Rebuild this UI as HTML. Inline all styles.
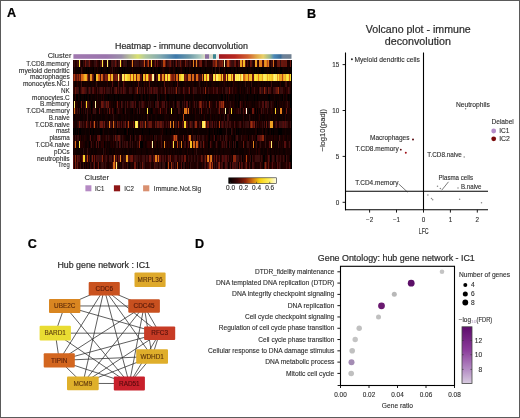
<!DOCTYPE html>
<html><head><meta charset="utf-8"><style>
html,body{margin:0;padding:0;background:#fff;}
body{width:520px;height:418px;overflow:hidden;}
.fig{position:absolute;left:0;top:0;width:518px;height:416px;border:1px solid #5a5a5a;background:#fff;}
svg{position:absolute;left:-1px;top:-1px;filter:blur(0.3px);}
text{font-family:"Liberation Sans", sans-serif;stroke:currentColor;stroke-width:0.12px;}
text.big{stroke-width:0.22px;}

</style></head><body><div class="fig"><svg width="520" height="418" viewBox="0 0 520 418">
<text x="7.00" y="17.00" font-size="12.6" fill="#000" color="#000" class="big" font-weight="bold">A</text>
<text x="307.10" y="18.40" font-size="12.6" fill="#000" color="#000" class="big" font-weight="bold">B</text>
<text x="27.70" y="247.70" font-size="12.6" fill="#000" color="#000" class="big" font-weight="bold">C</text>
<text x="195.10" y="247.70" font-size="12.6" fill="#000" color="#000" class="big" font-weight="bold">D</text>
<text x="115.00" y="48.90" font-size="8.9" fill="#2e2e2e" color="#2e2e2e" class="big" textLength="132.90" lengthAdjust="spacingAndGlyphs">Heatmap - immune deconvolution</text>
<text x="47.70" y="58.40" font-size="7.6" fill="#2e2e2e" color="#2e2e2e" textLength="23.80" lengthAdjust="spacingAndGlyphs">Cluster</text>
<text x="26.25" y="65.75" font-size="6.6" fill="#2e2e2e" color="#2e2e2e" textLength="43.45" lengthAdjust="spacingAndGlyphs">T.CD8.memory</text>
<text x="18.75" y="72.52" font-size="6.6" fill="#2e2e2e" color="#2e2e2e" textLength="50.95" lengthAdjust="spacingAndGlyphs">myeloid dendritic</text>
<text x="30.00" y="79.29" font-size="6.6" fill="#2e2e2e" color="#2e2e2e" textLength="39.70" lengthAdjust="spacingAndGlyphs">macrophages</text>
<text x="22.90" y="86.06" font-size="6.6" fill="#2e2e2e" color="#2e2e2e" textLength="46.80" lengthAdjust="spacingAndGlyphs">monocytes.NC.I</text>
<text x="60.90" y="92.83" font-size="6.6" fill="#2e2e2e" color="#2e2e2e" textLength="8.80" lengthAdjust="spacingAndGlyphs">NK</text>
<text x="32.00" y="99.59" font-size="6.6" fill="#2e2e2e" color="#2e2e2e" textLength="37.70" lengthAdjust="spacingAndGlyphs">monocytes.C</text>
<text x="40.00" y="106.36" font-size="6.6" fill="#2e2e2e" color="#2e2e2e" textLength="29.70" lengthAdjust="spacingAndGlyphs">B.memory</text>
<text x="26.25" y="113.13" font-size="6.6" fill="#2e2e2e" color="#2e2e2e" textLength="43.45" lengthAdjust="spacingAndGlyphs">T.CD4.memory</text>
<text x="48.75" y="119.90" font-size="6.6" fill="#2e2e2e" color="#2e2e2e" textLength="20.95" lengthAdjust="spacingAndGlyphs">B.naive</text>
<text x="35.00" y="126.67" font-size="6.6" fill="#2e2e2e" color="#2e2e2e" textLength="34.70" lengthAdjust="spacingAndGlyphs">T.CD8.naive</text>
<text x="55.90" y="133.44" font-size="6.6" fill="#2e2e2e" color="#2e2e2e" textLength="13.80" lengthAdjust="spacingAndGlyphs">mast</text>
<text x="49.40" y="140.21" font-size="6.6" fill="#2e2e2e" color="#2e2e2e" textLength="20.30" lengthAdjust="spacingAndGlyphs">plasma</text>
<text x="35.50" y="146.98" font-size="6.6" fill="#2e2e2e" color="#2e2e2e" textLength="34.20" lengthAdjust="spacingAndGlyphs">T.CD4.naive</text>
<text x="54.00" y="153.74" font-size="6.6" fill="#2e2e2e" color="#2e2e2e" textLength="15.70" lengthAdjust="spacingAndGlyphs">pDCs</text>
<text x="37.10" y="160.51" font-size="6.6" fill="#2e2e2e" color="#2e2e2e" textLength="32.60" lengthAdjust="spacingAndGlyphs">neutrophils</text>
<text x="57.90" y="167.28" font-size="6.6" fill="#2e2e2e" color="#2e2e2e" textLength="11.80" lengthAdjust="spacingAndGlyphs">Treg</text>
<defs><linearGradient id="cl" x1="0" x2="1" y1="0" y2="0">
<stop offset="0" stop-color="#a078b0"/><stop offset="0.15" stop-color="#9a74ac"/><stop offset="0.22" stop-color="#9a8ea8"/>
<stop offset="0.26" stop-color="#b8c098"/><stop offset="0.295" stop-color="#d8e070"/><stop offset="0.33" stop-color="#b0c8a0"/>
<stop offset="0.4" stop-color="#80a8b0"/><stop offset="0.47" stop-color="#3c78aa"/><stop offset="0.53" stop-color="#6a98a8"/>
<stop offset="0.58" stop-color="#a8c8c0"/><stop offset="0.6" stop-color="#d8dcc4"/>
<stop offset="0.6" stop-color="#d8dcc4"/><stop offset="0.605" stop-color="#d8dcc4"/>
<stop offset="0.605" stop-color="#8a70a0"/><stop offset="0.62" stop-color="#8a70a0"/>
<stop offset="0.62" stop-color="#d0d4c4"/><stop offset="0.64" stop-color="#d0d4c4"/>
<stop offset="0.64" stop-color="#3a8490"/><stop offset="0.655" stop-color="#3a8490"/>
<stop offset="0.655" stop-color="#e8e8e8"/><stop offset="0.667" stop-color="#e8e8e8"/>
<stop offset="0.667" stop-color="#a01820"/><stop offset="0.74" stop-color="#b82820"/><stop offset="0.8" stop-color="#d06030"/>
<stop offset="0.84" stop-color="#e0a848"/><stop offset="0.87" stop-color="#e8d068"/><stop offset="0.9" stop-color="#98b890"/>
<stop offset="0.92" stop-color="#4a88b8"/><stop offset="0.95" stop-color="#3a6c98"/><stop offset="0.96" stop-color="#6a8098"/>
<stop offset="1" stop-color="#708090"/>
</linearGradient>
<linearGradient id="cb" x1="0" x2="1" y1="0" y2="0">
<stop offset="0" stop-color="#000"/><stop offset="0.18" stop-color="#3a0606"/><stop offset="0.35" stop-color="#8a2008"/>
<stop offset="0.5" stop-color="#d07010"/><stop offset="0.65" stop-color="#f8d010"/><stop offset="0.85" stop-color="#fff060"/>
<stop offset="1" stop-color="#fffce8"/></linearGradient>
<linearGradient id="fdr" x1="0" x2="0" y1="0" y2="1">
<stop offset="0" stop-color="#5e0c6c"/><stop offset="0.4" stop-color="#8a3a9a"/><stop offset="0.75" stop-color="#b48cc4"/><stop offset="1" stop-color="#d8cce0"/></linearGradient>
</defs>
<rect x="73.40" y="54.20" width="218.10" height="4.60" fill="url(#cl)"/>
<defs><filter id="hb" x="-2%" y="-2%" width="104%" height="104%"><feGaussianBlur stdDeviation="0.55 0.3"/></filter></defs><g shape-rendering="crispEdges" filter="url(#hb)">
<rect x="73.4" y="60.2" width="218.10" height="108.30" fill="#040002"/>
<rect x="73.4" y="60.20" width="1" height="6.77" fill="#2b0606"/>
<rect x="74.4" y="60.20" width="1" height="6.77" fill="#3a0808"/>
<rect x="75.4" y="60.20" width="1" height="6.77" fill="#1f0405"/>
<rect x="76.4" y="60.20" width="1" height="6.77" fill="#2b0606"/>
<rect x="77.4" y="60.20" width="1" height="6.77" fill="#450b0a"/>
<rect x="78.4" y="60.20" width="1" height="6.77" fill="#350707"/>
<rect x="79.4" y="60.20" width="1" height="6.77" fill="#fce440"/>
<rect x="80.4" y="60.20" width="1" height="6.77" fill="#410a09"/>
<rect x="81.4" y="60.20" width="1" height="6.77" fill="#140204"/>
<rect x="82.4" y="60.20" width="1" height="6.77" fill="#130204"/>
<rect x="83.4" y="60.20" width="1" height="6.77" fill="#360808"/>
<rect x="84.4" y="60.20" width="1" height="6.77" fill="#2f0606"/>
<rect x="85.4" y="60.20" width="1" height="6.77" fill="#6e180e"/>
<rect x="86.4" y="60.20" width="1" height="6.77" fill="#370808"/>
<rect x="87.4" y="60.20" width="1" height="6.77" fill="#3b0808"/>
<rect x="88.4" y="60.20" width="1" height="6.77" fill="#490c0b"/>
<rect x="89.4" y="60.20" width="1" height="6.77" fill="#6e180e"/>
<rect x="90.4" y="60.20" width="1" height="6.77" fill="#2d0606"/>
<rect x="91.4" y="60.20" width="1" height="6.77" fill="#270506"/>
<rect x="92.4" y="60.20" width="1" height="6.77" fill="#1e0305"/>
<rect x="93.4" y="60.20" width="1" height="6.77" fill="#210405"/>
<rect x="94.4" y="60.20" width="1" height="6.77" fill="#340707"/>
<rect x="95.4" y="60.20" width="1" height="6.77" fill="#310707"/>
<rect x="96.4" y="60.20" width="1" height="6.77" fill="#4c0c0b"/>
<rect x="97.4" y="60.20" width="1" height="6.77" fill="#2d0606"/>
<rect x="98.4" y="60.20" width="1" height="6.77" fill="#210405"/>
<rect x="99.4" y="60.20" width="1" height="6.77" fill="#170305"/>
<rect x="100.4" y="60.20" width="1" height="6.77" fill="#400a09"/>
<rect x="101.4" y="60.20" width="1" height="6.77" fill="#4f0d0b"/>
<rect x="102.4" y="60.20" width="1" height="6.77" fill="#fce440"/>
<rect x="103.4" y="60.20" width="1" height="6.77" fill="#3c0909"/>
<rect x="104.4" y="60.20" width="1" height="6.77" fill="#240506"/>
<rect x="105.4" y="60.20" width="1" height="6.77" fill="#1e0305"/>
<rect x="106.4" y="60.20" width="1" height="6.77" fill="#260506"/>
<rect x="107.4" y="60.20" width="1" height="6.77" fill="#fff070"/>
<rect x="108.4" y="60.20" width="1" height="6.77" fill="#340707"/>
<rect x="109.4" y="60.20" width="1" height="6.77" fill="#110204"/>
<rect x="110.4" y="60.20" width="1" height="6.77" fill="#090103"/>
<rect x="111.4" y="60.20" width="1" height="6.77" fill="#3c0909"/>
<rect x="112.4" y="60.20" width="1" height="6.77" fill="#440a0a"/>
<rect x="113.4" y="60.20" width="1" height="6.77" fill="#350707"/>
<rect x="114.4" y="60.20" width="1" height="6.77" fill="#340707"/>
<rect x="115.4" y="60.20" width="1" height="6.77" fill="#6e180e"/>
<rect x="116.4" y="60.20" width="1" height="6.77" fill="#440a0a"/>
<rect x="117.4" y="60.20" width="1" height="6.77" fill="#1b0305"/>
<rect x="118.4" y="60.20" width="1" height="6.77" fill="#370808"/>
<rect x="119.4" y="60.20" width="1" height="6.77" fill="#3a0808"/>
<rect x="120.4" y="60.20" width="1" height="6.77" fill="#fce440"/>
<rect x="121.4" y="60.20" width="1" height="6.77" fill="#5b110d"/>
<rect x="122.4" y="60.20" width="1" height="6.77" fill="#140204"/>
<rect x="123.4" y="60.20" width="1" height="6.77" fill="#310707"/>
<rect x="124.4" y="60.20" width="1" height="6.77" fill="#3e0909"/>
<rect x="125.4" y="60.20" width="1" height="6.77" fill="#2f0707"/>
<rect x="126.4" y="60.20" width="1" height="6.77" fill="#310707"/>
<rect x="127.4" y="60.20" width="1" height="6.77" fill="#0d0103"/>
<rect x="128.4" y="60.20" width="1" height="6.77" fill="#1e0305"/>
<rect x="129.4" y="60.20" width="1" height="6.77" fill="#1c0305"/>
<rect x="130.4" y="60.20" width="1" height="6.77" fill="#1d0305"/>
<rect x="131.4" y="60.20" width="1" height="6.77" fill="#370808"/>
<rect x="132.4" y="60.20" width="1" height="6.77" fill="#e4801c"/>
<rect x="133.4" y="60.20" width="1" height="6.77" fill="#290506"/>
<rect x="134.4" y="60.20" width="1" height="6.77" fill="#350808"/>
<rect x="135.4" y="60.20" width="1" height="6.77" fill="#3c0909"/>
<rect x="136.4" y="60.20" width="1" height="6.77" fill="#350808"/>
<rect x="137.4" y="60.20" width="2" height="6.77" fill="#300707"/>
<rect x="139.4" y="60.20" width="1" height="6.77" fill="#2d0606"/>
<rect x="140.4" y="60.20" width="1" height="6.77" fill="#330707"/>
<rect x="141.4" y="60.20" width="1" height="6.77" fill="#390808"/>
<rect x="142.4" y="60.20" width="1" height="6.77" fill="#3c0909"/>
<rect x="143.4" y="60.20" width="1" height="6.77" fill="#4e0d0b"/>
<rect x="144.4" y="60.20" width="1" height="6.77" fill="#c85414"/>
<rect x="145.4" y="60.20" width="1" height="6.77" fill="#280506"/>
<rect x="146.4" y="60.20" width="1" height="6.77" fill="#300707"/>
<rect x="147.4" y="60.20" width="1" height="6.77" fill="#6e180e"/>
<rect x="148.4" y="60.20" width="1" height="6.77" fill="#b34010"/>
<rect x="149.4" y="60.20" width="1" height="6.77" fill="#250506"/>
<rect x="150.4" y="60.20" width="1" height="6.77" fill="#580f0c"/>
<rect x="151.4" y="60.20" width="1" height="6.77" fill="#f8d42c"/>
<rect x="152.4" y="60.20" width="1" height="6.77" fill="#2a0606"/>
<rect x="153.4" y="60.20" width="1" height="6.77" fill="#280506"/>
<rect x="154.4" y="60.20" width="1" height="6.77" fill="#380808"/>
<rect x="155.4" y="60.20" width="1" height="6.77" fill="#6e180e"/>
<rect x="156.4" y="60.20" width="1" height="6.77" fill="#200405"/>
<rect x="157.4" y="60.20" width="1" height="6.77" fill="#5d110d"/>
<rect x="158.4" y="60.20" width="1" height="6.77" fill="#2c0606"/>
<rect x="159.4" y="60.20" width="1" height="6.77" fill="#2f0606"/>
<rect x="160.4" y="60.20" width="1" height="6.77" fill="#230405"/>
<rect x="161.4" y="60.20" width="1" height="6.77" fill="#340707"/>
<rect x="162.4" y="60.20" width="1" height="6.77" fill="#300707"/>
<rect x="163.4" y="60.20" width="2" height="6.77" fill="#b44010"/>
<rect x="165.4" y="60.20" width="1" height="6.77" fill="#6c170e"/>
<rect x="166.4" y="60.20" width="1" height="6.77" fill="#2c0606"/>
<rect x="167.4" y="60.20" width="1" height="6.77" fill="#310707"/>
<rect x="168.4" y="60.20" width="1" height="6.77" fill="#3d0909"/>
<rect x="169.4" y="60.20" width="1" height="6.77" fill="#520e0c"/>
<rect x="170.4" y="60.20" width="1" height="6.77" fill="#6e180e"/>
<rect x="171.4" y="60.20" width="1" height="6.77" fill="#320707"/>
<rect x="172.4" y="60.20" width="1" height="6.77" fill="#280506"/>
<rect x="173.4" y="60.20" width="1" height="6.77" fill="#360808"/>
<rect x="174.4" y="60.20" width="1" height="6.77" fill="#150204"/>
<rect x="175.4" y="60.20" width="1" height="6.77" fill="#340707"/>
<rect x="176.4" y="60.20" width="1" height="6.77" fill="#6e180e"/>
<rect x="177.4" y="60.20" width="1" height="6.77" fill="#210405"/>
<rect x="178.4" y="60.20" width="1" height="6.77" fill="#3c0909"/>
<rect x="179.4" y="60.20" width="1" height="6.77" fill="#350707"/>
<rect x="180.4" y="60.20" width="1" height="6.77" fill="#6e180e"/>
<rect x="181.4" y="60.20" width="1" height="6.77" fill="#330707"/>
<rect x="182.4" y="60.20" width="2" height="6.77" fill="#260506"/>
<rect x="184.4" y="60.20" width="1" height="6.77" fill="#220405"/>
<rect x="185.4" y="60.20" width="1" height="6.77" fill="#711a0e"/>
<rect x="186.4" y="60.20" width="1" height="6.77" fill="#340707"/>
<rect x="187.4" y="60.20" width="1" height="6.77" fill="#440a0a"/>
<rect x="188.4" y="60.20" width="1" height="6.77" fill="#280506"/>
<rect x="189.4" y="60.20" width="1" height="6.77" fill="#330707"/>
<rect x="190.4" y="60.20" width="1" height="6.77" fill="#3e0909"/>
<rect x="191.4" y="60.20" width="1" height="6.77" fill="#240405"/>
<rect x="192.4" y="60.20" width="1" height="6.77" fill="#280506"/>
<rect x="193.4" y="60.20" width="1" height="6.77" fill="#e4801c"/>
<rect x="194.4" y="60.20" width="1" height="6.77" fill="#260506"/>
<rect x="195.4" y="60.20" width="1" height="6.77" fill="#410a09"/>
<rect x="196.4" y="60.20" width="1" height="6.77" fill="#e4801c"/>
<rect x="197.4" y="60.20" width="1" height="6.77" fill="#3a0808"/>
<rect x="198.4" y="60.20" width="1" height="6.77" fill="#2b0606"/>
<rect x="199.4" y="60.20" width="1" height="6.77" fill="#58100c"/>
<rect x="200.4" y="60.20" width="2" height="6.77" fill="#6e180e"/>
<rect x="202.4" y="60.20" width="1" height="6.77" fill="#1a0305"/>
<rect x="203.4" y="60.20" width="1" height="6.77" fill="#150204"/>
<rect x="204.4" y="60.20" width="1" height="6.77" fill="#250506"/>
<rect x="205.4" y="60.20" width="1" height="6.77" fill="#300707"/>
<rect x="206.4" y="60.20" width="1" height="6.77" fill="#400909"/>
<rect x="207.4" y="60.20" width="1" height="6.77" fill="#160204"/>
<rect x="208.4" y="60.20" width="1" height="6.77" fill="#240405"/>
<rect x="209.4" y="60.20" width="1" height="6.77" fill="#1f0405"/>
<rect x="210.4" y="60.20" width="1" height="6.77" fill="#220405"/>
<rect x="211.4" y="60.20" width="1" height="6.77" fill="#1b0305"/>
<rect x="212.4" y="60.20" width="1" height="6.77" fill="#370808"/>
<rect x="213.4" y="60.20" width="1" height="6.77" fill="#7a1e0e"/>
<rect x="214.4" y="60.20" width="1" height="6.77" fill="#5e120d"/>
<rect x="215.4" y="60.20" width="1" height="6.77" fill="#8c280e"/>
<rect x="216.4" y="60.20" width="1" height="6.77" fill="#ac3b10"/>
<rect x="217.4" y="60.20" width="1" height="6.77" fill="#3e0909"/>
<rect x="218.4" y="60.20" width="1" height="6.77" fill="#470b0a"/>
<rect x="219.4" y="60.20" width="1" height="6.77" fill="#5e120d"/>
<rect x="220.4" y="60.20" width="2" height="6.77" fill="#6e180e"/>
<rect x="222.4" y="60.20" width="1" height="6.77" fill="#86250e"/>
<rect x="223.4" y="60.20" width="1" height="6.77" fill="#350808"/>
<rect x="224.4" y="60.20" width="1" height="6.77" fill="#fff6a8"/>
<rect x="225.4" y="60.20" width="1" height="6.77" fill="#290506"/>
<rect x="226.4" y="60.20" width="1" height="6.77" fill="#540e0c"/>
<rect x="227.4" y="60.20" width="1" height="6.77" fill="#b44010"/>
<rect x="228.4" y="60.20" width="1" height="6.77" fill="#c04c12"/>
<rect x="229.4" y="60.20" width="1" height="6.77" fill="#7a1e0e"/>
<rect x="230.4" y="60.20" width="1" height="6.77" fill="#540e0c"/>
<rect x="231.4" y="60.20" width="1" height="6.77" fill="#3d0909"/>
<rect x="232.4" y="60.20" width="1" height="6.77" fill="#380808"/>
<rect x="233.4" y="60.20" width="1" height="6.77" fill="#310707"/>
<rect x="234.4" y="60.20" width="1" height="6.77" fill="#5e120d"/>
<rect x="235.4" y="60.20" width="1" height="6.77" fill="#6e180e"/>
<rect x="236.4" y="60.20" width="2" height="6.77" fill="#2c0606"/>
<rect x="238.4" y="60.20" width="1" height="6.77" fill="#580f0c"/>
<rect x="239.4" y="60.20" width="1" height="6.77" fill="#380808"/>
<rect x="240.4" y="60.20" width="2" height="6.77" fill="#eea024"/>
<rect x="242.4" y="60.20" width="1" height="6.77" fill="#87250e"/>
<rect x="243.4" y="60.20" width="2" height="6.77" fill="#f4bc28"/>
<rect x="245.4" y="60.20" width="1" height="6.77" fill="#6b170e"/>
<rect x="246.4" y="60.20" width="1" height="6.77" fill="#1e0305"/>
<rect x="247.4" y="60.20" width="1" height="6.77" fill="#4b0c0b"/>
<rect x="248.4" y="60.20" width="1" height="6.77" fill="#250506"/>
<rect x="249.4" y="60.20" width="1" height="6.77" fill="#180305"/>
<rect x="250.4" y="60.20" width="1" height="6.77" fill="#6e180e"/>
<rect x="251.4" y="60.20" width="1" height="6.77" fill="#61130d"/>
<rect x="252.4" y="60.20" width="1" height="6.77" fill="#2f0707"/>
<rect x="253.4" y="60.20" width="1" height="6.77" fill="#220405"/>
<rect x="254.4" y="60.20" width="1" height="6.77" fill="#2e0606"/>
<rect x="255.4" y="60.20" width="2" height="6.77" fill="#eea024"/>
<rect x="257.4" y="60.20" width="1" height="6.77" fill="#410a09"/>
<rect x="258.4" y="60.20" width="1" height="6.77" fill="#2c0606"/>
<rect x="259.4" y="60.20" width="3" height="6.77" fill="#e4801c"/>
<rect x="262.4" y="60.20" width="1" height="6.77" fill="#59100c"/>
<rect x="263.4" y="60.20" width="1" height="6.77" fill="#3f0909"/>
<rect x="264.4" y="60.20" width="1" height="6.77" fill="#e6871e"/>
<rect x="265.4" y="60.20" width="1" height="6.77" fill="#eb9722"/>
<rect x="266.4" y="60.20" width="1" height="6.77" fill="#e4811c"/>
<rect x="267.4" y="60.20" width="1" height="6.77" fill="#c04c12"/>
<rect x="268.4" y="60.20" width="1" height="6.77" fill="#e0781b"/>
<rect x="269.4" y="60.20" width="1" height="6.77" fill="#3a0808"/>
<rect x="270.4" y="60.20" width="1" height="6.77" fill="#270506"/>
<rect x="271.4" y="60.20" width="1" height="6.77" fill="#3d0909"/>
<rect x="272.4" y="60.20" width="1" height="6.77" fill="#380808"/>
<rect x="273.4" y="60.20" width="1" height="6.77" fill="#d86818"/>
<rect x="274.4" y="60.20" width="1" height="6.77" fill="#280506"/>
<rect x="275.4" y="60.20" width="1" height="6.77" fill="#200405"/>
<rect x="276.4" y="60.20" width="1" height="6.77" fill="#260506"/>
<rect x="277.4" y="60.20" width="1" height="6.77" fill="#63140d"/>
<rect x="278.4" y="60.20" width="2" height="6.77" fill="#69160e"/>
<rect x="280.4" y="60.20" width="1" height="6.77" fill="#330707"/>
<rect x="281.4" y="60.20" width="2" height="6.77" fill="#69160e"/>
<rect x="283.4" y="60.20" width="3" height="6.77" fill="#64140d"/>
<rect x="286.4" y="60.20" width="1" height="6.77" fill="#69160e"/>
<rect x="287.4" y="60.20" width="3" height="6.77" fill="#1c0305"/>
<rect x="290.4" y="60.20" width="1" height="6.77" fill="#69160e"/>
<rect x="73.4" y="66.97" width="1" height="6.77" fill="#080103"/>
<rect x="74.4" y="66.97" width="1" height="6.77" fill="#2a0606"/>
<rect x="75.4" y="66.97" width="1" height="6.77" fill="#110204"/>
<rect x="76.4" y="66.97" width="1" height="6.77" fill="#0c0103"/>
<rect x="77.4" y="66.97" width="1" height="6.77" fill="#0b0103"/>
<rect x="78.4" y="66.97" width="1" height="6.77" fill="#100204"/>
<rect x="79.4" y="66.97" width="1" height="6.77" fill="#0f0204"/>
<rect x="80.4" y="66.97" width="1" height="6.77" fill="#0d0204"/>
<rect x="81.4" y="66.97" width="1" height="6.77" fill="#310707"/>
<rect x="82.4" y="66.97" width="1" height="6.77" fill="#200405"/>
<rect x="83.4" y="66.97" width="1" height="6.77" fill="#070002"/>
<rect x="84.4" y="66.97" width="1" height="6.77" fill="#090103"/>
<rect x="85.4" y="66.97" width="1" height="6.77" fill="#0e0204"/>
<rect x="86.4" y="66.97" width="1" height="6.77" fill="#060002"/>
<rect x="87.4" y="66.97" width="1" height="6.77" fill="#0b0103"/>
<rect x="88.4" y="66.97" width="1" height="6.77" fill="#050002"/>
<rect x="89.4" y="66.97" width="1" height="6.77" fill="#0b0103"/>
<rect x="90.4" y="66.97" width="1" height="6.77" fill="#080103"/>
<rect x="91.4" y="66.97" width="1" height="6.77" fill="#0f0204"/>
<rect x="92.4" y="66.97" width="1" height="6.77" fill="#0c0103"/>
<rect x="93.4" y="66.97" width="1" height="6.77" fill="#050002"/>
<rect x="94.4" y="66.97" width="1" height="6.77" fill="#1d0305"/>
<rect x="95.4" y="66.97" width="1" height="6.77" fill="#120204"/>
<rect x="96.4" y="66.97" width="1" height="6.77" fill="#0a0103"/>
<rect x="97.4" y="66.97" width="1" height="6.77" fill="#200405"/>
<rect x="98.4" y="66.97" width="1" height="6.77" fill="#0f0204"/>
<rect x="99.4" y="66.97" width="1" height="6.77" fill="#090103"/>
<rect x="100.4" y="66.97" width="1" height="6.77" fill="#0d0204"/>
<rect x="101.4" y="66.97" width="1" height="6.77" fill="#060002"/>
<rect x="102.4" y="66.97" width="1" height="6.77" fill="#0b0103"/>
<rect x="103.4" y="66.97" width="1" height="6.77" fill="#0a0103"/>
<rect x="104.4" y="66.97" width="1" height="6.77" fill="#120204"/>
<rect x="105.4" y="66.97" width="2" height="6.77" fill="#0a0103"/>
<rect x="107.4" y="66.97" width="1" height="6.77" fill="#060002"/>
<rect x="108.4" y="66.97" width="1" height="6.77" fill="#090103"/>
<rect x="109.4" y="66.97" width="1" height="6.77" fill="#0a0103"/>
<rect x="110.4" y="66.97" width="1" height="6.77" fill="#200405"/>
<rect x="111.4" y="66.97" width="1" height="6.77" fill="#1a0305"/>
<rect x="112.4" y="66.97" width="1" height="6.77" fill="#320707"/>
<rect x="113.4" y="66.97" width="1" height="6.77" fill="#0f0204"/>
<rect x="114.4" y="66.97" width="1" height="6.77" fill="#200405"/>
<rect x="115.4" y="66.97" width="1" height="6.77" fill="#0d0204"/>
<rect x="116.4" y="66.97" width="1" height="6.77" fill="#120204"/>
<rect x="117.4" y="66.97" width="1" height="6.77" fill="#090103"/>
<rect x="118.4" y="66.97" width="1" height="6.77" fill="#0f0204"/>
<rect x="119.4" y="66.97" width="1" height="6.77" fill="#040002"/>
<rect x="120.4" y="66.97" width="1" height="6.77" fill="#0a0103"/>
<rect x="121.4" y="66.97" width="1" height="6.77" fill="#0c0103"/>
<rect x="122.4" y="66.97" width="1" height="6.77" fill="#050002"/>
<rect x="123.4" y="66.97" width="1" height="6.77" fill="#0a0103"/>
<rect x="124.4" y="66.97" width="1" height="6.77" fill="#060002"/>
<rect x="125.4" y="66.97" width="1" height="6.77" fill="#0b0103"/>
<rect x="126.4" y="66.97" width="1" height="6.77" fill="#0c0103"/>
<rect x="127.4" y="66.97" width="1" height="6.77" fill="#0a0103"/>
<rect x="128.4" y="66.97" width="1" height="6.77" fill="#080103"/>
<rect x="129.4" y="66.97" width="1" height="6.77" fill="#0d0204"/>
<rect x="130.4" y="66.97" width="1" height="6.77" fill="#070103"/>
<rect x="131.4" y="66.97" width="1" height="6.77" fill="#0e0204"/>
<rect x="132.4" y="66.97" width="1" height="6.77" fill="#240405"/>
<rect x="133.4" y="66.97" width="1" height="6.77" fill="#100204"/>
<rect x="134.4" y="66.97" width="1" height="6.77" fill="#0b0103"/>
<rect x="135.4" y="66.97" width="1" height="6.77" fill="#0f0204"/>
<rect x="136.4" y="66.97" width="1" height="6.77" fill="#0c0103"/>
<rect x="137.4" y="66.97" width="1" height="6.77" fill="#070002"/>
<rect x="138.4" y="66.97" width="1" height="6.77" fill="#090103"/>
<rect x="139.4" y="66.97" width="1" height="6.77" fill="#100204"/>
<rect x="140.4" y="66.97" width="1" height="6.77" fill="#040002"/>
<rect x="141.4" y="66.97" width="1" height="6.77" fill="#0a0103"/>
<rect x="142.4" y="66.97" width="1" height="6.77" fill="#070103"/>
<rect x="143.4" y="66.97" width="1" height="6.77" fill="#0f0204"/>
<rect x="144.4" y="66.97" width="1" height="6.77" fill="#0c0103"/>
<rect x="145.4" y="66.97" width="1" height="6.77" fill="#0e0204"/>
<rect x="146.4" y="66.97" width="1" height="6.77" fill="#0f0204"/>
<rect x="147.4" y="66.97" width="1" height="6.77" fill="#050002"/>
<rect x="148.4" y="66.97" width="2" height="6.77" fill="#0a0103"/>
<rect x="150.4" y="66.97" width="1" height="6.77" fill="#100204"/>
<rect x="151.4" y="66.97" width="1" height="6.77" fill="#060002"/>
<rect x="152.4" y="66.97" width="1" height="6.77" fill="#0f0204"/>
<rect x="153.4" y="66.97" width="1" height="6.77" fill="#120204"/>
<rect x="154.4" y="66.97" width="1" height="6.77" fill="#050002"/>
<rect x="155.4" y="66.97" width="1" height="6.77" fill="#110204"/>
<rect x="156.4" y="66.97" width="1" height="6.77" fill="#0b0103"/>
<rect x="157.4" y="66.97" width="1" height="6.77" fill="#0f0204"/>
<rect x="158.4" y="66.97" width="2" height="6.77" fill="#060002"/>
<rect x="160.4" y="66.97" width="1" height="6.77" fill="#0e0204"/>
<rect x="161.4" y="66.97" width="1" height="6.77" fill="#110204"/>
<rect x="162.4" y="66.97" width="1" height="6.77" fill="#1e0305"/>
<rect x="163.4" y="66.97" width="1" height="6.77" fill="#270506"/>
<rect x="164.4" y="66.97" width="1" height="6.77" fill="#120204"/>
<rect x="165.4" y="66.97" width="1" height="6.77" fill="#0c0103"/>
<rect x="166.4" y="66.97" width="1" height="6.77" fill="#0f0204"/>
<rect x="167.4" y="66.97" width="1" height="6.77" fill="#080103"/>
<rect x="168.4" y="66.97" width="1" height="6.77" fill="#070002"/>
<rect x="169.4" y="66.97" width="1" height="6.77" fill="#270506"/>
<rect x="170.4" y="66.97" width="1" height="6.77" fill="#120204"/>
<rect x="171.4" y="66.97" width="1" height="6.77" fill="#090103"/>
<rect x="172.4" y="66.97" width="1" height="6.77" fill="#070103"/>
<rect x="173.4" y="66.97" width="1" height="6.77" fill="#200405"/>
<rect x="174.4" y="66.97" width="1" height="6.77" fill="#1d0305"/>
<rect x="175.4" y="66.97" width="1" height="6.77" fill="#110204"/>
<rect x="176.4" y="66.97" width="1" height="6.77" fill="#050002"/>
<rect x="177.4" y="66.97" width="1" height="6.77" fill="#0a0103"/>
<rect x="178.4" y="66.97" width="1" height="6.77" fill="#0b0103"/>
<rect x="179.4" y="66.97" width="1" height="6.77" fill="#0e0204"/>
<rect x="180.4" y="66.97" width="1" height="6.77" fill="#1b0305"/>
<rect x="181.4" y="66.97" width="1" height="6.77" fill="#270506"/>
<rect x="182.4" y="66.97" width="2" height="6.77" fill="#070002"/>
<rect x="184.4" y="66.97" width="1" height="6.77" fill="#080103"/>
<rect x="185.4" y="66.97" width="1" height="6.77" fill="#060002"/>
<rect x="186.4" y="66.97" width="1" height="6.77" fill="#0d0103"/>
<rect x="187.4" y="66.97" width="1" height="6.77" fill="#0b0103"/>
<rect x="188.4" y="66.97" width="1" height="6.77" fill="#050002"/>
<rect x="189.4" y="66.97" width="1" height="6.77" fill="#1e0305"/>
<rect x="190.4" y="66.97" width="1" height="6.77" fill="#0d0103"/>
<rect x="191.4" y="66.97" width="1" height="6.77" fill="#0e0204"/>
<rect x="192.4" y="66.97" width="1" height="6.77" fill="#0a0103"/>
<rect x="193.4" y="66.97" width="1" height="6.77" fill="#090103"/>
<rect x="194.4" y="66.97" width="1" height="6.77" fill="#050002"/>
<rect x="195.4" y="66.97" width="1" height="6.77" fill="#070002"/>
<rect x="196.4" y="66.97" width="1" height="6.77" fill="#0c0103"/>
<rect x="197.4" y="66.97" width="1" height="6.77" fill="#080103"/>
<rect x="198.4" y="66.97" width="1" height="6.77" fill="#100204"/>
<rect x="199.4" y="66.97" width="1" height="6.77" fill="#0a0103"/>
<rect x="200.4" y="66.97" width="1" height="6.77" fill="#050002"/>
<rect x="201.4" y="66.97" width="1" height="6.77" fill="#0a0103"/>
<rect x="202.4" y="66.97" width="1" height="6.77" fill="#0c0103"/>
<rect x="203.4" y="66.97" width="1" height="6.77" fill="#090103"/>
<rect x="204.4" y="66.97" width="1" height="6.77" fill="#080103"/>
<rect x="205.4" y="66.97" width="1" height="6.77" fill="#050002"/>
<rect x="206.4" y="66.97" width="1" height="6.77" fill="#070002"/>
<rect x="207.4" y="66.97" width="1" height="6.77" fill="#0a0103"/>
<rect x="208.4" y="66.97" width="1" height="6.77" fill="#0f0204"/>
<rect x="209.4" y="66.97" width="2" height="6.77" fill="#0d0204"/>
<rect x="211.4" y="66.97" width="1" height="6.77" fill="#090103"/>
<rect x="212.4" y="66.97" width="1" height="6.77" fill="#200405"/>
<rect x="213.4" y="66.97" width="1" height="6.77" fill="#050002"/>
<rect x="214.4" y="66.97" width="1" height="6.77" fill="#090103"/>
<rect x="215.4" y="66.97" width="1" height="6.77" fill="#2f0707"/>
<rect x="216.4" y="66.97" width="1" height="6.77" fill="#0e0204"/>
<rect x="217.4" y="66.97" width="1" height="6.77" fill="#080103"/>
<rect x="218.4" y="66.97" width="1" height="6.77" fill="#0d0103"/>
<rect x="219.4" y="66.97" width="1" height="6.77" fill="#310707"/>
<rect x="220.4" y="66.97" width="1" height="6.77" fill="#060002"/>
<rect x="221.4" y="66.97" width="1" height="6.77" fill="#0b0103"/>
<rect x="222.4" y="66.97" width="1" height="6.77" fill="#0f0204"/>
<rect x="223.4" y="66.97" width="1" height="6.77" fill="#100204"/>
<rect x="224.4" y="66.97" width="1" height="6.77" fill="#2a0606"/>
<rect x="225.4" y="66.97" width="1" height="6.77" fill="#080103"/>
<rect x="226.4" y="66.97" width="1" height="6.77" fill="#060002"/>
<rect x="227.4" y="66.97" width="1" height="6.77" fill="#100204"/>
<rect x="228.4" y="66.97" width="1" height="6.77" fill="#0f0204"/>
<rect x="229.4" y="66.97" width="1" height="6.77" fill="#0b0103"/>
<rect x="230.4" y="66.97" width="1" height="6.77" fill="#060002"/>
<rect x="231.4" y="66.97" width="1" height="6.77" fill="#0d0204"/>
<rect x="232.4" y="66.97" width="1" height="6.77" fill="#0c0103"/>
<rect x="233.4" y="66.97" width="1" height="6.77" fill="#0a0103"/>
<rect x="234.4" y="66.97" width="1" height="6.77" fill="#050002"/>
<rect x="235.4" y="66.97" width="1" height="6.77" fill="#070103"/>
<rect x="236.4" y="66.97" width="1" height="6.77" fill="#120204"/>
<rect x="237.4" y="66.97" width="1" height="6.77" fill="#060002"/>
<rect x="238.4" y="66.97" width="1" height="6.77" fill="#0b0103"/>
<rect x="239.4" y="66.97" width="1" height="6.77" fill="#070103"/>
<rect x="240.4" y="66.97" width="2" height="6.77" fill="#0f0204"/>
<rect x="242.4" y="66.97" width="2" height="6.77" fill="#080103"/>
<rect x="244.4" y="66.97" width="1" height="6.77" fill="#0a0103"/>
<rect x="245.4" y="66.97" width="1" height="6.77" fill="#070103"/>
<rect x="246.4" y="66.97" width="1" height="6.77" fill="#110204"/>
<rect x="247.4" y="66.97" width="1" height="6.77" fill="#050002"/>
<rect x="248.4" y="66.97" width="1" height="6.77" fill="#080103"/>
<rect x="249.4" y="66.97" width="1" height="6.77" fill="#0d0204"/>
<rect x="250.4" y="66.97" width="1" height="6.77" fill="#170305"/>
<rect x="251.4" y="66.97" width="1" height="6.77" fill="#110204"/>
<rect x="252.4" y="66.97" width="1" height="6.77" fill="#0a0103"/>
<rect x="253.4" y="66.97" width="1" height="6.77" fill="#110204"/>
<rect x="254.4" y="66.97" width="1" height="6.77" fill="#050002"/>
<rect x="255.4" y="66.97" width="1" height="6.77" fill="#100204"/>
<rect x="256.4" y="66.97" width="1" height="6.77" fill="#050002"/>
<rect x="257.4" y="66.97" width="1" height="6.77" fill="#070002"/>
<rect x="258.4" y="66.97" width="1" height="6.77" fill="#0f0204"/>
<rect x="259.4" y="66.97" width="1" height="6.77" fill="#040002"/>
<rect x="260.4" y="66.97" width="1" height="6.77" fill="#0e0204"/>
<rect x="261.4" y="66.97" width="3" height="6.77" fill="#050002"/>
<rect x="264.4" y="66.97" width="1" height="6.77" fill="#110204"/>
<rect x="265.4" y="66.97" width="1" height="6.77" fill="#100204"/>
<rect x="266.4" y="66.97" width="1" height="6.77" fill="#090103"/>
<rect x="267.4" y="66.97" width="1" height="6.77" fill="#190305"/>
<rect x="268.4" y="66.97" width="1" height="6.77" fill="#0b0103"/>
<rect x="269.4" y="66.97" width="1" height="6.77" fill="#0f0204"/>
<rect x="270.4" y="66.97" width="1" height="6.77" fill="#060002"/>
<rect x="271.4" y="66.97" width="1" height="6.77" fill="#0d0204"/>
<rect x="272.4" y="66.97" width="1" height="6.77" fill="#080103"/>
<rect x="273.4" y="66.97" width="1" height="6.77" fill="#0e0204"/>
<rect x="274.4" y="66.97" width="1" height="6.77" fill="#050002"/>
<rect x="275.4" y="66.97" width="1" height="6.77" fill="#110204"/>
<rect x="276.4" y="66.97" width="1" height="6.77" fill="#040002"/>
<rect x="277.4" y="66.97" width="1" height="6.77" fill="#100204"/>
<rect x="278.4" y="66.97" width="1" height="6.77" fill="#0a0103"/>
<rect x="279.4" y="66.97" width="1" height="6.77" fill="#120204"/>
<rect x="280.4" y="66.97" width="1" height="6.77" fill="#060002"/>
<rect x="281.4" y="66.97" width="1" height="6.77" fill="#050002"/>
<rect x="282.4" y="66.97" width="1" height="6.77" fill="#090103"/>
<rect x="283.4" y="66.97" width="1" height="6.77" fill="#140204"/>
<rect x="284.4" y="66.97" width="1" height="6.77" fill="#100204"/>
<rect x="285.4" y="66.97" width="1" height="6.77" fill="#0c0103"/>
<rect x="286.4" y="66.97" width="1" height="6.77" fill="#0f0204"/>
<rect x="287.4" y="66.97" width="1" height="6.77" fill="#090103"/>
<rect x="288.4" y="66.97" width="1" height="6.77" fill="#190305"/>
<rect x="289.4" y="66.97" width="1" height="6.77" fill="#0f0204"/>
<rect x="290.4" y="66.97" width="1" height="6.77" fill="#100204"/>
<rect x="73.4" y="73.74" width="1" height="6.77" fill="#7a1e0e"/>
<rect x="74.4" y="73.74" width="1" height="6.77" fill="#ac3b10"/>
<rect x="75.4" y="73.74" width="2" height="6.77" fill="#5e120d"/>
<rect x="77.4" y="73.74" width="1" height="6.77" fill="#8c280e"/>
<rect x="78.4" y="73.74" width="1" height="6.77" fill="#5e120d"/>
<rect x="79.4" y="73.74" width="1" height="6.77" fill="#a0340f"/>
<rect x="80.4" y="73.74" width="1" height="6.77" fill="#66150d"/>
<rect x="81.4" y="73.74" width="2" height="6.77" fill="#d86818"/>
<rect x="83.4" y="73.74" width="1" height="6.77" fill="#e4801c"/>
<rect x="84.4" y="73.74" width="1" height="6.77" fill="#f0a725"/>
<rect x="85.4" y="73.74" width="1" height="6.77" fill="#f3b928"/>
<rect x="86.4" y="73.74" width="1" height="6.77" fill="#efa625"/>
<rect x="87.4" y="73.74" width="1" height="6.77" fill="#a0340f"/>
<rect x="88.4" y="73.74" width="2" height="6.77" fill="#3e0909"/>
<rect x="90.4" y="73.74" width="1" height="6.77" fill="#eb9521"/>
<rect x="91.4" y="73.74" width="1" height="6.77" fill="#e88c1f"/>
<rect x="92.4" y="73.74" width="1" height="6.77" fill="#771d0e"/>
<rect x="93.4" y="73.74" width="1" height="6.77" fill="#500d0b"/>
<rect x="94.4" y="73.74" width="2" height="6.77" fill="#100204"/>
<rect x="96.4" y="73.74" width="2" height="6.77" fill="#f4bc28"/>
<rect x="98.4" y="73.74" width="1" height="6.77" fill="#d86818"/>
<rect x="99.4" y="73.74" width="1" height="6.77" fill="#c95514"/>
<rect x="100.4" y="73.74" width="1" height="6.77" fill="#490b0a"/>
<rect x="101.4" y="73.74" width="1" height="6.77" fill="#d66618"/>
<rect x="102.4" y="73.74" width="1" height="6.77" fill="#c65214"/>
<rect x="103.4" y="73.74" width="1" height="6.77" fill="#550f0c"/>
<rect x="104.4" y="73.74" width="1" height="6.77" fill="#470b0a"/>
<rect x="105.4" y="73.74" width="2" height="6.77" fill="#80220e"/>
<rect x="107.4" y="73.74" width="1" height="6.77" fill="#6e180e"/>
<rect x="108.4" y="73.74" width="1" height="6.77" fill="#f4bf28"/>
<rect x="109.4" y="73.74" width="1" height="6.77" fill="#f3b928"/>
<rect x="110.4" y="73.74" width="1" height="6.77" fill="#a2350f"/>
<rect x="111.4" y="73.74" width="1" height="6.77" fill="#f1b026"/>
<rect x="112.4" y="73.74" width="1" height="6.77" fill="#f4bd28"/>
<rect x="113.4" y="73.74" width="2" height="6.77" fill="#5e120d"/>
<rect x="115.4" y="73.74" width="1" height="6.77" fill="#6e180e"/>
<rect x="116.4" y="73.74" width="1" height="6.77" fill="#80220e"/>
<rect x="117.4" y="73.74" width="1" height="6.77" fill="#5e120d"/>
<rect x="118.4" y="73.74" width="1" height="6.77" fill="#fff070"/>
<rect x="119.4" y="73.74" width="1" height="6.77" fill="#932c0e"/>
<rect x="120.4" y="73.74" width="2" height="6.77" fill="#3e0909"/>
<rect x="122.4" y="73.74" width="2" height="6.77" fill="#feec60"/>
<rect x="124.4" y="73.74" width="1" height="6.77" fill="#df761a"/>
<rect x="125.4" y="73.74" width="1" height="6.77" fill="#fde952"/>
<rect x="126.4" y="73.74" width="1" height="6.77" fill="#fce440"/>
<rect x="127.4" y="73.74" width="1" height="6.77" fill="#f8d22c"/>
<rect x="128.4" y="73.74" width="1" height="6.77" fill="#f6c62a"/>
<rect x="129.4" y="73.74" width="1" height="6.77" fill="#f5c029"/>
<rect x="130.4" y="73.74" width="1" height="6.77" fill="#ca5715"/>
<rect x="131.4" y="73.74" width="2" height="6.77" fill="#f7cb2b"/>
<rect x="133.4" y="73.74" width="1" height="6.77" fill="#ac3b10"/>
<rect x="134.4" y="73.74" width="1" height="6.77" fill="#f3b727"/>
<rect x="135.4" y="73.74" width="1" height="6.77" fill="#f4bb28"/>
<rect x="136.4" y="73.74" width="1" height="6.77" fill="#6e180e"/>
<rect x="137.4" y="73.74" width="1" height="6.77" fill="#e99120"/>
<rect x="138.4" y="73.74" width="1" height="6.77" fill="#eb9722"/>
<rect x="139.4" y="73.74" width="1" height="6.77" fill="#e37d1c"/>
<rect x="140.4" y="73.74" width="2" height="6.77" fill="#500d0b"/>
<rect x="142.4" y="73.74" width="1" height="6.77" fill="#100204"/>
<rect x="143.4" y="73.74" width="1" height="6.77" fill="#f5c029"/>
<rect x="144.4" y="73.74" width="1" height="6.77" fill="#f4bb28"/>
<rect x="145.4" y="73.74" width="1" height="6.77" fill="#b74311"/>
<rect x="146.4" y="73.74" width="1" height="6.77" fill="#f7cd2b"/>
<rect x="147.4" y="73.74" width="1" height="6.77" fill="#f9d72f"/>
<rect x="148.4" y="73.74" width="1" height="6.77" fill="#ca5614"/>
<rect x="149.4" y="73.74" width="2" height="6.77" fill="#7a1e0e"/>
<rect x="151.4" y="73.74" width="1" height="6.77" fill="#9c320f"/>
<rect x="152.4" y="73.74" width="1" height="6.77" fill="#fff283"/>
<rect x="153.4" y="73.74" width="1" height="6.77" fill="#fff6ad"/>
<rect x="154.4" y="73.74" width="1" height="6.77" fill="#4b0c0b"/>
<rect x="155.4" y="73.74" width="1" height="6.77" fill="#100204"/>
<rect x="156.4" y="73.74" width="1" height="6.77" fill="#500d0b"/>
<rect x="157.4" y="73.74" width="1" height="6.77" fill="#3e0909"/>
<rect x="158.4" y="73.74" width="2" height="6.77" fill="#f8d42c"/>
<rect x="160.4" y="73.74" width="2" height="6.77" fill="#6e180e"/>
<rect x="162.4" y="73.74" width="1" height="6.77" fill="#ec9922"/>
<rect x="163.4" y="73.74" width="1" height="6.77" fill="#e37d1c"/>
<rect x="164.4" y="73.74" width="1" height="6.77" fill="#771d0e"/>
<rect x="165.4" y="73.74" width="1" height="6.77" fill="#f8d12c"/>
<rect x="166.4" y="73.74" width="1" height="6.77" fill="#fce544"/>
<rect x="167.4" y="73.74" width="1" height="6.77" fill="#c75314"/>
<rect x="168.4" y="73.74" width="1" height="6.77" fill="#fce33f"/>
<rect x="169.4" y="73.74" width="1" height="6.77" fill="#f9d730"/>
<rect x="170.4" y="73.74" width="1" height="6.77" fill="#c75314"/>
<rect x="171.4" y="73.74" width="1" height="6.77" fill="#8c280e"/>
<rect x="172.4" y="73.74" width="2" height="6.77" fill="#7a1e0e"/>
<rect x="174.4" y="73.74" width="1" height="6.77" fill="#a4360f"/>
<rect x="175.4" y="73.74" width="1" height="6.77" fill="#3e0909"/>
<rect x="176.4" y="73.74" width="2" height="6.77" fill="#d86818"/>
<rect x="178.4" y="73.74" width="1" height="6.77" fill="#3e0909"/>
<rect x="179.4" y="73.74" width="2" height="6.77" fill="#f4bc28"/>
<rect x="181.4" y="73.74" width="1" height="6.77" fill="#fadd37"/>
<rect x="182.4" y="73.74" width="1" height="6.77" fill="#fbe23d"/>
<rect x="183.4" y="73.74" width="1" height="6.77" fill="#fbe03b"/>
<rect x="184.4" y="73.74" width="1" height="6.77" fill="#6e180e"/>
<rect x="185.4" y="73.74" width="1" height="6.77" fill="#80220e"/>
<rect x="186.4" y="73.74" width="1" height="6.77" fill="#5e120d"/>
<rect x="187.4" y="73.74" width="1" height="6.77" fill="#470b0a"/>
<rect x="188.4" y="73.74" width="3" height="6.77" fill="#d86818"/>
<rect x="191.4" y="73.74" width="1" height="6.77" fill="#3e0909"/>
<rect x="192.4" y="73.74" width="2" height="6.77" fill="#d86818"/>
<rect x="194.4" y="73.74" width="2" height="6.77" fill="#3e0909"/>
<rect x="196.4" y="73.74" width="1" height="6.77" fill="#d86918"/>
<rect x="197.4" y="73.74" width="1" height="6.77" fill="#d86818"/>
<rect x="198.4" y="73.74" width="1" height="6.77" fill="#68160e"/>
<rect x="199.4" y="73.74" width="1" height="6.77" fill="#3e0909"/>
<rect x="200.4" y="73.74" width="1" height="6.77" fill="#500d0b"/>
<rect x="201.4" y="73.74" width="1" height="6.77" fill="#330707"/>
<rect x="202.4" y="73.74" width="1" height="6.77" fill="#d86818"/>
<rect x="203.4" y="73.74" width="1" height="6.77" fill="#3e0909"/>
<rect x="204.4" y="73.74" width="1" height="6.77" fill="#f8d52d"/>
<rect x="205.4" y="73.74" width="1" height="6.77" fill="#f8d42c"/>
<rect x="206.4" y="73.74" width="1" height="6.77" fill="#ca5715"/>
<rect x="207.4" y="73.74" width="1" height="6.77" fill="#f9d831"/>
<rect x="208.4" y="73.74" width="1" height="6.77" fill="#fce648"/>
<rect x="209.4" y="73.74" width="1" height="6.77" fill="#6e180e"/>
<rect x="210.4" y="73.74" width="2" height="6.77" fill="#470b0a"/>
<rect x="212.4" y="73.74" width="1" height="6.77" fill="#2c0606"/>
<rect x="213.4" y="73.74" width="1" height="6.77" fill="#fbe13c"/>
<rect x="214.4" y="73.74" width="1" height="6.77" fill="#fde954"/>
<rect x="215.4" y="73.74" width="1" height="6.77" fill="#d56517"/>
<rect x="216.4" y="73.74" width="1" height="6.77" fill="#ffee68"/>
<rect x="217.4" y="73.74" width="1" height="6.77" fill="#feed66"/>
<rect x="218.4" y="73.74" width="1" height="6.77" fill="#f8d42c"/>
<rect x="219.4" y="73.74" width="1" height="6.77" fill="#f7cd2b"/>
<rect x="220.4" y="73.74" width="1" height="6.77" fill="#f4bf28"/>
<rect x="221.4" y="73.74" width="1" height="6.77" fill="#b74311"/>
<rect x="222.4" y="73.74" width="1" height="6.77" fill="#f8d52d"/>
<rect x="223.4" y="73.74" width="3" height="6.77" fill="#6e180e"/>
<rect x="226.4" y="73.74" width="1" height="6.77" fill="#f8d42c"/>
<rect x="227.4" y="73.74" width="1" height="6.77" fill="#6e180e"/>
<rect x="228.4" y="73.74" width="1" height="6.77" fill="#f7d02b"/>
<rect x="229.4" y="73.74" width="1" height="6.77" fill="#f9d62f"/>
<rect x="230.4" y="73.74" width="1" height="6.77" fill="#fbe13c"/>
<rect x="231.4" y="73.74" width="1" height="6.77" fill="#d86818"/>
<rect x="232.4" y="73.74" width="1" height="6.77" fill="#f8d52e"/>
<rect x="233.4" y="73.74" width="2" height="6.77" fill="#6e180e"/>
<rect x="235.4" y="73.74" width="1" height="6.77" fill="#fff070"/>
<rect x="236.4" y="73.74" width="1" height="6.77" fill="#fce543"/>
<rect x="237.4" y="73.74" width="1" height="6.77" fill="#feeb5c"/>
<rect x="238.4" y="73.74" width="1" height="6.77" fill="#fce440"/>
<rect x="239.4" y="73.74" width="1" height="6.77" fill="#fff074"/>
<rect x="240.4" y="73.74" width="1" height="6.77" fill="#eea224"/>
<rect x="241.4" y="73.74" width="1" height="6.77" fill="#fde74c"/>
<rect x="242.4" y="73.74" width="1" height="6.77" fill="#fff179"/>
<rect x="243.4" y="73.74" width="2" height="6.77" fill="#d86818"/>
<rect x="245.4" y="73.74" width="1" height="6.77" fill="#ed9d23"/>
<rect x="246.4" y="73.74" width="1" height="6.77" fill="#f3b527"/>
<rect x="247.4" y="73.74" width="1" height="6.77" fill="#f4ba28"/>
<rect x="248.4" y="73.74" width="1" height="6.77" fill="#c14d13"/>
<rect x="249.4" y="73.74" width="2" height="6.77" fill="#f3b827"/>
<rect x="251.4" y="73.74" width="1" height="6.77" fill="#f5c029"/>
<rect x="252.4" y="73.74" width="2" height="6.77" fill="#6e180e"/>
<rect x="254.4" y="73.74" width="1" height="6.77" fill="#f8d62e"/>
<rect x="255.4" y="73.74" width="1" height="6.77" fill="#fce442"/>
<rect x="256.4" y="73.74" width="1" height="6.77" fill="#f8d52e"/>
<rect x="257.4" y="73.74" width="1" height="6.77" fill="#f8d62e"/>
<rect x="258.4" y="73.74" width="1" height="6.77" fill="#e27c1b"/>
<rect x="259.4" y="73.74" width="1" height="6.77" fill="#f8d22c"/>
<rect x="260.4" y="73.74" width="1" height="6.77" fill="#f8d52d"/>
<rect x="261.4" y="73.74" width="1" height="6.77" fill="#f8d22c"/>
<rect x="262.4" y="73.74" width="1" height="6.77" fill="#eea024"/>
<rect x="263.4" y="73.74" width="1" height="6.77" fill="#fde956"/>
<rect x="264.4" y="73.74" width="1" height="6.77" fill="#feec62"/>
<rect x="265.4" y="73.74" width="1" height="6.77" fill="#fdea57"/>
<rect x="266.4" y="73.74" width="1" height="6.77" fill="#fce544"/>
<rect x="267.4" y="73.74" width="1" height="6.77" fill="#f0aa25"/>
<rect x="268.4" y="73.74" width="1" height="6.77" fill="#fbe13c"/>
<rect x="269.4" y="73.74" width="1" height="6.77" fill="#f6c82a"/>
<rect x="270.4" y="73.74" width="1" height="6.77" fill="#f8d52d"/>
<rect x="271.4" y="73.74" width="1" height="6.77" fill="#f6c92a"/>
<rect x="272.4" y="73.74" width="1" height="6.77" fill="#f3b827"/>
<rect x="273.4" y="73.74" width="1" height="6.77" fill="#fde851"/>
<rect x="274.4" y="73.74" width="1" height="6.77" fill="#fff17b"/>
<rect x="275.4" y="73.74" width="1" height="6.77" fill="#feec5e"/>
<rect x="276.4" y="73.74" width="1" height="6.77" fill="#feed65"/>
<rect x="277.4" y="73.74" width="1" height="6.77" fill="#ec9922"/>
<rect x="278.4" y="73.74" width="1" height="6.77" fill="#fbe13d"/>
<rect x="279.4" y="73.74" width="1" height="6.77" fill="#ec9822"/>
<rect x="280.4" y="73.74" width="1" height="6.77" fill="#efa425"/>
<rect x="281.4" y="73.74" width="1" height="6.77" fill="#eea224"/>
<rect x="282.4" y="73.74" width="1" height="6.77" fill="#bc4812"/>
<rect x="283.4" y="73.74" width="1" height="6.77" fill="#f0ab26"/>
<rect x="284.4" y="73.74" width="1" height="6.77" fill="#f5c029"/>
<rect x="285.4" y="73.74" width="1" height="6.77" fill="#f0ab26"/>
<rect x="286.4" y="73.74" width="1" height="6.77" fill="#fbe03b"/>
<rect x="287.4" y="73.74" width="1" height="6.77" fill="#fde649"/>
<rect x="288.4" y="73.74" width="1" height="6.77" fill="#fadc36"/>
<rect x="289.4" y="73.74" width="1" height="6.77" fill="#da6c19"/>
<rect x="290.4" y="73.74" width="1" height="6.77" fill="#f9da33"/>
<rect x="73.4" y="80.51" width="1" height="6.77" fill="#340707"/>
<rect x="74.4" y="80.51" width="1" height="6.77" fill="#150204"/>
<rect x="75.4" y="80.51" width="1" height="6.77" fill="#100204"/>
<rect x="76.4" y="80.51" width="1" height="6.77" fill="#180305"/>
<rect x="77.4" y="80.51" width="1" height="6.77" fill="#290506"/>
<rect x="78.4" y="80.51" width="2" height="6.77" fill="#170305"/>
<rect x="80.4" y="80.51" width="1" height="6.77" fill="#140204"/>
<rect x="81.4" y="80.51" width="1" height="6.77" fill="#410a09"/>
<rect x="82.4" y="80.51" width="1" height="6.77" fill="#100204"/>
<rect x="83.4" y="80.51" width="1" height="6.77" fill="#180305"/>
<rect x="84.4" y="80.51" width="1" height="6.77" fill="#1d0305"/>
<rect x="85.4" y="80.51" width="1" height="6.77" fill="#160204"/>
<rect x="86.4" y="80.51" width="1" height="6.77" fill="#1b0305"/>
<rect x="87.4" y="80.51" width="1" height="6.77" fill="#150204"/>
<rect x="88.4" y="80.51" width="1" height="6.77" fill="#190305"/>
<rect x="89.4" y="80.51" width="1" height="6.77" fill="#180305"/>
<rect x="90.4" y="80.51" width="1" height="6.77" fill="#0f0204"/>
<rect x="91.4" y="80.51" width="1" height="6.77" fill="#160305"/>
<rect x="92.4" y="80.51" width="1" height="6.77" fill="#170305"/>
<rect x="93.4" y="80.51" width="1" height="6.77" fill="#190305"/>
<rect x="94.4" y="80.51" width="1" height="6.77" fill="#0f0204"/>
<rect x="95.4" y="80.51" width="1" height="6.77" fill="#1a0305"/>
<rect x="96.4" y="80.51" width="1" height="6.77" fill="#300707"/>
<rect x="97.4" y="80.51" width="1" height="6.77" fill="#1c0305"/>
<rect x="98.4" y="80.51" width="1" height="6.77" fill="#110204"/>
<rect x="99.4" y="80.51" width="1" height="6.77" fill="#140204"/>
<rect x="100.4" y="80.51" width="1" height="6.77" fill="#160204"/>
<rect x="101.4" y="80.51" width="1" height="6.77" fill="#180305"/>
<rect x="102.4" y="80.51" width="1" height="6.77" fill="#130204"/>
<rect x="103.4" y="80.51" width="1" height="6.77" fill="#180305"/>
<rect x="104.4" y="80.51" width="1" height="6.77" fill="#190305"/>
<rect x="105.4" y="80.51" width="1" height="6.77" fill="#160204"/>
<rect x="106.4" y="80.51" width="1" height="6.77" fill="#170305"/>
<rect x="107.4" y="80.51" width="1" height="6.77" fill="#2b0606"/>
<rect x="108.4" y="80.51" width="1" height="6.77" fill="#0e0204"/>
<rect x="109.4" y="80.51" width="1" height="6.77" fill="#170305"/>
<rect x="110.4" y="80.51" width="1" height="6.77" fill="#130204"/>
<rect x="111.4" y="80.51" width="1" height="6.77" fill="#160305"/>
<rect x="112.4" y="80.51" width="1" height="6.77" fill="#540e0c"/>
<rect x="113.4" y="80.51" width="1" height="6.77" fill="#120204"/>
<rect x="114.4" y="80.51" width="1" height="6.77" fill="#180305"/>
<rect x="115.4" y="80.51" width="1" height="6.77" fill="#100204"/>
<rect x="116.4" y="80.51" width="1" height="6.77" fill="#0f0204"/>
<rect x="117.4" y="80.51" width="1" height="6.77" fill="#100204"/>
<rect x="118.4" y="80.51" width="1" height="6.77" fill="#540e0c"/>
<rect x="119.4" y="80.51" width="1" height="6.77" fill="#140204"/>
<rect x="120.4" y="80.51" width="1" height="6.77" fill="#180305"/>
<rect x="121.4" y="80.51" width="1" height="6.77" fill="#120204"/>
<rect x="122.4" y="80.51" width="1" height="6.77" fill="#170305"/>
<rect x="123.4" y="80.51" width="1" height="6.77" fill="#540e0c"/>
<rect x="124.4" y="80.51" width="1" height="6.77" fill="#2a0606"/>
<rect x="125.4" y="80.51" width="1" height="6.77" fill="#1a0305"/>
<rect x="126.4" y="80.51" width="1" height="6.77" fill="#1c0305"/>
<rect x="127.4" y="80.51" width="1" height="6.77" fill="#130204"/>
<rect x="128.4" y="80.51" width="1" height="6.77" fill="#190305"/>
<rect x="129.4" y="80.51" width="1" height="6.77" fill="#140204"/>
<rect x="130.4" y="80.51" width="1" height="6.77" fill="#120204"/>
<rect x="131.4" y="80.51" width="1" height="6.77" fill="#100204"/>
<rect x="132.4" y="80.51" width="1" height="6.77" fill="#190305"/>
<rect x="133.4" y="80.51" width="1" height="6.77" fill="#120204"/>
<rect x="134.4" y="80.51" width="1" height="6.77" fill="#1a0305"/>
<rect x="135.4" y="80.51" width="1" height="6.77" fill="#100204"/>
<rect x="136.4" y="80.51" width="2" height="6.77" fill="#190305"/>
<rect x="138.4" y="80.51" width="1" height="6.77" fill="#540e0c"/>
<rect x="139.4" y="80.51" width="1" height="6.77" fill="#150204"/>
<rect x="140.4" y="80.51" width="1" height="6.77" fill="#190305"/>
<rect x="141.4" y="80.51" width="1" height="6.77" fill="#1c0305"/>
<rect x="142.4" y="80.51" width="1" height="6.77" fill="#0e0204"/>
<rect x="143.4" y="80.51" width="1" height="6.77" fill="#180305"/>
<rect x="144.4" y="80.51" width="1" height="6.77" fill="#2d0606"/>
<rect x="145.4" y="80.51" width="1" height="6.77" fill="#150204"/>
<rect x="146.4" y="80.51" width="1" height="6.77" fill="#290506"/>
<rect x="147.4" y="80.51" width="1" height="6.77" fill="#150204"/>
<rect x="148.4" y="80.51" width="1" height="6.77" fill="#1a0305"/>
<rect x="149.4" y="80.51" width="1" height="6.77" fill="#540e0c"/>
<rect x="150.4" y="80.51" width="1" height="6.77" fill="#110204"/>
<rect x="151.4" y="80.51" width="1" height="6.77" fill="#190305"/>
<rect x="152.4" y="80.51" width="1" height="6.77" fill="#160204"/>
<rect x="153.4" y="80.51" width="1" height="6.77" fill="#190305"/>
<rect x="154.4" y="80.51" width="1" height="6.77" fill="#110204"/>
<rect x="155.4" y="80.51" width="1" height="6.77" fill="#150204"/>
<rect x="156.4" y="80.51" width="1" height="6.77" fill="#130204"/>
<rect x="157.4" y="80.51" width="1" height="6.77" fill="#0f0204"/>
<rect x="158.4" y="80.51" width="1" height="6.77" fill="#0e0204"/>
<rect x="159.4" y="80.51" width="1" height="6.77" fill="#160305"/>
<rect x="160.4" y="80.51" width="1" height="6.77" fill="#110204"/>
<rect x="161.4" y="80.51" width="1" height="6.77" fill="#160204"/>
<rect x="162.4" y="80.51" width="1" height="6.77" fill="#110204"/>
<rect x="163.4" y="80.51" width="1" height="6.77" fill="#120204"/>
<rect x="164.4" y="80.51" width="1" height="6.77" fill="#540e0c"/>
<rect x="165.4" y="80.51" width="1" height="6.77" fill="#160305"/>
<rect x="166.4" y="80.51" width="1" height="6.77" fill="#1a0305"/>
<rect x="167.4" y="80.51" width="1" height="6.77" fill="#1c0305"/>
<rect x="168.4" y="80.51" width="1" height="6.77" fill="#220405"/>
<rect x="169.4" y="80.51" width="1" height="6.77" fill="#180305"/>
<rect x="170.4" y="80.51" width="2" height="6.77" fill="#1a0305"/>
<rect x="172.4" y="80.51" width="1" height="6.77" fill="#1b0305"/>
<rect x="173.4" y="80.51" width="1" height="6.77" fill="#0f0204"/>
<rect x="174.4" y="80.51" width="1" height="6.77" fill="#110204"/>
<rect x="175.4" y="80.51" width="1" height="6.77" fill="#1b0305"/>
<rect x="176.4" y="80.51" width="1" height="6.77" fill="#100204"/>
<rect x="177.4" y="80.51" width="1" height="6.77" fill="#540e0c"/>
<rect x="178.4" y="80.51" width="1" height="6.77" fill="#180305"/>
<rect x="179.4" y="80.51" width="1" height="6.77" fill="#1b0305"/>
<rect x="180.4" y="80.51" width="2" height="6.77" fill="#0e0204"/>
<rect x="182.4" y="80.51" width="1" height="6.77" fill="#110204"/>
<rect x="183.4" y="80.51" width="1" height="6.77" fill="#180305"/>
<rect x="184.4" y="80.51" width="1" height="6.77" fill="#150204"/>
<rect x="185.4" y="80.51" width="1" height="6.77" fill="#230405"/>
<rect x="186.4" y="80.51" width="1" height="6.77" fill="#180305"/>
<rect x="187.4" y="80.51" width="2" height="6.77" fill="#140204"/>
<rect x="189.4" y="80.51" width="2" height="6.77" fill="#130204"/>
<rect x="191.4" y="80.51" width="1" height="6.77" fill="#190305"/>
<rect x="192.4" y="80.51" width="1" height="6.77" fill="#1a0305"/>
<rect x="193.4" y="80.51" width="1" height="6.77" fill="#1b0305"/>
<rect x="194.4" y="80.51" width="1" height="6.77" fill="#100204"/>
<rect x="195.4" y="80.51" width="1" height="6.77" fill="#0f0204"/>
<rect x="196.4" y="80.51" width="1" height="6.77" fill="#130204"/>
<rect x="197.4" y="80.51" width="1" height="6.77" fill="#190305"/>
<rect x="198.4" y="80.51" width="1" height="6.77" fill="#1b0305"/>
<rect x="199.4" y="80.51" width="1" height="6.77" fill="#2f0707"/>
<rect x="200.4" y="80.51" width="1" height="6.77" fill="#120204"/>
<rect x="201.4" y="80.51" width="1" height="6.77" fill="#0f0204"/>
<rect x="202.4" y="80.51" width="1" height="6.77" fill="#120204"/>
<rect x="203.4" y="80.51" width="1" height="6.77" fill="#100204"/>
<rect x="204.4" y="80.51" width="1" height="6.77" fill="#1a0305"/>
<rect x="205.4" y="80.51" width="1" height="6.77" fill="#100204"/>
<rect x="206.4" y="80.51" width="1" height="6.77" fill="#2a0606"/>
<rect x="207.4" y="80.51" width="1" height="6.77" fill="#120204"/>
<rect x="208.4" y="80.51" width="1" height="6.77" fill="#110204"/>
<rect x="209.4" y="80.51" width="1" height="6.77" fill="#140204"/>
<rect x="210.4" y="80.51" width="1" height="6.77" fill="#100204"/>
<rect x="211.4" y="80.51" width="1" height="6.77" fill="#170305"/>
<rect x="212.4" y="80.51" width="1" height="6.77" fill="#1b0305"/>
<rect x="213.4" y="80.51" width="1" height="6.77" fill="#1a0305"/>
<rect x="214.4" y="80.51" width="1" height="6.77" fill="#180305"/>
<rect x="215.4" y="80.51" width="1" height="6.77" fill="#140204"/>
<rect x="216.4" y="80.51" width="1" height="6.77" fill="#110204"/>
<rect x="217.4" y="80.51" width="1" height="6.77" fill="#130204"/>
<rect x="218.4" y="80.51" width="1" height="6.77" fill="#100204"/>
<rect x="219.4" y="80.51" width="1" height="6.77" fill="#1c0305"/>
<rect x="220.4" y="80.51" width="1" height="6.77" fill="#170305"/>
<rect x="221.4" y="80.51" width="1" height="6.77" fill="#150204"/>
<rect x="222.4" y="80.51" width="1" height="6.77" fill="#140204"/>
<rect x="223.4" y="80.51" width="1" height="6.77" fill="#1b0305"/>
<rect x="224.4" y="80.51" width="1" height="6.77" fill="#290506"/>
<rect x="225.4" y="80.51" width="1" height="6.77" fill="#120204"/>
<rect x="226.4" y="80.51" width="1" height="6.77" fill="#1a0305"/>
<rect x="227.4" y="80.51" width="1" height="6.77" fill="#110204"/>
<rect x="228.4" y="80.51" width="1" height="6.77" fill="#160305"/>
<rect x="229.4" y="80.51" width="1" height="6.77" fill="#1a0305"/>
<rect x="230.4" y="80.51" width="1" height="6.77" fill="#190305"/>
<rect x="231.4" y="80.51" width="1" height="6.77" fill="#100204"/>
<rect x="232.4" y="80.51" width="1" height="6.77" fill="#170305"/>
<rect x="233.4" y="80.51" width="1" height="6.77" fill="#2e0606"/>
<rect x="234.4" y="80.51" width="1" height="6.77" fill="#150204"/>
<rect x="235.4" y="80.51" width="1" height="6.77" fill="#1b0305"/>
<rect x="236.4" y="80.51" width="1" height="6.77" fill="#130204"/>
<rect x="237.4" y="80.51" width="1" height="6.77" fill="#170305"/>
<rect x="238.4" y="80.51" width="1" height="6.77" fill="#0f0204"/>
<rect x="239.4" y="80.51" width="1" height="6.77" fill="#190305"/>
<rect x="240.4" y="80.51" width="1" height="6.77" fill="#170305"/>
<rect x="241.4" y="80.51" width="1" height="6.77" fill="#160204"/>
<rect x="242.4" y="80.51" width="1" height="6.77" fill="#0e0204"/>
<rect x="243.4" y="80.51" width="1" height="6.77" fill="#160204"/>
<rect x="244.4" y="80.51" width="1" height="6.77" fill="#130204"/>
<rect x="245.4" y="80.51" width="1" height="6.77" fill="#340707"/>
<rect x="246.4" y="80.51" width="1" height="6.77" fill="#110204"/>
<rect x="247.4" y="80.51" width="1" height="6.77" fill="#1b0305"/>
<rect x="248.4" y="80.51" width="1" height="6.77" fill="#1a0305"/>
<rect x="249.4" y="80.51" width="1" height="6.77" fill="#1b0305"/>
<rect x="250.4" y="80.51" width="1" height="6.77" fill="#0f0204"/>
<rect x="251.4" y="80.51" width="1" height="6.77" fill="#340707"/>
<rect x="252.4" y="80.51" width="1" height="6.77" fill="#100204"/>
<rect x="253.4" y="80.51" width="1" height="6.77" fill="#0f0204"/>
<rect x="254.4" y="80.51" width="1" height="6.77" fill="#100204"/>
<rect x="255.4" y="80.51" width="1" height="6.77" fill="#160204"/>
<rect x="256.4" y="80.51" width="1" height="6.77" fill="#0e0204"/>
<rect x="257.4" y="80.51" width="1" height="6.77" fill="#180305"/>
<rect x="258.4" y="80.51" width="1" height="6.77" fill="#1a0305"/>
<rect x="259.4" y="80.51" width="2" height="6.77" fill="#140204"/>
<rect x="261.4" y="80.51" width="1" height="6.77" fill="#0f0204"/>
<rect x="262.4" y="80.51" width="1" height="6.77" fill="#120204"/>
<rect x="263.4" y="80.51" width="1" height="6.77" fill="#160305"/>
<rect x="264.4" y="80.51" width="1" height="6.77" fill="#0f0204"/>
<rect x="265.4" y="80.51" width="1" height="6.77" fill="#1a0305"/>
<rect x="266.4" y="80.51" width="1" height="6.77" fill="#110204"/>
<rect x="267.4" y="80.51" width="1" height="6.77" fill="#170305"/>
<rect x="268.4" y="80.51" width="1" height="6.77" fill="#130204"/>
<rect x="269.4" y="80.51" width="1" height="6.77" fill="#0e0204"/>
<rect x="270.4" y="80.51" width="1" height="6.77" fill="#180305"/>
<rect x="271.4" y="80.51" width="1" height="6.77" fill="#3c0909"/>
<rect x="272.4" y="80.51" width="1" height="6.77" fill="#0e0204"/>
<rect x="273.4" y="80.51" width="1" height="6.77" fill="#130204"/>
<rect x="274.4" y="80.51" width="1" height="6.77" fill="#180305"/>
<rect x="275.4" y="80.51" width="1" height="6.77" fill="#160204"/>
<rect x="276.4" y="80.51" width="1" height="6.77" fill="#120204"/>
<rect x="277.4" y="80.51" width="1" height="6.77" fill="#160204"/>
<rect x="278.4" y="80.51" width="1" height="6.77" fill="#100204"/>
<rect x="279.4" y="80.51" width="1" height="6.77" fill="#130204"/>
<rect x="280.4" y="80.51" width="1" height="6.77" fill="#280506"/>
<rect x="281.4" y="80.51" width="2" height="6.77" fill="#100204"/>
<rect x="283.4" y="80.51" width="1" height="6.77" fill="#110204"/>
<rect x="284.4" y="80.51" width="1" height="6.77" fill="#130204"/>
<rect x="285.4" y="80.51" width="1" height="6.77" fill="#390808"/>
<rect x="286.4" y="80.51" width="1" height="6.77" fill="#420a0a"/>
<rect x="287.4" y="80.51" width="2" height="6.77" fill="#170305"/>
<rect x="289.4" y="80.51" width="1" height="6.77" fill="#2b0606"/>
<rect x="290.4" y="80.51" width="1" height="6.77" fill="#200405"/>
<rect x="73.4" y="87.28" width="1" height="6.77" fill="#350808"/>
<rect x="74.4" y="87.28" width="1" height="6.77" fill="#2e0606"/>
<rect x="75.4" y="87.28" width="1" height="6.77" fill="#63140d"/>
<rect x="76.4" y="87.28" width="1" height="6.77" fill="#3f0909"/>
<rect x="77.4" y="87.28" width="1" height="6.77" fill="#440a0a"/>
<rect x="78.4" y="87.28" width="1" height="6.77" fill="#390808"/>
<rect x="79.4" y="87.28" width="1" height="6.77" fill="#0d0103"/>
<rect x="80.4" y="87.28" width="1" height="6.77" fill="#290506"/>
<rect x="81.4" y="87.28" width="1" height="6.77" fill="#470b0a"/>
<rect x="82.4" y="87.28" width="2" height="6.77" fill="#64140d"/>
<rect x="84.4" y="87.28" width="1" height="6.77" fill="#540e0c"/>
<rect x="85.4" y="87.28" width="1" height="6.77" fill="#470b0a"/>
<rect x="86.4" y="87.28" width="1" height="6.77" fill="#330707"/>
<rect x="87.4" y="87.28" width="1" height="6.77" fill="#1c0305"/>
<rect x="88.4" y="87.28" width="1" height="6.77" fill="#330707"/>
<rect x="89.4" y="87.28" width="1" height="6.77" fill="#540e0c"/>
<rect x="90.4" y="87.28" width="1" height="6.77" fill="#330707"/>
<rect x="91.4" y="87.28" width="1" height="6.77" fill="#1c0305"/>
<rect x="92.4" y="87.28" width="1" height="6.77" fill="#470b0a"/>
<rect x="93.4" y="87.28" width="1" height="6.77" fill="#540e0c"/>
<rect x="94.4" y="87.28" width="1" height="6.77" fill="#2f0606"/>
<rect x="95.4" y="87.28" width="1" height="6.77" fill="#2e0606"/>
<rect x="96.4" y="87.28" width="1" height="6.77" fill="#180305"/>
<rect x="97.4" y="87.28" width="1" height="6.77" fill="#3f0909"/>
<rect x="98.4" y="87.28" width="1" height="6.77" fill="#250506"/>
<rect x="99.4" y="87.28" width="1" height="6.77" fill="#340707"/>
<rect x="100.4" y="87.28" width="1" height="6.77" fill="#480b0a"/>
<rect x="101.4" y="87.28" width="1" height="6.77" fill="#4f0d0b"/>
<rect x="102.4" y="87.28" width="1" height="6.77" fill="#430a0a"/>
<rect x="103.4" y="87.28" width="1" height="6.77" fill="#290506"/>
<rect x="104.4" y="87.28" width="1" height="6.77" fill="#540e0c"/>
<rect x="105.4" y="87.28" width="1" height="6.77" fill="#250506"/>
<rect x="106.4" y="87.28" width="1" height="6.77" fill="#310707"/>
<rect x="107.4" y="87.28" width="1" height="6.77" fill="#3b0808"/>
<rect x="108.4" y="87.28" width="1" height="6.77" fill="#390808"/>
<rect x="109.4" y="87.28" width="1" height="6.77" fill="#350808"/>
<rect x="110.4" y="87.28" width="1" height="6.77" fill="#200405"/>
<rect x="111.4" y="87.28" width="1" height="6.77" fill="#3e0909"/>
<rect x="112.4" y="87.28" width="1" height="6.77" fill="#180305"/>
<rect x="113.4" y="87.28" width="1" height="6.77" fill="#1f0405"/>
<rect x="114.4" y="87.28" width="1" height="6.77" fill="#400909"/>
<rect x="115.4" y="87.28" width="1" height="6.77" fill="#500d0b"/>
<rect x="116.4" y="87.28" width="1" height="6.77" fill="#5e120d"/>
<rect x="117.4" y="87.28" width="1" height="6.77" fill="#250506"/>
<rect x="118.4" y="87.28" width="1" height="6.77" fill="#450a0a"/>
<rect x="119.4" y="87.28" width="1" height="6.77" fill="#230405"/>
<rect x="120.4" y="87.28" width="1" height="6.77" fill="#360808"/>
<rect x="121.4" y="87.28" width="1" height="6.77" fill="#480b0a"/>
<rect x="122.4" y="87.28" width="1" height="6.77" fill="#270506"/>
<rect x="123.4" y="87.28" width="1" height="6.77" fill="#5b110d"/>
<rect x="124.4" y="87.28" width="1" height="6.77" fill="#430a0a"/>
<rect x="125.4" y="87.28" width="1" height="6.77" fill="#390808"/>
<rect x="126.4" y="87.28" width="1" height="6.77" fill="#230405"/>
<rect x="127.4" y="87.28" width="1" height="6.77" fill="#1e0305"/>
<rect x="128.4" y="87.28" width="1" height="6.77" fill="#1f0405"/>
<rect x="129.4" y="87.28" width="1" height="6.77" fill="#420a0a"/>
<rect x="130.4" y="87.28" width="1" height="6.77" fill="#350808"/>
<rect x="131.4" y="87.28" width="1" height="6.77" fill="#330707"/>
<rect x="132.4" y="87.28" width="1" height="6.77" fill="#2c0606"/>
<rect x="133.4" y="87.28" width="1" height="6.77" fill="#150204"/>
<rect x="134.4" y="87.28" width="1" height="6.77" fill="#2c0606"/>
<rect x="135.4" y="87.28" width="1" height="6.77" fill="#340707"/>
<rect x="136.4" y="87.28" width="1" height="6.77" fill="#3f0909"/>
<rect x="137.4" y="87.28" width="1" height="6.77" fill="#8c280e"/>
<rect x="138.4" y="87.28" width="1" height="6.77" fill="#1e0305"/>
<rect x="139.4" y="87.28" width="1" height="6.77" fill="#3c0909"/>
<rect x="140.4" y="87.28" width="1" height="6.77" fill="#360808"/>
<rect x="141.4" y="87.28" width="1" height="6.77" fill="#280506"/>
<rect x="142.4" y="87.28" width="1" height="6.77" fill="#370808"/>
<rect x="143.4" y="87.28" width="1" height="6.77" fill="#170305"/>
<rect x="144.4" y="87.28" width="1" height="6.77" fill="#580f0c"/>
<rect x="145.4" y="87.28" width="1" height="6.77" fill="#1d0305"/>
<rect x="146.4" y="87.28" width="1" height="6.77" fill="#1c0305"/>
<rect x="147.4" y="87.28" width="1" height="6.77" fill="#3c0909"/>
<rect x="148.4" y="87.28" width="1" height="6.77" fill="#210405"/>
<rect x="149.4" y="87.28" width="1" height="6.77" fill="#410a09"/>
<rect x="150.4" y="87.28" width="1" height="6.77" fill="#3c0909"/>
<rect x="151.4" y="87.28" width="1" height="6.77" fill="#5b110d"/>
<rect x="152.4" y="87.28" width="1" height="6.77" fill="#2a0606"/>
<rect x="153.4" y="87.28" width="1" height="6.77" fill="#3d0909"/>
<rect x="154.4" y="87.28" width="1" height="6.77" fill="#540e0c"/>
<rect x="155.4" y="87.28" width="1" height="6.77" fill="#3b0909"/>
<rect x="156.4" y="87.28" width="1" height="6.77" fill="#4d0c0b"/>
<rect x="157.4" y="87.28" width="1" height="6.77" fill="#3f0909"/>
<rect x="158.4" y="87.28" width="1" height="6.77" fill="#1f0405"/>
<rect x="159.4" y="87.28" width="1" height="6.77" fill="#240506"/>
<rect x="160.4" y="87.28" width="1" height="6.77" fill="#260506"/>
<rect x="161.4" y="87.28" width="1" height="6.77" fill="#340707"/>
<rect x="162.4" y="87.28" width="1" height="6.77" fill="#2d0606"/>
<rect x="163.4" y="87.28" width="1" height="6.77" fill="#1a0305"/>
<rect x="164.4" y="87.28" width="1" height="6.77" fill="#300707"/>
<rect x="165.4" y="87.28" width="1" height="6.77" fill="#6e180e"/>
<rect x="166.4" y="87.28" width="1" height="6.77" fill="#180305"/>
<rect x="167.4" y="87.28" width="1" height="6.77" fill="#2b0606"/>
<rect x="168.4" y="87.28" width="1" height="6.77" fill="#310707"/>
<rect x="169.4" y="87.28" width="1" height="6.77" fill="#330707"/>
<rect x="170.4" y="87.28" width="1" height="6.77" fill="#2a0606"/>
<rect x="171.4" y="87.28" width="1" height="6.77" fill="#3a0808"/>
<rect x="172.4" y="87.28" width="1" height="6.77" fill="#2e0606"/>
<rect x="173.4" y="87.28" width="1" height="6.77" fill="#320707"/>
<rect x="174.4" y="87.28" width="1" height="6.77" fill="#2e0606"/>
<rect x="175.4" y="87.28" width="1" height="6.77" fill="#3a0808"/>
<rect x="176.4" y="87.28" width="1" height="6.77" fill="#8c280e"/>
<rect x="177.4" y="87.28" width="1" height="6.77" fill="#1b0305"/>
<rect x="178.4" y="87.28" width="1" height="6.77" fill="#320707"/>
<rect x="179.4" y="87.28" width="1" height="6.77" fill="#330707"/>
<rect x="180.4" y="87.28" width="1" height="6.77" fill="#2b0606"/>
<rect x="181.4" y="87.28" width="1" height="6.77" fill="#1c0305"/>
<rect x="182.4" y="87.28" width="1" height="6.77" fill="#230405"/>
<rect x="183.4" y="87.28" width="1" height="6.77" fill="#59100c"/>
<rect x="184.4" y="87.28" width="1" height="6.77" fill="#320707"/>
<rect x="185.4" y="87.28" width="1" height="6.77" fill="#2a0606"/>
<rect x="186.4" y="87.28" width="1" height="6.77" fill="#2e0606"/>
<rect x="187.4" y="87.28" width="1" height="6.77" fill="#220405"/>
<rect x="188.4" y="87.28" width="1" height="6.77" fill="#3a0808"/>
<rect x="189.4" y="87.28" width="1" height="6.77" fill="#6e180e"/>
<rect x="190.4" y="87.28" width="1" height="6.77" fill="#0d0103"/>
<rect x="191.4" y="87.28" width="1" height="6.77" fill="#1c0305"/>
<rect x="192.4" y="87.28" width="1" height="6.77" fill="#260506"/>
<rect x="193.4" y="87.28" width="1" height="6.77" fill="#4d0c0b"/>
<rect x="194.4" y="87.28" width="1" height="6.77" fill="#320707"/>
<rect x="195.4" y="87.28" width="1" height="6.77" fill="#350707"/>
<rect x="196.4" y="87.28" width="1" height="6.77" fill="#360808"/>
<rect x="197.4" y="87.28" width="1" height="6.77" fill="#1a0305"/>
<rect x="198.4" y="87.28" width="1" height="6.77" fill="#250506"/>
<rect x="199.4" y="87.28" width="1" height="6.77" fill="#240405"/>
<rect x="200.4" y="87.28" width="1" height="6.77" fill="#360808"/>
<rect x="201.4" y="87.28" width="1" height="6.77" fill="#1f0405"/>
<rect x="202.4" y="87.28" width="1" height="6.77" fill="#250506"/>
<rect x="203.4" y="87.28" width="1" height="6.77" fill="#3f0909"/>
<rect x="204.4" y="87.28" width="1" height="6.77" fill="#190305"/>
<rect x="205.4" y="87.28" width="1" height="6.77" fill="#8c280e"/>
<rect x="206.4" y="87.28" width="1" height="6.77" fill="#210405"/>
<rect x="207.4" y="87.28" width="1" height="6.77" fill="#1b0305"/>
<rect x="208.4" y="87.28" width="1" height="6.77" fill="#390808"/>
<rect x="209.4" y="87.28" width="1" height="6.77" fill="#290506"/>
<rect x="210.4" y="87.28" width="1" height="6.77" fill="#250506"/>
<rect x="211.4" y="87.28" width="1" height="6.77" fill="#2c0606"/>
<rect x="212.4" y="87.28" width="1" height="6.77" fill="#280506"/>
<rect x="213.4" y="87.28" width="1" height="6.77" fill="#4e0d0b"/>
<rect x="214.4" y="87.28" width="1" height="6.77" fill="#2f0606"/>
<rect x="215.4" y="87.28" width="1" height="6.77" fill="#2d0606"/>
<rect x="216.4" y="87.28" width="1" height="6.77" fill="#390808"/>
<rect x="217.4" y="87.28" width="1" height="6.77" fill="#4e0d0b"/>
<rect x="218.4" y="87.28" width="1" height="6.77" fill="#1c0305"/>
<rect x="219.4" y="87.28" width="1" height="6.77" fill="#2b0606"/>
<rect x="220.4" y="87.28" width="1" height="6.77" fill="#250506"/>
<rect x="221.4" y="87.28" width="1" height="6.77" fill="#1f0405"/>
<rect x="222.4" y="87.28" width="1" height="6.77" fill="#370808"/>
<rect x="223.4" y="87.28" width="2" height="6.77" fill="#1b0305"/>
<rect x="225.4" y="87.28" width="1" height="6.77" fill="#340707"/>
<rect x="226.4" y="87.28" width="1" height="6.77" fill="#3d0909"/>
<rect x="227.4" y="87.28" width="1" height="6.77" fill="#300707"/>
<rect x="228.4" y="87.28" width="1" height="6.77" fill="#2a0606"/>
<rect x="229.4" y="87.28" width="1" height="6.77" fill="#6e180e"/>
<rect x="230.4" y="87.28" width="1" height="6.77" fill="#2c0606"/>
<rect x="231.4" y="87.28" width="1" height="6.77" fill="#280506"/>
<rect x="232.4" y="87.28" width="1" height="6.77" fill="#3b0909"/>
<rect x="233.4" y="87.28" width="1" height="6.77" fill="#240506"/>
<rect x="234.4" y="87.28" width="1" height="6.77" fill="#1c0305"/>
<rect x="235.4" y="87.28" width="1" height="6.77" fill="#2d0606"/>
<rect x="236.4" y="87.28" width="1" height="6.77" fill="#220405"/>
<rect x="237.4" y="87.28" width="1" height="6.77" fill="#120204"/>
<rect x="238.4" y="87.28" width="1" height="6.77" fill="#110204"/>
<rect x="239.4" y="87.28" width="1" height="6.77" fill="#180305"/>
<rect x="240.4" y="87.28" width="1" height="6.77" fill="#2c0606"/>
<rect x="241.4" y="87.28" width="1" height="6.77" fill="#0c0103"/>
<rect x="242.4" y="87.28" width="1" height="6.77" fill="#1a0305"/>
<rect x="243.4" y="87.28" width="1" height="6.77" fill="#180305"/>
<rect x="244.4" y="87.28" width="1" height="6.77" fill="#100204"/>
<rect x="245.4" y="87.28" width="1" height="6.77" fill="#1c0305"/>
<rect x="246.4" y="87.28" width="1" height="6.77" fill="#1b0305"/>
<rect x="247.4" y="87.28" width="1" height="6.77" fill="#2f0707"/>
<rect x="248.4" y="87.28" width="1" height="6.77" fill="#1c0305"/>
<rect x="249.4" y="87.28" width="1" height="6.77" fill="#2a0606"/>
<rect x="250.4" y="87.28" width="1" height="6.77" fill="#040002"/>
<rect x="251.4" y="87.28" width="1" height="6.77" fill="#1c0305"/>
<rect x="252.4" y="87.28" width="1" height="6.77" fill="#290506"/>
<rect x="253.4" y="87.28" width="1" height="6.77" fill="#210405"/>
<rect x="254.4" y="87.28" width="1" height="6.77" fill="#400909"/>
<rect x="255.4" y="87.28" width="2" height="6.77" fill="#1d0305"/>
<rect x="257.4" y="87.28" width="1" height="6.77" fill="#1c0305"/>
<rect x="258.4" y="87.28" width="1" height="6.77" fill="#110204"/>
<rect x="259.4" y="87.28" width="1" height="6.77" fill="#3e0909"/>
<rect x="260.4" y="87.28" width="1" height="6.77" fill="#61130d"/>
<rect x="261.4" y="87.28" width="1" height="6.77" fill="#310707"/>
<rect x="262.4" y="87.28" width="1" height="6.77" fill="#370808"/>
<rect x="263.4" y="87.28" width="1" height="6.77" fill="#290506"/>
<rect x="264.4" y="87.28" width="1" height="6.77" fill="#8c280e"/>
<rect x="265.4" y="87.28" width="1" height="6.77" fill="#450b0a"/>
<rect x="266.4" y="87.28" width="1" height="6.77" fill="#3b0909"/>
<rect x="267.4" y="87.28" width="1" height="6.77" fill="#190305"/>
<rect x="268.4" y="87.28" width="1" height="6.77" fill="#5f120d"/>
<rect x="269.4" y="87.28" width="1" height="6.77" fill="#3f0909"/>
<rect x="270.4" y="87.28" width="1" height="6.77" fill="#420a0a"/>
<rect x="271.4" y="87.28" width="1" height="6.77" fill="#260506"/>
<rect x="272.4" y="87.28" width="1" height="6.77" fill="#170305"/>
<rect x="273.4" y="87.28" width="1" height="6.77" fill="#3b0909"/>
<rect x="274.4" y="87.28" width="1" height="6.77" fill="#3a0808"/>
<rect x="275.4" y="87.28" width="1" height="6.77" fill="#4e0d0b"/>
<rect x="276.4" y="87.28" width="1" height="6.77" fill="#62130d"/>
<rect x="277.4" y="87.28" width="1" height="6.77" fill="#5f120d"/>
<rect x="278.4" y="87.28" width="1" height="6.77" fill="#962e0f"/>
<rect x="279.4" y="87.28" width="1" height="6.77" fill="#290506"/>
<rect x="280.4" y="87.28" width="1" height="6.77" fill="#350808"/>
<rect x="281.4" y="87.28" width="1" height="6.77" fill="#370808"/>
<rect x="282.4" y="87.28" width="1" height="6.77" fill="#3e0909"/>
<rect x="283.4" y="87.28" width="1" height="6.77" fill="#270506"/>
<rect x="284.4" y="87.28" width="1" height="6.77" fill="#2a0606"/>
<rect x="285.4" y="87.28" width="1" height="6.77" fill="#120204"/>
<rect x="286.4" y="87.28" width="1" height="6.77" fill="#2f0606"/>
<rect x="287.4" y="87.28" width="1" height="6.77" fill="#2a0606"/>
<rect x="288.4" y="87.28" width="1" height="6.77" fill="#4b0c0b"/>
<rect x="289.4" y="87.28" width="1" height="6.77" fill="#300707"/>
<rect x="290.4" y="87.28" width="1" height="6.77" fill="#1d0305"/>
<rect x="73.4" y="94.04" width="1" height="6.77" fill="#080103"/>
<rect x="74.4" y="94.04" width="1" height="6.77" fill="#0f0204"/>
<rect x="75.4" y="94.04" width="1" height="6.77" fill="#290506"/>
<rect x="76.4" y="94.04" width="1" height="6.77" fill="#040002"/>
<rect x="77.4" y="94.04" width="1" height="6.77" fill="#060002"/>
<rect x="78.4" y="94.04" width="1" height="6.77" fill="#120204"/>
<rect x="79.4" y="94.04" width="1" height="6.77" fill="#110204"/>
<rect x="80.4" y="94.04" width="1" height="6.77" fill="#050002"/>
<rect x="81.4" y="94.04" width="1" height="6.77" fill="#080103"/>
<rect x="82.4" y="94.04" width="2" height="6.77" fill="#090103"/>
<rect x="84.4" y="94.04" width="1" height="6.77" fill="#060002"/>
<rect x="85.4" y="94.04" width="1" height="6.77" fill="#100204"/>
<rect x="86.4" y="94.04" width="1" height="6.77" fill="#050002"/>
<rect x="87.4" y="94.04" width="1" height="6.77" fill="#100204"/>
<rect x="88.4" y="94.04" width="1" height="6.77" fill="#120204"/>
<rect x="89.4" y="94.04" width="1" height="6.77" fill="#050002"/>
<rect x="90.4" y="94.04" width="1" height="6.77" fill="#0a0103"/>
<rect x="91.4" y="94.04" width="1" height="6.77" fill="#120204"/>
<rect x="92.4" y="94.04" width="1" height="6.77" fill="#0d0204"/>
<rect x="93.4" y="94.04" width="1" height="6.77" fill="#070103"/>
<rect x="94.4" y="94.04" width="1" height="6.77" fill="#0d0204"/>
<rect x="95.4" y="94.04" width="1" height="6.77" fill="#120204"/>
<rect x="96.4" y="94.04" width="1" height="6.77" fill="#0b0103"/>
<rect x="97.4" y="94.04" width="1" height="6.77" fill="#210405"/>
<rect x="98.4" y="94.04" width="1" height="6.77" fill="#100204"/>
<rect x="99.4" y="94.04" width="1" height="6.77" fill="#130204"/>
<rect x="100.4" y="94.04" width="1" height="6.77" fill="#0e0204"/>
<rect x="101.4" y="94.04" width="1" height="6.77" fill="#230405"/>
<rect x="102.4" y="94.04" width="1" height="6.77" fill="#070002"/>
<rect x="103.4" y="94.04" width="1" height="6.77" fill="#250506"/>
<rect x="104.4" y="94.04" width="1" height="6.77" fill="#0e0204"/>
<rect x="105.4" y="94.04" width="2" height="6.77" fill="#0b0103"/>
<rect x="107.4" y="94.04" width="1" height="6.77" fill="#0c0103"/>
<rect x="108.4" y="94.04" width="1" height="6.77" fill="#060002"/>
<rect x="109.4" y="94.04" width="1" height="6.77" fill="#0d0103"/>
<rect x="110.4" y="94.04" width="1" height="6.77" fill="#100204"/>
<rect x="111.4" y="94.04" width="1" height="6.77" fill="#090103"/>
<rect x="112.4" y="94.04" width="1" height="6.77" fill="#0c0103"/>
<rect x="113.4" y="94.04" width="1" height="6.77" fill="#090103"/>
<rect x="114.4" y="94.04" width="1" height="6.77" fill="#060002"/>
<rect x="115.4" y="94.04" width="1" height="6.77" fill="#0c0103"/>
<rect x="116.4" y="94.04" width="1" height="6.77" fill="#100204"/>
<rect x="117.4" y="94.04" width="1" height="6.77" fill="#0f0204"/>
<rect x="118.4" y="94.04" width="1" height="6.77" fill="#060002"/>
<rect x="119.4" y="94.04" width="1" height="6.77" fill="#0c0103"/>
<rect x="120.4" y="94.04" width="1" height="6.77" fill="#090103"/>
<rect x="121.4" y="94.04" width="1" height="6.77" fill="#0a0103"/>
<rect x="122.4" y="94.04" width="1" height="6.77" fill="#070103"/>
<rect x="123.4" y="94.04" width="1" height="6.77" fill="#070002"/>
<rect x="124.4" y="94.04" width="1" height="6.77" fill="#070103"/>
<rect x="125.4" y="94.04" width="1" height="6.77" fill="#0d0204"/>
<rect x="126.4" y="94.04" width="1" height="6.77" fill="#0e0204"/>
<rect x="127.4" y="94.04" width="1" height="6.77" fill="#070103"/>
<rect x="128.4" y="94.04" width="1" height="6.77" fill="#0c0103"/>
<rect x="129.4" y="94.04" width="1" height="6.77" fill="#0f0204"/>
<rect x="130.4" y="94.04" width="1" height="6.77" fill="#0c0103"/>
<rect x="131.4" y="94.04" width="1" height="6.77" fill="#0e0204"/>
<rect x="132.4" y="94.04" width="1" height="6.77" fill="#060002"/>
<rect x="133.4" y="94.04" width="1" height="6.77" fill="#0b0103"/>
<rect x="134.4" y="94.04" width="2" height="6.77" fill="#120204"/>
<rect x="136.4" y="94.04" width="1" height="6.77" fill="#0b0103"/>
<rect x="137.4" y="94.04" width="1" height="6.77" fill="#0c0103"/>
<rect x="138.4" y="94.04" width="1" height="6.77" fill="#070002"/>
<rect x="139.4" y="94.04" width="1" height="6.77" fill="#050002"/>
<rect x="140.4" y="94.04" width="1" height="6.77" fill="#0d0103"/>
<rect x="141.4" y="94.04" width="1" height="6.77" fill="#1d0305"/>
<rect x="142.4" y="94.04" width="1" height="6.77" fill="#120204"/>
<rect x="143.4" y="94.04" width="1" height="6.77" fill="#060002"/>
<rect x="144.4" y="94.04" width="1" height="6.77" fill="#110204"/>
<rect x="145.4" y="94.04" width="1" height="6.77" fill="#120204"/>
<rect x="146.4" y="94.04" width="1" height="6.77" fill="#060002"/>
<rect x="147.4" y="94.04" width="1" height="6.77" fill="#090103"/>
<rect x="148.4" y="94.04" width="1" height="6.77" fill="#100204"/>
<rect x="149.4" y="94.04" width="1" height="6.77" fill="#200405"/>
<rect x="150.4" y="94.04" width="1" height="6.77" fill="#070103"/>
<rect x="151.4" y="94.04" width="1" height="6.77" fill="#0c0103"/>
<rect x="152.4" y="94.04" width="1" height="6.77" fill="#0b0103"/>
<rect x="153.4" y="94.04" width="2" height="6.77" fill="#090103"/>
<rect x="155.4" y="94.04" width="1" height="6.77" fill="#040002"/>
<rect x="156.4" y="94.04" width="1" height="6.77" fill="#070103"/>
<rect x="157.4" y="94.04" width="1" height="6.77" fill="#300707"/>
<rect x="158.4" y="94.04" width="1" height="6.77" fill="#0a0103"/>
<rect x="159.4" y="94.04" width="1" height="6.77" fill="#1b0305"/>
<rect x="160.4" y="94.04" width="1" height="6.77" fill="#060002"/>
<rect x="161.4" y="94.04" width="1" height="6.77" fill="#110204"/>
<rect x="162.4" y="94.04" width="1" height="6.77" fill="#100204"/>
<rect x="163.4" y="94.04" width="1" height="6.77" fill="#080103"/>
<rect x="164.4" y="94.04" width="1" height="6.77" fill="#0f0204"/>
<rect x="165.4" y="94.04" width="1" height="6.77" fill="#2b0606"/>
<rect x="166.4" y="94.04" width="1" height="6.77" fill="#0b0103"/>
<rect x="167.4" y="94.04" width="1" height="6.77" fill="#040002"/>
<rect x="168.4" y="94.04" width="1" height="6.77" fill="#050002"/>
<rect x="169.4" y="94.04" width="1" height="6.77" fill="#0d0204"/>
<rect x="170.4" y="94.04" width="1" height="6.77" fill="#100204"/>
<rect x="171.4" y="94.04" width="1" height="6.77" fill="#0e0204"/>
<rect x="172.4" y="94.04" width="1" height="6.77" fill="#070103"/>
<rect x="173.4" y="94.04" width="1" height="6.77" fill="#0b0103"/>
<rect x="174.4" y="94.04" width="1" height="6.77" fill="#0c0103"/>
<rect x="175.4" y="94.04" width="1" height="6.77" fill="#060002"/>
<rect x="176.4" y="94.04" width="1" height="6.77" fill="#070103"/>
<rect x="177.4" y="94.04" width="1" height="6.77" fill="#0e0204"/>
<rect x="178.4" y="94.04" width="1" height="6.77" fill="#0b0103"/>
<rect x="179.4" y="94.04" width="1" height="6.77" fill="#090103"/>
<rect x="180.4" y="94.04" width="1" height="6.77" fill="#0b0103"/>
<rect x="181.4" y="94.04" width="1" height="6.77" fill="#080103"/>
<rect x="182.4" y="94.04" width="1" height="6.77" fill="#0d0103"/>
<rect x="183.4" y="94.04" width="1" height="6.77" fill="#0e0204"/>
<rect x="184.4" y="94.04" width="1" height="6.77" fill="#2a0606"/>
<rect x="185.4" y="94.04" width="1" height="6.77" fill="#090103"/>
<rect x="186.4" y="94.04" width="1" height="6.77" fill="#0c0103"/>
<rect x="187.4" y="94.04" width="1" height="6.77" fill="#0e0204"/>
<rect x="188.4" y="94.04" width="1" height="6.77" fill="#110204"/>
<rect x="189.4" y="94.04" width="1" height="6.77" fill="#070002"/>
<rect x="190.4" y="94.04" width="1" height="6.77" fill="#0c0103"/>
<rect x="191.4" y="94.04" width="1" height="6.77" fill="#0f0204"/>
<rect x="192.4" y="94.04" width="1" height="6.77" fill="#070103"/>
<rect x="193.4" y="94.04" width="1" height="6.77" fill="#240506"/>
<rect x="194.4" y="94.04" width="1" height="6.77" fill="#090103"/>
<rect x="195.4" y="94.04" width="1" height="6.77" fill="#100204"/>
<rect x="196.4" y="94.04" width="1" height="6.77" fill="#110204"/>
<rect x="197.4" y="94.04" width="1" height="6.77" fill="#090103"/>
<rect x="198.4" y="94.04" width="1" height="6.77" fill="#0e0204"/>
<rect x="199.4" y="94.04" width="1" height="6.77" fill="#0f0204"/>
<rect x="200.4" y="94.04" width="1" height="6.77" fill="#110204"/>
<rect x="201.4" y="94.04" width="1" height="6.77" fill="#120204"/>
<rect x="202.4" y="94.04" width="1" height="6.77" fill="#070002"/>
<rect x="203.4" y="94.04" width="1" height="6.77" fill="#0e0204"/>
<rect x="204.4" y="94.04" width="1" height="6.77" fill="#0a0103"/>
<rect x="205.4" y="94.04" width="1" height="6.77" fill="#110204"/>
<rect x="206.4" y="94.04" width="1" height="6.77" fill="#060002"/>
<rect x="207.4" y="94.04" width="1" height="6.77" fill="#080103"/>
<rect x="208.4" y="94.04" width="1" height="6.77" fill="#0d0204"/>
<rect x="209.4" y="94.04" width="1" height="6.77" fill="#050002"/>
<rect x="210.4" y="94.04" width="1" height="6.77" fill="#110204"/>
<rect x="211.4" y="94.04" width="1" height="6.77" fill="#080103"/>
<rect x="212.4" y="94.04" width="1" height="6.77" fill="#0b0103"/>
<rect x="213.4" y="94.04" width="1" height="6.77" fill="#0e0204"/>
<rect x="214.4" y="94.04" width="1" height="6.77" fill="#110204"/>
<rect x="215.4" y="94.04" width="1" height="6.77" fill="#090103"/>
<rect x="216.4" y="94.04" width="1" height="6.77" fill="#110204"/>
<rect x="217.4" y="94.04" width="1" height="6.77" fill="#0f0204"/>
<rect x="218.4" y="94.04" width="1" height="6.77" fill="#140204"/>
<rect x="219.4" y="94.04" width="1" height="6.77" fill="#0a0103"/>
<rect x="220.4" y="94.04" width="1" height="6.77" fill="#080103"/>
<rect x="221.4" y="94.04" width="2" height="6.77" fill="#050002"/>
<rect x="223.4" y="94.04" width="1" height="6.77" fill="#1f0405"/>
<rect x="224.4" y="94.04" width="1" height="6.77" fill="#0c0103"/>
<rect x="225.4" y="94.04" width="1" height="6.77" fill="#040002"/>
<rect x="226.4" y="94.04" width="1" height="6.77" fill="#200405"/>
<rect x="227.4" y="94.04" width="1" height="6.77" fill="#040002"/>
<rect x="228.4" y="94.04" width="1" height="6.77" fill="#280506"/>
<rect x="229.4" y="94.04" width="1" height="6.77" fill="#0d0103"/>
<rect x="230.4" y="94.04" width="1" height="6.77" fill="#070002"/>
<rect x="231.4" y="94.04" width="1" height="6.77" fill="#0f0204"/>
<rect x="232.4" y="94.04" width="1" height="6.77" fill="#0d0103"/>
<rect x="233.4" y="94.04" width="2" height="6.77" fill="#120204"/>
<rect x="235.4" y="94.04" width="1" height="6.77" fill="#040002"/>
<rect x="236.4" y="94.04" width="1" height="6.77" fill="#0d0204"/>
<rect x="237.4" y="94.04" width="1" height="6.77" fill="#0a0103"/>
<rect x="238.4" y="94.04" width="1" height="6.77" fill="#100204"/>
<rect x="239.4" y="94.04" width="1" height="6.77" fill="#040002"/>
<rect x="240.4" y="94.04" width="1" height="6.77" fill="#0c0103"/>
<rect x="241.4" y="94.04" width="2" height="6.77" fill="#090103"/>
<rect x="243.4" y="94.04" width="1" height="6.77" fill="#100204"/>
<rect x="244.4" y="94.04" width="1" height="6.77" fill="#120204"/>
<rect x="245.4" y="94.04" width="1" height="6.77" fill="#070103"/>
<rect x="246.4" y="94.04" width="1" height="6.77" fill="#100204"/>
<rect x="247.4" y="94.04" width="1" height="6.77" fill="#040002"/>
<rect x="248.4" y="94.04" width="1" height="6.77" fill="#0d0204"/>
<rect x="249.4" y="94.04" width="1" height="6.77" fill="#0e0204"/>
<rect x="250.4" y="94.04" width="1" height="6.77" fill="#090103"/>
<rect x="251.4" y="94.04" width="1" height="6.77" fill="#080103"/>
<rect x="252.4" y="94.04" width="1" height="6.77" fill="#0c0103"/>
<rect x="253.4" y="94.04" width="1" height="6.77" fill="#100204"/>
<rect x="254.4" y="94.04" width="1" height="6.77" fill="#060002"/>
<rect x="255.4" y="94.04" width="1" height="6.77" fill="#0a0103"/>
<rect x="256.4" y="94.04" width="1" height="6.77" fill="#110204"/>
<rect x="257.4" y="94.04" width="1" height="6.77" fill="#060002"/>
<rect x="258.4" y="94.04" width="1" height="6.77" fill="#070002"/>
<rect x="259.4" y="94.04" width="1" height="6.77" fill="#080103"/>
<rect x="260.4" y="94.04" width="1" height="6.77" fill="#0f0204"/>
<rect x="261.4" y="94.04" width="1" height="6.77" fill="#110204"/>
<rect x="262.4" y="94.04" width="1" height="6.77" fill="#0f0204"/>
<rect x="263.4" y="94.04" width="1" height="6.77" fill="#090103"/>
<rect x="264.4" y="94.04" width="1" height="6.77" fill="#0a0103"/>
<rect x="265.4" y="94.04" width="1" height="6.77" fill="#070103"/>
<rect x="266.4" y="94.04" width="1" height="6.77" fill="#110204"/>
<rect x="267.4" y="94.04" width="1" height="6.77" fill="#070103"/>
<rect x="268.4" y="94.04" width="2" height="6.77" fill="#040002"/>
<rect x="270.4" y="94.04" width="1" height="6.77" fill="#110204"/>
<rect x="271.4" y="94.04" width="3" height="6.77" fill="#090103"/>
<rect x="274.4" y="94.04" width="1" height="6.77" fill="#1d0305"/>
<rect x="275.4" y="94.04" width="1" height="6.77" fill="#0e0204"/>
<rect x="276.4" y="94.04" width="1" height="6.77" fill="#090103"/>
<rect x="277.4" y="94.04" width="1" height="6.77" fill="#0a0103"/>
<rect x="278.4" y="94.04" width="1" height="6.77" fill="#110204"/>
<rect x="279.4" y="94.04" width="1" height="6.77" fill="#120204"/>
<rect x="280.4" y="94.04" width="1" height="6.77" fill="#0b0103"/>
<rect x="281.4" y="94.04" width="1" height="6.77" fill="#0f0204"/>
<rect x="282.4" y="94.04" width="1" height="6.77" fill="#060002"/>
<rect x="283.4" y="94.04" width="1" height="6.77" fill="#210405"/>
<rect x="284.4" y="94.04" width="1" height="6.77" fill="#080103"/>
<rect x="285.4" y="94.04" width="1" height="6.77" fill="#0d0103"/>
<rect x="286.4" y="94.04" width="1" height="6.77" fill="#220405"/>
<rect x="287.4" y="94.04" width="1" height="6.77" fill="#100204"/>
<rect x="288.4" y="94.04" width="1" height="6.77" fill="#050002"/>
<rect x="289.4" y="94.04" width="1" height="6.77" fill="#0a0103"/>
<rect x="290.4" y="94.04" width="1" height="6.77" fill="#060002"/>
<rect x="73.4" y="100.81" width="1" height="6.77" fill="#130204"/>
<rect x="74.4" y="100.81" width="1" height="6.77" fill="#fff070"/>
<rect x="75.4" y="100.81" width="1" height="6.77" fill="#260506"/>
<rect x="76.4" y="100.81" width="1" height="6.77" fill="#270506"/>
<rect x="77.4" y="100.81" width="1" height="6.77" fill="#1c0305"/>
<rect x="78.4" y="100.81" width="1" height="6.77" fill="#0d0204"/>
<rect x="79.4" y="100.81" width="1" height="6.77" fill="#100204"/>
<rect x="80.4" y="100.81" width="1" height="6.77" fill="#0d0103"/>
<rect x="81.4" y="100.81" width="1" height="6.77" fill="#6e180e"/>
<rect x="82.4" y="100.81" width="1" height="6.77" fill="#110204"/>
<rect x="83.4" y="100.81" width="1" height="6.77" fill="#250506"/>
<rect x="84.4" y="100.81" width="1" height="6.77" fill="#1d0305"/>
<rect x="85.4" y="100.81" width="1" height="6.77" fill="#3f0909"/>
<rect x="86.4" y="100.81" width="1" height="6.77" fill="#f8d42c"/>
<rect x="87.4" y="100.81" width="1" height="6.77" fill="#410a09"/>
<rect x="88.4" y="100.81" width="1" height="6.77" fill="#3a0808"/>
<rect x="89.4" y="100.81" width="1" height="6.77" fill="#290506"/>
<rect x="90.4" y="100.81" width="1" height="6.77" fill="#1c0305"/>
<rect x="91.4" y="100.81" width="1" height="6.77" fill="#040002"/>
<rect x="92.4" y="100.81" width="1" height="6.77" fill="#100204"/>
<rect x="93.4" y="100.81" width="1" height="6.77" fill="#230405"/>
<rect x="94.4" y="100.81" width="1" height="6.77" fill="#1b0305"/>
<rect x="95.4" y="100.81" width="1" height="6.77" fill="#fff6a8"/>
<rect x="96.4" y="100.81" width="1" height="6.77" fill="#1a0305"/>
<rect x="97.4" y="100.81" width="1" height="6.77" fill="#2a0606"/>
<rect x="98.4" y="100.81" width="3" height="6.77" fill="#1c0305"/>
<rect x="101.4" y="100.81" width="2" height="6.77" fill="#69160e"/>
<rect x="103.4" y="100.81" width="1" height="6.77" fill="#540e0c"/>
<rect x="104.4" y="100.81" width="2" height="6.77" fill="#330707"/>
<rect x="106.4" y="100.81" width="1" height="6.77" fill="#69160e"/>
<rect x="107.4" y="100.81" width="1" height="6.77" fill="#470b0a"/>
<rect x="108.4" y="100.81" width="1" height="6.77" fill="#69160e"/>
<rect x="109.4" y="100.81" width="1" height="6.77" fill="#1c0305"/>
<rect x="110.4" y="100.81" width="1" height="6.77" fill="#250506"/>
<rect x="111.4" y="100.81" width="1" height="6.77" fill="#190305"/>
<rect x="112.4" y="100.81" width="1" height="6.77" fill="#1a0305"/>
<rect x="113.4" y="100.81" width="1" height="6.77" fill="#090103"/>
<rect x="114.4" y="100.81" width="1" height="6.77" fill="#150204"/>
<rect x="115.4" y="100.81" width="1" height="6.77" fill="#0b0103"/>
<rect x="116.4" y="100.81" width="1" height="6.77" fill="#220405"/>
<rect x="117.4" y="100.81" width="1" height="6.77" fill="#6e180e"/>
<rect x="118.4" y="100.81" width="1" height="6.77" fill="#1f0405"/>
<rect x="119.4" y="100.81" width="1" height="6.77" fill="#2a0606"/>
<rect x="120.4" y="100.81" width="1" height="6.77" fill="#070103"/>
<rect x="121.4" y="100.81" width="1" height="6.77" fill="#4f0d0b"/>
<rect x="122.4" y="100.81" width="1" height="6.77" fill="#2f0707"/>
<rect x="123.4" y="100.81" width="1" height="6.77" fill="#1f0405"/>
<rect x="124.4" y="100.81" width="1" height="6.77" fill="#170305"/>
<rect x="125.4" y="100.81" width="1" height="6.77" fill="#380808"/>
<rect x="126.4" y="100.81" width="1" height="6.77" fill="#120204"/>
<rect x="127.4" y="100.81" width="1" height="6.77" fill="#4b0c0b"/>
<rect x="128.4" y="100.81" width="2" height="6.77" fill="#220405"/>
<rect x="130.4" y="100.81" width="1" height="6.77" fill="#330707"/>
<rect x="131.4" y="100.81" width="1" height="6.77" fill="#3e0909"/>
<rect x="132.4" y="100.81" width="1" height="6.77" fill="#500d0b"/>
<rect x="133.4" y="100.81" width="1" height="6.77" fill="#3e0909"/>
<rect x="134.4" y="100.81" width="1" height="6.77" fill="#220405"/>
<rect x="135.4" y="100.81" width="1" height="6.77" fill="#500d0b"/>
<rect x="136.4" y="100.81" width="1" height="6.77" fill="#100204"/>
<rect x="137.4" y="100.81" width="1" height="6.77" fill="#0e0204"/>
<rect x="138.4" y="100.81" width="1" height="6.77" fill="#1a0305"/>
<rect x="139.4" y="100.81" width="1" height="6.77" fill="#3e0909"/>
<rect x="140.4" y="100.81" width="1" height="6.77" fill="#220405"/>
<rect x="141.4" y="100.81" width="1" height="6.77" fill="#330707"/>
<rect x="142.4" y="100.81" width="1" height="6.77" fill="#500d0b"/>
<rect x="143.4" y="100.81" width="1" height="6.77" fill="#3e0909"/>
<rect x="144.4" y="100.81" width="1" height="6.77" fill="#2d0606"/>
<rect x="145.4" y="100.81" width="2" height="6.77" fill="#1c0305"/>
<rect x="147.4" y="100.81" width="1" height="6.77" fill="#160305"/>
<rect x="148.4" y="100.81" width="1" height="6.77" fill="#310707"/>
<rect x="149.4" y="100.81" width="1" height="6.77" fill="#1b0305"/>
<rect x="150.4" y="100.81" width="1" height="6.77" fill="#2f0707"/>
<rect x="151.4" y="100.81" width="1" height="6.77" fill="#240405"/>
<rect x="152.4" y="100.81" width="1" height="6.77" fill="#210405"/>
<rect x="153.4" y="100.81" width="1" height="6.77" fill="#240405"/>
<rect x="154.4" y="100.81" width="1" height="6.77" fill="#040002"/>
<rect x="155.4" y="100.81" width="1" height="6.77" fill="#3e0909"/>
<rect x="156.4" y="100.81" width="1" height="6.77" fill="#330707"/>
<rect x="157.4" y="100.81" width="1" height="6.77" fill="#4b0c0b"/>
<rect x="158.4" y="100.81" width="1" height="6.77" fill="#500d0b"/>
<rect x="159.4" y="100.81" width="1" height="6.77" fill="#180305"/>
<rect x="160.4" y="100.81" width="1" height="6.77" fill="#1a0305"/>
<rect x="161.4" y="100.81" width="1" height="6.77" fill="#2d0606"/>
<rect x="162.4" y="100.81" width="1" height="6.77" fill="#500d0b"/>
<rect x="163.4" y="100.81" width="1" height="6.77" fill="#3e0909"/>
<rect x="164.4" y="100.81" width="1" height="6.77" fill="#500d0b"/>
<rect x="165.4" y="100.81" width="1" height="6.77" fill="#100204"/>
<rect x="166.4" y="100.81" width="1" height="6.77" fill="#3e0909"/>
<rect x="167.4" y="100.81" width="1" height="6.77" fill="#220405"/>
<rect x="168.4" y="100.81" width="1" height="6.77" fill="#100204"/>
<rect x="169.4" y="100.81" width="1" height="6.77" fill="#290506"/>
<rect x="170.4" y="100.81" width="1" height="6.77" fill="#170305"/>
<rect x="171.4" y="100.81" width="1" height="6.77" fill="#160305"/>
<rect x="172.4" y="100.81" width="1" height="6.77" fill="#1e0305"/>
<rect x="173.4" y="100.81" width="1" height="6.77" fill="#310707"/>
<rect x="174.4" y="100.81" width="1" height="6.77" fill="#1e0305"/>
<rect x="175.4" y="100.81" width="1" height="6.77" fill="#040002"/>
<rect x="176.4" y="100.81" width="1" height="6.77" fill="#250506"/>
<rect x="177.4" y="100.81" width="1" height="6.77" fill="#4b0c0b"/>
<rect x="178.4" y="100.81" width="1" height="6.77" fill="#3e0909"/>
<rect x="179.4" y="100.81" width="1" height="6.77" fill="#330707"/>
<rect x="180.4" y="100.81" width="2" height="6.77" fill="#100204"/>
<rect x="182.4" y="100.81" width="1" height="6.77" fill="#310707"/>
<rect x="183.4" y="100.81" width="1" height="6.77" fill="#1b0305"/>
<rect x="184.4" y="100.81" width="1" height="6.77" fill="#420a0a"/>
<rect x="185.4" y="100.81" width="1" height="6.77" fill="#180305"/>
<rect x="186.4" y="100.81" width="2" height="6.77" fill="#540e0c"/>
<rect x="188.4" y="100.81" width="1" height="6.77" fill="#040002"/>
<rect x="189.4" y="100.81" width="1" height="6.77" fill="#310707"/>
<rect x="190.4" y="100.81" width="1" height="6.77" fill="#230405"/>
<rect x="191.4" y="100.81" width="1" height="6.77" fill="#0b0103"/>
<rect x="192.4" y="100.81" width="1" height="6.77" fill="#1e0305"/>
<rect x="193.4" y="100.81" width="1" height="6.77" fill="#280506"/>
<rect x="194.4" y="100.81" width="1" height="6.77" fill="#460b0a"/>
<rect x="195.4" y="100.81" width="1" height="6.77" fill="#160204"/>
<rect x="196.4" y="100.81" width="1" height="6.77" fill="#300707"/>
<rect x="197.4" y="100.81" width="1" height="6.77" fill="#170305"/>
<rect x="198.4" y="100.81" width="1" height="6.77" fill="#290506"/>
<rect x="199.4" y="100.81" width="1" height="6.77" fill="#6e180e"/>
<rect x="200.4" y="100.81" width="1" height="6.77" fill="#86250e"/>
<rect x="201.4" y="100.81" width="1" height="6.77" fill="#6e180e"/>
<rect x="202.4" y="100.81" width="1" height="6.77" fill="#2c0606"/>
<rect x="203.4" y="100.81" width="1" height="6.77" fill="#400909"/>
<rect x="204.4" y="100.81" width="1" height="6.77" fill="#270506"/>
<rect x="205.4" y="100.81" width="1" height="6.77" fill="#2d0606"/>
<rect x="206.4" y="100.81" width="1" height="6.77" fill="#440a0a"/>
<rect x="207.4" y="100.81" width="1" height="6.77" fill="#080103"/>
<rect x="208.4" y="100.81" width="1" height="6.77" fill="#1c0305"/>
<rect x="209.4" y="100.81" width="1" height="6.77" fill="#86250e"/>
<rect x="210.4" y="100.81" width="2" height="6.77" fill="#2c0606"/>
<rect x="212.4" y="100.81" width="1" height="6.77" fill="#1f0305"/>
<rect x="213.4" y="100.81" width="1" height="6.77" fill="#160305"/>
<rect x="214.4" y="100.81" width="1" height="6.77" fill="#130204"/>
<rect x="215.4" y="100.81" width="1" height="6.77" fill="#1f0405"/>
<rect x="216.4" y="100.81" width="1" height="6.77" fill="#510d0c"/>
<rect x="217.4" y="100.81" width="1" height="6.77" fill="#190305"/>
<rect x="218.4" y="100.81" width="1" height="6.77" fill="#280506"/>
<rect x="219.4" y="100.81" width="1" height="6.77" fill="#7a1e0e"/>
<rect x="220.4" y="100.81" width="1" height="6.77" fill="#5e120d"/>
<rect x="221.4" y="100.81" width="1" height="6.77" fill="#8c280e"/>
<rect x="222.4" y="100.81" width="1" height="6.77" fill="#7a1e0e"/>
<rect x="223.4" y="100.81" width="1" height="6.77" fill="#a4360f"/>
<rect x="224.4" y="100.81" width="1" height="6.77" fill="#2d0606"/>
<rect x="225.4" y="100.81" width="1" height="6.77" fill="#1f0405"/>
<rect x="226.4" y="100.81" width="1" height="6.77" fill="#250506"/>
<rect x="227.4" y="100.81" width="1" height="6.77" fill="#190305"/>
<rect x="228.4" y="100.81" width="1" height="6.77" fill="#1f0405"/>
<rect x="229.4" y="100.81" width="1" height="6.77" fill="#220405"/>
<rect x="230.4" y="100.81" width="1" height="6.77" fill="#360808"/>
<rect x="231.4" y="100.81" width="1" height="6.77" fill="#1a0305"/>
<rect x="232.4" y="100.81" width="1" height="6.77" fill="#1c0305"/>
<rect x="233.4" y="100.81" width="1" height="6.77" fill="#260506"/>
<rect x="234.4" y="100.81" width="1" height="6.77" fill="#170305"/>
<rect x="235.4" y="100.81" width="1" height="6.77" fill="#090103"/>
<rect x="236.4" y="100.81" width="1" height="6.77" fill="#110204"/>
<rect x="237.4" y="100.81" width="1" height="6.77" fill="#1f0405"/>
<rect x="238.4" y="100.81" width="1" height="6.77" fill="#060002"/>
<rect x="239.4" y="100.81" width="1" height="6.77" fill="#170305"/>
<rect x="240.4" y="100.81" width="1" height="6.77" fill="#520d0c"/>
<rect x="241.4" y="100.81" width="1" height="6.77" fill="#250506"/>
<rect x="242.4" y="100.81" width="1" height="6.77" fill="#280506"/>
<rect x="243.4" y="100.81" width="1" height="6.77" fill="#100204"/>
<rect x="244.4" y="100.81" width="1" height="6.77" fill="#1e0305"/>
<rect x="245.4" y="100.81" width="1" height="6.77" fill="#2c0606"/>
<rect x="246.4" y="100.81" width="1" height="6.77" fill="#070103"/>
<rect x="247.4" y="100.81" width="1" height="6.77" fill="#1c0305"/>
<rect x="248.4" y="100.81" width="1" height="6.77" fill="#160204"/>
<rect x="249.4" y="100.81" width="1" height="6.77" fill="#210405"/>
<rect x="250.4" y="100.81" width="1" height="6.77" fill="#1d0305"/>
<rect x="251.4" y="100.81" width="1" height="6.77" fill="#170305"/>
<rect x="252.4" y="100.81" width="1" height="6.77" fill="#0f0204"/>
<rect x="253.4" y="100.81" width="1" height="6.77" fill="#190305"/>
<rect x="254.4" y="100.81" width="1" height="6.77" fill="#070002"/>
<rect x="255.4" y="100.81" width="2" height="6.77" fill="#1d0305"/>
<rect x="257.4" y="100.81" width="1" height="6.77" fill="#190305"/>
<rect x="258.4" y="100.81" width="1" height="6.77" fill="#290506"/>
<rect x="259.4" y="100.81" width="1" height="6.77" fill="#330707"/>
<rect x="260.4" y="100.81" width="2" height="6.77" fill="#220405"/>
<rect x="262.4" y="100.81" width="2" height="6.77" fill="#4b0c0b"/>
<rect x="264.4" y="100.81" width="1" height="6.77" fill="#100204"/>
<rect x="265.4" y="100.81" width="2" height="6.77" fill="#500d0b"/>
<rect x="267.4" y="100.81" width="1" height="6.77" fill="#330707"/>
<rect x="268.4" y="100.81" width="1" height="6.77" fill="#3e0909"/>
<rect x="269.4" y="100.81" width="1" height="6.77" fill="#100204"/>
<rect x="270.4" y="100.81" width="1" height="6.77" fill="#290506"/>
<rect x="271.4" y="100.81" width="1" height="6.77" fill="#300707"/>
<rect x="272.4" y="100.81" width="1" height="6.77" fill="#280506"/>
<rect x="273.4" y="100.81" width="1" height="6.77" fill="#220405"/>
<rect x="274.4" y="100.81" width="1" height="6.77" fill="#080103"/>
<rect x="275.4" y="100.81" width="1" height="6.77" fill="#180305"/>
<rect x="276.4" y="100.81" width="1" height="6.77" fill="#060002"/>
<rect x="277.4" y="100.81" width="1" height="6.77" fill="#220405"/>
<rect x="278.4" y="100.81" width="1" height="6.77" fill="#110204"/>
<rect x="279.4" y="100.81" width="1" height="6.77" fill="#1e0305"/>
<rect x="280.4" y="100.81" width="1" height="6.77" fill="#1b0305"/>
<rect x="281.4" y="100.81" width="1" height="6.77" fill="#170305"/>
<rect x="282.4" y="100.81" width="1" height="6.77" fill="#200405"/>
<rect x="283.4" y="100.81" width="1" height="6.77" fill="#190305"/>
<rect x="284.4" y="100.81" width="1" height="6.77" fill="#150204"/>
<rect x="285.4" y="100.81" width="1" height="6.77" fill="#200405"/>
<rect x="286.4" y="100.81" width="1" height="6.77" fill="#280506"/>
<rect x="287.4" y="100.81" width="1" height="6.77" fill="#3d0909"/>
<rect x="288.4" y="100.81" width="1" height="6.77" fill="#1c0305"/>
<rect x="289.4" y="100.81" width="1" height="6.77" fill="#230405"/>
<rect x="290.4" y="100.81" width="1" height="6.77" fill="#040002"/>
<rect x="73.4" y="107.58" width="1" height="6.77" fill="#240405"/>
<rect x="74.4" y="107.58" width="1" height="6.77" fill="#d86818"/>
<rect x="75.4" y="107.58" width="1" height="6.77" fill="#340707"/>
<rect x="76.4" y="107.58" width="1" height="6.77" fill="#2b0606"/>
<rect x="77.4" y="107.58" width="1" height="6.77" fill="#370808"/>
<rect x="78.4" y="107.58" width="1" height="6.77" fill="#180305"/>
<rect x="79.4" y="107.58" width="1" height="6.77" fill="#300707"/>
<rect x="80.4" y="107.58" width="1" height="6.77" fill="#040002"/>
<rect x="81.4" y="107.58" width="1" height="6.77" fill="#2c0606"/>
<rect x="82.4" y="107.58" width="1" height="6.77" fill="#070103"/>
<rect x="83.4" y="107.58" width="1" height="6.77" fill="#2a0606"/>
<rect x="84.4" y="107.58" width="1" height="6.77" fill="#070103"/>
<rect x="85.4" y="107.58" width="1" height="6.77" fill="#320707"/>
<rect x="86.4" y="107.58" width="1" height="6.77" fill="#180305"/>
<rect x="87.4" y="107.58" width="1" height="6.77" fill="#3c0909"/>
<rect x="88.4" y="107.58" width="1" height="6.77" fill="#170305"/>
<rect x="89.4" y="107.58" width="1" height="6.77" fill="#1d0305"/>
<rect x="90.4" y="107.58" width="1" height="6.77" fill="#280506"/>
<rect x="91.4" y="107.58" width="1" height="6.77" fill="#040002"/>
<rect x="92.4" y="107.58" width="1" height="6.77" fill="#1e0305"/>
<rect x="93.4" y="107.58" width="1" height="6.77" fill="#3e0909"/>
<rect x="94.4" y="107.58" width="1" height="6.77" fill="#300707"/>
<rect x="95.4" y="107.58" width="1" height="6.77" fill="#3d0909"/>
<rect x="96.4" y="107.58" width="1" height="6.77" fill="#130204"/>
<rect x="97.4" y="107.58" width="1" height="6.77" fill="#0e0204"/>
<rect x="98.4" y="107.58" width="1" height="6.77" fill="#070103"/>
<rect x="99.4" y="107.58" width="1" height="6.77" fill="#540e0c"/>
<rect x="100.4" y="107.58" width="1" height="6.77" fill="#180305"/>
<rect x="101.4" y="107.58" width="1" height="6.77" fill="#230405"/>
<rect x="102.4" y="107.58" width="1" height="6.77" fill="#0f0204"/>
<rect x="103.4" y="107.58" width="1" height="6.77" fill="#170305"/>
<rect x="104.4" y="107.58" width="1" height="6.77" fill="#260506"/>
<rect x="105.4" y="107.58" width="1" height="6.77" fill="#140204"/>
<rect x="106.4" y="107.58" width="1" height="6.77" fill="#150204"/>
<rect x="107.4" y="107.58" width="1" height="6.77" fill="#3e0909"/>
<rect x="108.4" y="107.58" width="1" height="6.77" fill="#0e0204"/>
<rect x="109.4" y="107.58" width="1" height="6.77" fill="#67150d"/>
<rect x="110.4" y="107.58" width="1" height="6.77" fill="#2f0606"/>
<rect x="111.4" y="107.58" width="1" height="6.77" fill="#180305"/>
<rect x="112.4" y="107.58" width="1" height="6.77" fill="#4e0d0b"/>
<rect x="113.4" y="107.58" width="1" height="6.77" fill="#2f0606"/>
<rect x="114.4" y="107.58" width="1" height="6.77" fill="#100204"/>
<rect x="115.4" y="107.58" width="1" height="6.77" fill="#040002"/>
<rect x="116.4" y="107.58" width="1" height="6.77" fill="#1c0305"/>
<rect x="117.4" y="107.58" width="1" height="6.77" fill="#280506"/>
<rect x="118.4" y="107.58" width="1" height="6.77" fill="#3d0909"/>
<rect x="119.4" y="107.58" width="1" height="6.77" fill="#270506"/>
<rect x="120.4" y="107.58" width="1" height="6.77" fill="#1c0305"/>
<rect x="121.4" y="107.58" width="1" height="6.77" fill="#210405"/>
<rect x="122.4" y="107.58" width="1" height="6.77" fill="#130204"/>
<rect x="123.4" y="107.58" width="1" height="6.77" fill="#040002"/>
<rect x="124.4" y="107.58" width="1" height="6.77" fill="#130204"/>
<rect x="125.4" y="107.58" width="1" height="6.77" fill="#400909"/>
<rect x="126.4" y="107.58" width="1" height="6.77" fill="#100204"/>
<rect x="127.4" y="107.58" width="3" height="6.77" fill="#120204"/>
<rect x="130.4" y="107.58" width="1" height="6.77" fill="#0c0103"/>
<rect x="131.4" y="107.58" width="1" height="6.77" fill="#0f0204"/>
<rect x="132.4" y="107.58" width="1" height="6.77" fill="#040002"/>
<rect x="133.4" y="107.58" width="1" height="6.77" fill="#220405"/>
<rect x="134.4" y="107.58" width="1" height="6.77" fill="#1b0305"/>
<rect x="135.4" y="107.58" width="1" height="6.77" fill="#0f0204"/>
<rect x="136.4" y="107.58" width="1" height="6.77" fill="#170305"/>
<rect x="137.4" y="107.58" width="1" height="6.77" fill="#350707"/>
<rect x="138.4" y="107.58" width="1" height="6.77" fill="#060002"/>
<rect x="139.4" y="107.58" width="1" height="6.77" fill="#430a0a"/>
<rect x="140.4" y="107.58" width="1" height="6.77" fill="#140204"/>
<rect x="141.4" y="107.58" width="1" height="6.77" fill="#180305"/>
<rect x="142.4" y="107.58" width="1" height="6.77" fill="#1a0305"/>
<rect x="143.4" y="107.58" width="1" height="6.77" fill="#150204"/>
<rect x="144.4" y="107.58" width="1" height="6.77" fill="#140204"/>
<rect x="145.4" y="107.58" width="1" height="6.77" fill="#0f0204"/>
<rect x="146.4" y="107.58" width="1" height="6.77" fill="#180305"/>
<rect x="147.4" y="107.58" width="1" height="6.77" fill="#fce440"/>
<rect x="148.4" y="107.58" width="1" height="6.77" fill="#090103"/>
<rect x="149.4" y="107.58" width="1" height="6.77" fill="#170305"/>
<rect x="150.4" y="107.58" width="1" height="6.77" fill="#080103"/>
<rect x="151.4" y="107.58" width="1" height="6.77" fill="#060002"/>
<rect x="152.4" y="107.58" width="1" height="6.77" fill="#110204"/>
<rect x="153.4" y="107.58" width="1" height="6.77" fill="#2a0606"/>
<rect x="154.4" y="107.58" width="1" height="6.77" fill="#2c0606"/>
<rect x="155.4" y="107.58" width="1" height="6.77" fill="#1b0305"/>
<rect x="156.4" y="107.58" width="1" height="6.77" fill="#140204"/>
<rect x="157.4" y="107.58" width="1" height="6.77" fill="#180305"/>
<rect x="158.4" y="107.58" width="1" height="6.77" fill="#2d0606"/>
<rect x="159.4" y="107.58" width="1" height="6.77" fill="#220405"/>
<rect x="160.4" y="107.58" width="1" height="6.77" fill="#6e180e"/>
<rect x="161.4" y="107.58" width="1" height="6.77" fill="#160204"/>
<rect x="162.4" y="107.58" width="1" height="6.77" fill="#2d0606"/>
<rect x="163.4" y="107.58" width="1" height="6.77" fill="#120204"/>
<rect x="164.4" y="107.58" width="2" height="6.77" fill="#270506"/>
<rect x="166.4" y="107.58" width="1" height="6.77" fill="#450b0a"/>
<rect x="167.4" y="107.58" width="1" height="6.77" fill="#0d0204"/>
<rect x="168.4" y="107.58" width="1" height="6.77" fill="#0b0103"/>
<rect x="169.4" y="107.58" width="1" height="6.77" fill="#1d0305"/>
<rect x="170.4" y="107.58" width="1" height="6.77" fill="#0d0204"/>
<rect x="171.4" y="107.58" width="1" height="6.77" fill="#fce440"/>
<rect x="172.4" y="107.58" width="2" height="6.77" fill="#110204"/>
<rect x="174.4" y="107.58" width="1" height="6.77" fill="#1a0305"/>
<rect x="175.4" y="107.58" width="1" height="6.77" fill="#1d0305"/>
<rect x="176.4" y="107.58" width="1" height="6.77" fill="#180305"/>
<rect x="177.4" y="107.58" width="1" height="6.77" fill="#090103"/>
<rect x="178.4" y="107.58" width="1" height="6.77" fill="#400909"/>
<rect x="179.4" y="107.58" width="1" height="6.77" fill="#310707"/>
<rect x="180.4" y="107.58" width="1" height="6.77" fill="#250506"/>
<rect x="181.4" y="107.58" width="1" height="6.77" fill="#080103"/>
<rect x="182.4" y="107.58" width="1" height="6.77" fill="#2d0606"/>
<rect x="183.4" y="107.58" width="1" height="6.77" fill="#070002"/>
<rect x="184.4" y="107.58" width="1" height="6.77" fill="#e37d1c"/>
<rect x="185.4" y="107.58" width="1" height="6.77" fill="#db6f19"/>
<rect x="186.4" y="107.58" width="1" height="6.77" fill="#e37e1c"/>
<rect x="187.4" y="107.58" width="1" height="6.77" fill="#62130d"/>
<rect x="188.4" y="107.58" width="1" height="6.77" fill="#e17a1b"/>
<rect x="189.4" y="107.58" width="1" height="6.77" fill="#240405"/>
<rect x="190.4" y="107.58" width="1" height="6.77" fill="#180305"/>
<rect x="191.4" y="107.58" width="1" height="6.77" fill="#0f0204"/>
<rect x="192.4" y="107.58" width="1" height="6.77" fill="#270506"/>
<rect x="193.4" y="107.58" width="1" height="6.77" fill="#100204"/>
<rect x="194.4" y="107.58" width="1" height="6.77" fill="#160204"/>
<rect x="195.4" y="107.58" width="1" height="6.77" fill="#2e0606"/>
<rect x="196.4" y="107.58" width="1" height="6.77" fill="#090103"/>
<rect x="197.4" y="107.58" width="1" height="6.77" fill="#120204"/>
<rect x="198.4" y="107.58" width="1" height="6.77" fill="#090103"/>
<rect x="199.4" y="107.58" width="1" height="6.77" fill="#340707"/>
<rect x="200.4" y="107.58" width="1" height="6.77" fill="#0f0204"/>
<rect x="201.4" y="107.58" width="1" height="6.77" fill="#6e180e"/>
<rect x="202.4" y="107.58" width="1" height="6.77" fill="#170305"/>
<rect x="203.4" y="107.58" width="1" height="6.77" fill="#140204"/>
<rect x="204.4" y="107.58" width="1" height="6.77" fill="#150204"/>
<rect x="205.4" y="107.58" width="1" height="6.77" fill="#220405"/>
<rect x="206.4" y="107.58" width="1" height="6.77" fill="#130204"/>
<rect x="207.4" y="107.58" width="1" height="6.77" fill="#330707"/>
<rect x="208.4" y="107.58" width="1" height="6.77" fill="#2b0606"/>
<rect x="209.4" y="107.58" width="1" height="6.77" fill="#0f0204"/>
<rect x="210.4" y="107.58" width="1" height="6.77" fill="#320707"/>
<rect x="211.4" y="107.58" width="1" height="6.77" fill="#1c0305"/>
<rect x="212.4" y="107.58" width="1" height="6.77" fill="#1d0305"/>
<rect x="213.4" y="107.58" width="1" height="6.77" fill="#1b0305"/>
<rect x="214.4" y="107.58" width="1" height="6.77" fill="#220405"/>
<rect x="215.4" y="107.58" width="1" height="6.77" fill="#1e0305"/>
<rect x="216.4" y="107.58" width="1" height="6.77" fill="#180305"/>
<rect x="217.4" y="107.58" width="1" height="6.77" fill="#200405"/>
<rect x="218.4" y="107.58" width="1" height="6.77" fill="#360808"/>
<rect x="219.4" y="107.58" width="1" height="6.77" fill="#6e180e"/>
<rect x="220.4" y="107.58" width="1" height="6.77" fill="#180305"/>
<rect x="221.4" y="107.58" width="1" height="6.77" fill="#2d0606"/>
<rect x="222.4" y="107.58" width="1" height="6.77" fill="#280506"/>
<rect x="223.4" y="107.58" width="1" height="6.77" fill="#310707"/>
<rect x="224.4" y="107.58" width="1" height="6.77" fill="#200405"/>
<rect x="225.4" y="107.58" width="1" height="6.77" fill="#fff6a8"/>
<rect x="226.4" y="107.58" width="1" height="6.77" fill="#0d0103"/>
<rect x="227.4" y="107.58" width="1" height="6.77" fill="#0a0103"/>
<rect x="228.4" y="107.58" width="1" height="6.77" fill="#1b0305"/>
<rect x="229.4" y="107.58" width="1" height="6.77" fill="#3e0909"/>
<rect x="230.4" y="107.58" width="1" height="6.77" fill="#1b0305"/>
<rect x="231.4" y="107.58" width="1" height="6.77" fill="#f8d42c"/>
<rect x="232.4" y="107.58" width="1" height="6.77" fill="#1c0305"/>
<rect x="233.4" y="107.58" width="1" height="6.77" fill="#090103"/>
<rect x="234.4" y="107.58" width="1" height="6.77" fill="#240405"/>
<rect x="235.4" y="107.58" width="1" height="6.77" fill="#170305"/>
<rect x="236.4" y="107.58" width="2" height="6.77" fill="#260506"/>
<rect x="238.4" y="107.58" width="1" height="6.77" fill="#380808"/>
<rect x="239.4" y="107.58" width="1" height="6.77" fill="#250506"/>
<rect x="240.4" y="107.58" width="1" height="6.77" fill="#370808"/>
<rect x="241.4" y="107.58" width="1" height="6.77" fill="#090103"/>
<rect x="242.4" y="107.58" width="1" height="6.77" fill="#140204"/>
<rect x="243.4" y="107.58" width="1" height="6.77" fill="#460b0a"/>
<rect x="244.4" y="107.58" width="1" height="6.77" fill="#130204"/>
<rect x="245.4" y="107.58" width="1" height="6.77" fill="#5b110d"/>
<rect x="246.4" y="107.58" width="1" height="6.77" fill="#fffbe0"/>
<rect x="247.4" y="107.58" width="1" height="6.77" fill="#150204"/>
<rect x="248.4" y="107.58" width="1" height="6.77" fill="#140204"/>
<rect x="249.4" y="107.58" width="1" height="6.77" fill="#040002"/>
<rect x="250.4" y="107.58" width="1" height="6.77" fill="#100204"/>
<rect x="251.4" y="107.58" width="1" height="6.77" fill="#0b0103"/>
<rect x="252.4" y="107.58" width="2" height="6.77" fill="#6e180e"/>
<rect x="254.4" y="107.58" width="1" height="6.77" fill="#210405"/>
<rect x="255.4" y="107.58" width="1" height="6.77" fill="#040002"/>
<rect x="256.4" y="107.58" width="1" height="6.77" fill="#260506"/>
<rect x="257.4" y="107.58" width="1" height="6.77" fill="#040002"/>
<rect x="258.4" y="107.58" width="1" height="6.77" fill="#210405"/>
<rect x="259.4" y="107.58" width="1" height="6.77" fill="#0e0204"/>
<rect x="260.4" y="107.58" width="1" height="6.77" fill="#160204"/>
<rect x="261.4" y="107.58" width="1" height="6.77" fill="#460b0a"/>
<rect x="262.4" y="107.58" width="1" height="6.77" fill="#210405"/>
<rect x="263.4" y="107.58" width="1" height="6.77" fill="#2f0707"/>
<rect x="264.4" y="107.58" width="1" height="6.77" fill="#1a0305"/>
<rect x="265.4" y="107.58" width="1" height="6.77" fill="#290506"/>
<rect x="266.4" y="107.58" width="1" height="6.77" fill="#170305"/>
<rect x="267.4" y="107.58" width="1" height="6.77" fill="#370808"/>
<rect x="268.4" y="107.58" width="1" height="6.77" fill="#150204"/>
<rect x="269.4" y="107.58" width="1" height="6.77" fill="#180305"/>
<rect x="270.4" y="107.58" width="1" height="6.77" fill="#1d0305"/>
<rect x="271.4" y="107.58" width="1" height="6.77" fill="#2a0606"/>
<rect x="272.4" y="107.58" width="1" height="6.77" fill="#230405"/>
<rect x="273.4" y="107.58" width="1" height="6.77" fill="#090103"/>
<rect x="274.4" y="107.58" width="1" height="6.77" fill="#1e0305"/>
<rect x="275.4" y="107.58" width="1" height="6.77" fill="#f8d42c"/>
<rect x="276.4" y="107.58" width="1" height="6.77" fill="#150204"/>
<rect x="277.4" y="107.58" width="2" height="6.77" fill="#240506"/>
<rect x="279.4" y="107.58" width="1" height="6.77" fill="#0e0204"/>
<rect x="280.4" y="107.58" width="2" height="6.77" fill="#e4801c"/>
<rect x="282.4" y="107.58" width="1" height="6.77" fill="#180305"/>
<rect x="283.4" y="107.58" width="1" height="6.77" fill="#120204"/>
<rect x="284.4" y="107.58" width="1" height="6.77" fill="#0a0103"/>
<rect x="285.4" y="107.58" width="1" height="6.77" fill="#170305"/>
<rect x="286.4" y="107.58" width="1" height="6.77" fill="#6e180e"/>
<rect x="287.4" y="107.58" width="1" height="6.77" fill="#180305"/>
<rect x="288.4" y="107.58" width="1" height="6.77" fill="#190305"/>
<rect x="289.4" y="107.58" width="1" height="6.77" fill="#1e0305"/>
<rect x="290.4" y="107.58" width="1" height="6.77" fill="#2e0606"/>
<rect x="73.4" y="114.35" width="1" height="6.77" fill="#120204"/>
<rect x="74.4" y="114.35" width="1" height="6.77" fill="#090103"/>
<rect x="75.4" y="114.35" width="1" height="6.77" fill="#170305"/>
<rect x="76.4" y="114.35" width="1" height="6.77" fill="#190305"/>
<rect x="77.4" y="114.35" width="1" height="6.77" fill="#160305"/>
<rect x="78.4" y="114.35" width="2" height="6.77" fill="#120204"/>
<rect x="80.4" y="114.35" width="1" height="6.77" fill="#0d0103"/>
<rect x="81.4" y="114.35" width="1" height="6.77" fill="#090103"/>
<rect x="82.4" y="114.35" width="1" height="6.77" fill="#0a0103"/>
<rect x="83.4" y="114.35" width="1" height="6.77" fill="#130204"/>
<rect x="84.4" y="114.35" width="1" height="6.77" fill="#140204"/>
<rect x="85.4" y="114.35" width="1" height="6.77" fill="#100204"/>
<rect x="86.4" y="114.35" width="1" height="6.77" fill="#140204"/>
<rect x="87.4" y="114.35" width="1" height="6.77" fill="#380808"/>
<rect x="88.4" y="114.35" width="1" height="6.77" fill="#110204"/>
<rect x="89.4" y="114.35" width="1" height="6.77" fill="#100204"/>
<rect x="90.4" y="114.35" width="1" height="6.77" fill="#110204"/>
<rect x="91.4" y="114.35" width="1" height="6.77" fill="#200405"/>
<rect x="92.4" y="114.35" width="1" height="6.77" fill="#0d0103"/>
<rect x="93.4" y="114.35" width="2" height="6.77" fill="#090103"/>
<rect x="95.4" y="114.35" width="1" height="6.77" fill="#140204"/>
<rect x="96.4" y="114.35" width="1" height="6.77" fill="#0b0103"/>
<rect x="97.4" y="114.35" width="1" height="6.77" fill="#0c0103"/>
<rect x="98.4" y="114.35" width="1" height="6.77" fill="#0a0103"/>
<rect x="99.4" y="114.35" width="1" height="6.77" fill="#110204"/>
<rect x="100.4" y="114.35" width="1" height="6.77" fill="#0a0103"/>
<rect x="101.4" y="114.35" width="1" height="6.77" fill="#150204"/>
<rect x="102.4" y="114.35" width="1" height="6.77" fill="#0a0103"/>
<rect x="103.4" y="114.35" width="1" height="6.77" fill="#0d0204"/>
<rect x="104.4" y="114.35" width="1" height="6.77" fill="#0b0103"/>
<rect x="105.4" y="114.35" width="2" height="6.77" fill="#170305"/>
<rect x="107.4" y="114.35" width="1" height="6.77" fill="#130204"/>
<rect x="108.4" y="114.35" width="1" height="6.77" fill="#100204"/>
<rect x="109.4" y="114.35" width="1" height="6.77" fill="#0f0204"/>
<rect x="110.4" y="114.35" width="1" height="6.77" fill="#120204"/>
<rect x="111.4" y="114.35" width="1" height="6.77" fill="#130204"/>
<rect x="112.4" y="114.35" width="1" height="6.77" fill="#160204"/>
<rect x="113.4" y="114.35" width="1" height="6.77" fill="#300707"/>
<rect x="114.4" y="114.35" width="2" height="6.77" fill="#150204"/>
<rect x="116.4" y="114.35" width="1" height="6.77" fill="#160305"/>
<rect x="117.4" y="114.35" width="1" height="6.77" fill="#130204"/>
<rect x="118.4" y="114.35" width="2" height="6.77" fill="#0d0204"/>
<rect x="120.4" y="114.35" width="1" height="6.77" fill="#0f0204"/>
<rect x="121.4" y="114.35" width="1" height="6.77" fill="#120204"/>
<rect x="122.4" y="114.35" width="1" height="6.77" fill="#140204"/>
<rect x="123.4" y="114.35" width="1" height="6.77" fill="#170305"/>
<rect x="124.4" y="114.35" width="1" height="6.77" fill="#0d0103"/>
<rect x="125.4" y="114.35" width="1" height="6.77" fill="#1f0405"/>
<rect x="126.4" y="114.35" width="1" height="6.77" fill="#160204"/>
<rect x="127.4" y="114.35" width="1" height="6.77" fill="#0e0204"/>
<rect x="128.4" y="114.35" width="2" height="6.77" fill="#140204"/>
<rect x="130.4" y="114.35" width="1" height="6.77" fill="#0a0103"/>
<rect x="131.4" y="114.35" width="1" height="6.77" fill="#0d0204"/>
<rect x="132.4" y="114.35" width="1" height="6.77" fill="#0e0204"/>
<rect x="133.4" y="114.35" width="1" height="6.77" fill="#170305"/>
<rect x="134.4" y="114.35" width="1" height="6.77" fill="#100204"/>
<rect x="135.4" y="114.35" width="1" height="6.77" fill="#110204"/>
<rect x="136.4" y="114.35" width="1" height="6.77" fill="#0f0204"/>
<rect x="137.4" y="114.35" width="1" height="6.77" fill="#130204"/>
<rect x="138.4" y="114.35" width="1" height="6.77" fill="#0a0103"/>
<rect x="139.4" y="114.35" width="1" height="6.77" fill="#0d0103"/>
<rect x="140.4" y="114.35" width="1" height="6.77" fill="#090103"/>
<rect x="141.4" y="114.35" width="1" height="6.77" fill="#130204"/>
<rect x="142.4" y="114.35" width="1" height="6.77" fill="#0b0103"/>
<rect x="143.4" y="114.35" width="1" height="6.77" fill="#130204"/>
<rect x="144.4" y="114.35" width="1" height="6.77" fill="#140204"/>
<rect x="145.4" y="114.35" width="1" height="6.77" fill="#0c0103"/>
<rect x="146.4" y="114.35" width="1" height="6.77" fill="#090103"/>
<rect x="147.4" y="114.35" width="1" height="6.77" fill="#3e0909"/>
<rect x="148.4" y="114.35" width="1" height="6.77" fill="#170305"/>
<rect x="149.4" y="114.35" width="2" height="6.77" fill="#110204"/>
<rect x="151.4" y="114.35" width="1" height="6.77" fill="#1a0305"/>
<rect x="152.4" y="114.35" width="1" height="6.77" fill="#090103"/>
<rect x="153.4" y="114.35" width="1" height="6.77" fill="#0b0103"/>
<rect x="154.4" y="114.35" width="1" height="6.77" fill="#100204"/>
<rect x="155.4" y="114.35" width="1" height="6.77" fill="#130204"/>
<rect x="156.4" y="114.35" width="1" height="6.77" fill="#140204"/>
<rect x="157.4" y="114.35" width="1" height="6.77" fill="#0a0103"/>
<rect x="158.4" y="114.35" width="2" height="6.77" fill="#0f0204"/>
<rect x="160.4" y="114.35" width="1" height="6.77" fill="#0a0103"/>
<rect x="161.4" y="114.35" width="1" height="6.77" fill="#0e0204"/>
<rect x="162.4" y="114.35" width="1" height="6.77" fill="#090103"/>
<rect x="163.4" y="114.35" width="1" height="6.77" fill="#0c0103"/>
<rect x="164.4" y="114.35" width="1" height="6.77" fill="#140204"/>
<rect x="165.4" y="114.35" width="1" height="6.77" fill="#1c0305"/>
<rect x="166.4" y="114.35" width="1" height="6.77" fill="#160204"/>
<rect x="167.4" y="114.35" width="2" height="6.77" fill="#120204"/>
<rect x="169.4" y="114.35" width="1" height="6.77" fill="#0b0103"/>
<rect x="170.4" y="114.35" width="1" height="6.77" fill="#170305"/>
<rect x="171.4" y="114.35" width="1" height="6.77" fill="#120204"/>
<rect x="172.4" y="114.35" width="1" height="6.77" fill="#180305"/>
<rect x="173.4" y="114.35" width="1" height="6.77" fill="#150204"/>
<rect x="174.4" y="114.35" width="1" height="6.77" fill="#170305"/>
<rect x="175.4" y="114.35" width="1" height="6.77" fill="#130204"/>
<rect x="176.4" y="114.35" width="1" height="6.77" fill="#140204"/>
<rect x="177.4" y="114.35" width="1" height="6.77" fill="#0e0204"/>
<rect x="178.4" y="114.35" width="1" height="6.77" fill="#0a0103"/>
<rect x="179.4" y="114.35" width="1" height="6.77" fill="#140204"/>
<rect x="180.4" y="114.35" width="1" height="6.77" fill="#0e0204"/>
<rect x="181.4" y="114.35" width="2" height="6.77" fill="#0c0103"/>
<rect x="183.4" y="114.35" width="1" height="6.77" fill="#b44010"/>
<rect x="184.4" y="114.35" width="1" height="6.77" fill="#100204"/>
<rect x="185.4" y="114.35" width="1" height="6.77" fill="#0a0103"/>
<rect x="186.4" y="114.35" width="1" height="6.77" fill="#150204"/>
<rect x="187.4" y="114.35" width="1" height="6.77" fill="#090103"/>
<rect x="188.4" y="114.35" width="1" height="6.77" fill="#0a0103"/>
<rect x="189.4" y="114.35" width="1" height="6.77" fill="#130204"/>
<rect x="190.4" y="114.35" width="1" height="6.77" fill="#0a0103"/>
<rect x="191.4" y="114.35" width="1" height="6.77" fill="#0b0103"/>
<rect x="192.4" y="114.35" width="1" height="6.77" fill="#0f0204"/>
<rect x="193.4" y="114.35" width="1" height="6.77" fill="#0a0103"/>
<rect x="194.4" y="114.35" width="1" height="6.77" fill="#100204"/>
<rect x="195.4" y="114.35" width="1" height="6.77" fill="#220405"/>
<rect x="196.4" y="114.35" width="1" height="6.77" fill="#140204"/>
<rect x="197.4" y="114.35" width="2" height="6.77" fill="#150204"/>
<rect x="199.4" y="114.35" width="1" height="6.77" fill="#160305"/>
<rect x="200.4" y="114.35" width="1" height="6.77" fill="#0c0103"/>
<rect x="201.4" y="114.35" width="1" height="6.77" fill="#150204"/>
<rect x="202.4" y="114.35" width="1" height="6.77" fill="#0a0103"/>
<rect x="203.4" y="114.35" width="1" height="6.77" fill="#160305"/>
<rect x="204.4" y="114.35" width="1" height="6.77" fill="#2b0606"/>
<rect x="205.4" y="114.35" width="1" height="6.77" fill="#0d0204"/>
<rect x="206.4" y="114.35" width="1" height="6.77" fill="#120204"/>
<rect x="207.4" y="114.35" width="1" height="6.77" fill="#0b0103"/>
<rect x="208.4" y="114.35" width="1" height="6.77" fill="#100204"/>
<rect x="209.4" y="114.35" width="1" height="6.77" fill="#090103"/>
<rect x="210.4" y="114.35" width="1" height="6.77" fill="#270506"/>
<rect x="211.4" y="114.35" width="1" height="6.77" fill="#130204"/>
<rect x="212.4" y="114.35" width="1" height="6.77" fill="#0c0103"/>
<rect x="213.4" y="114.35" width="1" height="6.77" fill="#120204"/>
<rect x="214.4" y="114.35" width="1" height="6.77" fill="#0b0103"/>
<rect x="215.4" y="114.35" width="1" height="6.77" fill="#160305"/>
<rect x="216.4" y="114.35" width="1" height="6.77" fill="#150204"/>
<rect x="217.4" y="114.35" width="1" height="6.77" fill="#160204"/>
<rect x="218.4" y="114.35" width="1" height="6.77" fill="#0c0103"/>
<rect x="219.4" y="114.35" width="1" height="6.77" fill="#160204"/>
<rect x="220.4" y="114.35" width="1" height="6.77" fill="#200405"/>
<rect x="221.4" y="114.35" width="1" height="6.77" fill="#0b0103"/>
<rect x="222.4" y="114.35" width="1" height="6.77" fill="#140204"/>
<rect x="223.4" y="114.35" width="1" height="6.77" fill="#160305"/>
<rect x="224.4" y="114.35" width="1" height="6.77" fill="#360808"/>
<rect x="225.4" y="114.35" width="1" height="6.77" fill="#0c0103"/>
<rect x="226.4" y="114.35" width="1" height="6.77" fill="#100204"/>
<rect x="227.4" y="114.35" width="2" height="6.77" fill="#3e0909"/>
<rect x="229.4" y="114.35" width="1" height="6.77" fill="#150204"/>
<rect x="230.4" y="114.35" width="1" height="6.77" fill="#170305"/>
<rect x="231.4" y="114.35" width="1" height="6.77" fill="#0c0103"/>
<rect x="232.4" y="114.35" width="1" height="6.77" fill="#0d0204"/>
<rect x="233.4" y="114.35" width="1" height="6.77" fill="#0e0204"/>
<rect x="234.4" y="114.35" width="1" height="6.77" fill="#090103"/>
<rect x="235.4" y="114.35" width="1" height="6.77" fill="#0b0103"/>
<rect x="236.4" y="114.35" width="1" height="6.77" fill="#090103"/>
<rect x="237.4" y="114.35" width="1" height="6.77" fill="#0d0103"/>
<rect x="238.4" y="114.35" width="1" height="6.77" fill="#110204"/>
<rect x="239.4" y="114.35" width="3" height="6.77" fill="#0b0103"/>
<rect x="242.4" y="114.35" width="1" height="6.77" fill="#100204"/>
<rect x="243.4" y="114.35" width="1" height="6.77" fill="#290506"/>
<rect x="244.4" y="114.35" width="1" height="6.77" fill="#0b0103"/>
<rect x="245.4" y="114.35" width="1" height="6.77" fill="#0f0204"/>
<rect x="246.4" y="114.35" width="1" height="6.77" fill="#160204"/>
<rect x="247.4" y="114.35" width="1" height="6.77" fill="#150204"/>
<rect x="248.4" y="114.35" width="1" height="6.77" fill="#0d0103"/>
<rect x="249.4" y="114.35" width="1" height="6.77" fill="#2f0707"/>
<rect x="250.4" y="114.35" width="1" height="6.77" fill="#1b0305"/>
<rect x="251.4" y="114.35" width="1" height="6.77" fill="#0d0103"/>
<rect x="252.4" y="114.35" width="1" height="6.77" fill="#150204"/>
<rect x="253.4" y="114.35" width="1" height="6.77" fill="#100204"/>
<rect x="254.4" y="114.35" width="1" height="6.77" fill="#140204"/>
<rect x="255.4" y="114.35" width="1" height="6.77" fill="#100204"/>
<rect x="256.4" y="114.35" width="1" height="6.77" fill="#0c0103"/>
<rect x="257.4" y="114.35" width="1" height="6.77" fill="#110204"/>
<rect x="258.4" y="114.35" width="1" height="6.77" fill="#160204"/>
<rect x="259.4" y="114.35" width="1" height="6.77" fill="#2a0606"/>
<rect x="260.4" y="114.35" width="1" height="6.77" fill="#110204"/>
<rect x="261.4" y="114.35" width="1" height="6.77" fill="#130204"/>
<rect x="262.4" y="114.35" width="1" height="6.77" fill="#0c0103"/>
<rect x="263.4" y="114.35" width="1" height="6.77" fill="#100204"/>
<rect x="264.4" y="114.35" width="1" height="6.77" fill="#0a0103"/>
<rect x="265.4" y="114.35" width="2" height="6.77" fill="#120204"/>
<rect x="267.4" y="114.35" width="1" height="6.77" fill="#090103"/>
<rect x="268.4" y="114.35" width="1" height="6.77" fill="#130204"/>
<rect x="269.4" y="114.35" width="1" height="6.77" fill="#120204"/>
<rect x="270.4" y="114.35" width="1" height="6.77" fill="#170305"/>
<rect x="271.4" y="114.35" width="1" height="6.77" fill="#0c0103"/>
<rect x="272.4" y="114.35" width="1" height="6.77" fill="#170305"/>
<rect x="273.4" y="114.35" width="1" height="6.77" fill="#0f0204"/>
<rect x="274.4" y="114.35" width="1" height="6.77" fill="#160204"/>
<rect x="275.4" y="114.35" width="1" height="6.77" fill="#130204"/>
<rect x="276.4" y="114.35" width="1" height="6.77" fill="#120204"/>
<rect x="277.4" y="114.35" width="1" height="6.77" fill="#0b0103"/>
<rect x="278.4" y="114.35" width="1" height="6.77" fill="#0c0103"/>
<rect x="279.4" y="114.35" width="1" height="6.77" fill="#090103"/>
<rect x="280.4" y="114.35" width="1" height="6.77" fill="#0f0204"/>
<rect x="281.4" y="114.35" width="1" height="6.77" fill="#0a0103"/>
<rect x="282.4" y="114.35" width="1" height="6.77" fill="#160305"/>
<rect x="283.4" y="114.35" width="1" height="6.77" fill="#0e0204"/>
<rect x="284.4" y="114.35" width="1" height="6.77" fill="#0f0204"/>
<rect x="285.4" y="114.35" width="1" height="6.77" fill="#2b0606"/>
<rect x="286.4" y="114.35" width="1" height="6.77" fill="#0b0103"/>
<rect x="287.4" y="114.35" width="1" height="6.77" fill="#170305"/>
<rect x="288.4" y="114.35" width="1" height="6.77" fill="#150204"/>
<rect x="289.4" y="114.35" width="1" height="6.77" fill="#120204"/>
<rect x="290.4" y="114.35" width="1" height="6.77" fill="#170305"/>
<rect x="73.4" y="121.12" width="1" height="6.77" fill="#2e0606"/>
<rect x="74.4" y="121.12" width="1" height="6.77" fill="#1d0305"/>
<rect x="75.4" y="121.12" width="1" height="6.77" fill="#130204"/>
<rect x="76.4" y="121.12" width="1" height="6.77" fill="#190305"/>
<rect x="77.4" y="121.12" width="1" height="6.77" fill="#2d0606"/>
<rect x="78.4" y="121.12" width="1" height="6.77" fill="#2f0707"/>
<rect x="79.4" y="121.12" width="1" height="6.77" fill="#7a1e0e"/>
<rect x="80.4" y="121.12" width="2" height="6.77" fill="#3e0909"/>
<rect x="82.4" y="121.12" width="1" height="6.77" fill="#260506"/>
<rect x="83.4" y="121.12" width="1" height="6.77" fill="#370808"/>
<rect x="84.4" y="121.12" width="1" height="6.77" fill="#2a0606"/>
<rect x="85.4" y="121.12" width="1" height="6.77" fill="#240506"/>
<rect x="86.4" y="121.12" width="1" height="6.77" fill="#6e180e"/>
<rect x="87.4" y="121.12" width="1" height="6.77" fill="#340707"/>
<rect x="88.4" y="121.12" width="1" height="6.77" fill="#2f0606"/>
<rect x="89.4" y="121.12" width="1" height="6.77" fill="#190305"/>
<rect x="90.4" y="121.12" width="1" height="6.77" fill="#6e180e"/>
<rect x="91.4" y="121.12" width="1" height="6.77" fill="#2a0606"/>
<rect x="92.4" y="121.12" width="1" height="6.77" fill="#1c0305"/>
<rect x="93.4" y="121.12" width="1" height="6.77" fill="#440a0a"/>
<rect x="94.4" y="121.12" width="1" height="6.77" fill="#c85414"/>
<rect x="95.4" y="121.12" width="1" height="6.77" fill="#260506"/>
<rect x="96.4" y="121.12" width="1" height="6.77" fill="#1c0305"/>
<rect x="97.4" y="121.12" width="1" height="6.77" fill="#360808"/>
<rect x="98.4" y="121.12" width="1" height="6.77" fill="#110204"/>
<rect x="99.4" y="121.12" width="1" height="6.77" fill="#370808"/>
<rect x="100.4" y="121.12" width="3" height="6.77" fill="#6e180e"/>
<rect x="103.4" y="121.12" width="1" height="6.77" fill="#340707"/>
<rect x="104.4" y="121.12" width="1" height="6.77" fill="#6e180e"/>
<rect x="105.4" y="121.12" width="1" height="6.77" fill="#230405"/>
<rect x="106.4" y="121.12" width="1" height="6.77" fill="#220405"/>
<rect x="107.4" y="121.12" width="1" height="6.77" fill="#370808"/>
<rect x="108.4" y="121.12" width="1" height="6.77" fill="#260506"/>
<rect x="109.4" y="121.12" width="1" height="6.77" fill="#e4801c"/>
<rect x="110.4" y="121.12" width="1" height="6.77" fill="#490c0b"/>
<rect x="111.4" y="121.12" width="1" height="6.77" fill="#370808"/>
<rect x="112.4" y="121.12" width="1" height="6.77" fill="#250506"/>
<rect x="113.4" y="121.12" width="1" height="6.77" fill="#d86818"/>
<rect x="114.4" y="121.12" width="1" height="6.77" fill="#380808"/>
<rect x="115.4" y="121.12" width="1" height="6.77" fill="#3b0808"/>
<rect x="116.4" y="121.12" width="1" height="6.77" fill="#150204"/>
<rect x="117.4" y="121.12" width="1" height="6.77" fill="#6e180e"/>
<rect x="118.4" y="121.12" width="1" height="6.77" fill="#3c0909"/>
<rect x="119.4" y="121.12" width="1" height="6.77" fill="#4c0c0b"/>
<rect x="120.4" y="121.12" width="1" height="6.77" fill="#270506"/>
<rect x="121.4" y="121.12" width="1" height="6.77" fill="#550e0c"/>
<rect x="122.4" y="121.12" width="1" height="6.77" fill="#1d0305"/>
<rect x="123.4" y="121.12" width="1" height="6.77" fill="#3d0909"/>
<rect x="124.4" y="121.12" width="1" height="6.77" fill="#3c0909"/>
<rect x="125.4" y="121.12" width="1" height="6.77" fill="#6e180e"/>
<rect x="126.4" y="121.12" width="1" height="6.77" fill="#180305"/>
<rect x="127.4" y="121.12" width="1" height="6.77" fill="#3e0909"/>
<rect x="128.4" y="121.12" width="1" height="6.77" fill="#b44010"/>
<rect x="129.4" y="121.12" width="1" height="6.77" fill="#260506"/>
<rect x="130.4" y="121.12" width="1" height="6.77" fill="#210405"/>
<rect x="131.4" y="121.12" width="1" height="6.77" fill="#250506"/>
<rect x="132.4" y="121.12" width="1" height="6.77" fill="#120204"/>
<rect x="133.4" y="121.12" width="1" height="6.77" fill="#5c110d"/>
<rect x="134.4" y="121.12" width="1" height="6.77" fill="#1a0305"/>
<rect x="135.4" y="121.12" width="1" height="6.77" fill="#fbe23d"/>
<rect x="136.4" y="121.12" width="1" height="6.77" fill="#fff074"/>
<rect x="137.4" y="121.12" width="1" height="6.77" fill="#fde74b"/>
<rect x="138.4" y="121.12" width="1" height="6.77" fill="#3c0909"/>
<rect x="139.4" y="121.12" width="1" height="6.77" fill="#1c0305"/>
<rect x="140.4" y="121.12" width="1" height="6.77" fill="#69160e"/>
<rect x="141.4" y="121.12" width="1" height="6.77" fill="#470b0a"/>
<rect x="142.4" y="121.12" width="1" height="6.77" fill="#69160e"/>
<rect x="143.4" y="121.12" width="2" height="6.77" fill="#330707"/>
<rect x="145.4" y="121.12" width="1" height="6.77" fill="#b44010"/>
<rect x="146.4" y="121.12" width="1" height="6.77" fill="#210405"/>
<rect x="147.4" y="121.12" width="1" height="6.77" fill="#370808"/>
<rect x="148.4" y="121.12" width="1" height="6.77" fill="#540e0c"/>
<rect x="149.4" y="121.12" width="2" height="6.77" fill="#69160e"/>
<rect x="151.4" y="121.12" width="1" height="6.77" fill="#64140d"/>
<rect x="152.4" y="121.12" width="1" height="6.77" fill="#210405"/>
<rect x="153.4" y="121.12" width="1" height="6.77" fill="#2d0606"/>
<rect x="154.4" y="121.12" width="1" height="6.77" fill="#1b0305"/>
<rect x="155.4" y="121.12" width="1" height="6.77" fill="#64140d"/>
<rect x="156.4" y="121.12" width="1" height="6.77" fill="#330707"/>
<rect x="157.4" y="121.12" width="1" height="6.77" fill="#69160e"/>
<rect x="158.4" y="121.12" width="1" height="6.77" fill="#64140d"/>
<rect x="159.4" y="121.12" width="1" height="6.77" fill="#470b0a"/>
<rect x="160.4" y="121.12" width="1" height="6.77" fill="#69160e"/>
<rect x="161.4" y="121.12" width="1" height="6.77" fill="#64140d"/>
<rect x="162.4" y="121.12" width="1" height="6.77" fill="#3e0909"/>
<rect x="163.4" y="121.12" width="1" height="6.77" fill="#480b0a"/>
<rect x="164.4" y="121.12" width="1" height="6.77" fill="#1f0405"/>
<rect x="165.4" y="121.12" width="1" height="6.77" fill="#2e0606"/>
<rect x="166.4" y="121.12" width="1" height="6.77" fill="#3d0909"/>
<rect x="167.4" y="121.12" width="1" height="6.77" fill="#240506"/>
<rect x="168.4" y="121.12" width="1" height="6.77" fill="#480b0a"/>
<rect x="169.4" y="121.12" width="1" height="6.77" fill="#2f0606"/>
<rect x="170.4" y="121.12" width="1" height="6.77" fill="#e4801c"/>
<rect x="171.4" y="121.12" width="1" height="6.77" fill="#2f0707"/>
<rect x="172.4" y="121.12" width="1" height="6.77" fill="#170305"/>
<rect x="173.4" y="121.12" width="1" height="6.77" fill="#e4801c"/>
<rect x="174.4" y="121.12" width="1" height="6.77" fill="#270506"/>
<rect x="175.4" y="121.12" width="1" height="6.77" fill="#360808"/>
<rect x="176.4" y="121.12" width="1" height="6.77" fill="#3a0808"/>
<rect x="177.4" y="121.12" width="1" height="6.77" fill="#1e0305"/>
<rect x="178.4" y="121.12" width="1" height="6.77" fill="#8c280e"/>
<rect x="179.4" y="121.12" width="1" height="6.77" fill="#290506"/>
<rect x="180.4" y="121.12" width="1" height="6.77" fill="#270506"/>
<rect x="181.4" y="121.12" width="1" height="6.77" fill="#1f0405"/>
<rect x="182.4" y="121.12" width="1" height="6.77" fill="#4e0d0b"/>
<rect x="183.4" y="121.12" width="1" height="6.77" fill="#3d0909"/>
<rect x="184.4" y="121.12" width="2" height="6.77" fill="#f8d42c"/>
<rect x="186.4" y="121.12" width="1" height="6.77" fill="#540e0c"/>
<rect x="187.4" y="121.12" width="1" height="6.77" fill="#470b0a"/>
<rect x="188.4" y="121.12" width="1" height="6.77" fill="#1c0305"/>
<rect x="189.4" y="121.12" width="1" height="6.77" fill="#330707"/>
<rect x="190.4" y="121.12" width="1" height="6.77" fill="#64140d"/>
<rect x="191.4" y="121.12" width="1" height="6.77" fill="#4c0c0b"/>
<rect x="192.4" y="121.12" width="1" height="6.77" fill="#390808"/>
<rect x="193.4" y="121.12" width="1" height="6.77" fill="#150204"/>
<rect x="194.4" y="121.12" width="1" height="6.77" fill="#410a09"/>
<rect x="195.4" y="121.12" width="2" height="6.77" fill="#8c280e"/>
<rect x="197.4" y="121.12" width="1" height="6.77" fill="#2a0606"/>
<rect x="198.4" y="121.12" width="1" height="6.77" fill="#1d0305"/>
<rect x="199.4" y="121.12" width="1" height="6.77" fill="#410a09"/>
<rect x="200.4" y="121.12" width="1" height="6.77" fill="#3c0909"/>
<rect x="201.4" y="121.12" width="1" height="6.77" fill="#1a0305"/>
<rect x="202.4" y="121.12" width="1" height="6.77" fill="#fce544"/>
<rect x="203.4" y="121.12" width="1" height="6.77" fill="#feed65"/>
<rect x="204.4" y="121.12" width="1" height="6.77" fill="#fff074"/>
<rect x="205.4" y="121.12" width="1" height="6.77" fill="#e27b1b"/>
<rect x="206.4" y="121.12" width="1" height="6.77" fill="#320707"/>
<rect x="207.4" y="121.12" width="2" height="6.77" fill="#6e180e"/>
<rect x="209.4" y="121.12" width="1" height="6.77" fill="#240506"/>
<rect x="210.4" y="121.12" width="1" height="6.77" fill="#370808"/>
<rect x="211.4" y="121.12" width="1" height="6.77" fill="#340707"/>
<rect x="212.4" y="121.12" width="1" height="6.77" fill="#5a100c"/>
<rect x="213.4" y="121.12" width="1" height="6.77" fill="#190305"/>
<rect x="214.4" y="121.12" width="1" height="6.77" fill="#420a0a"/>
<rect x="215.4" y="121.12" width="1" height="6.77" fill="#270506"/>
<rect x="216.4" y="121.12" width="1" height="6.77" fill="#3d0909"/>
<rect x="217.4" y="121.12" width="1" height="6.77" fill="#190305"/>
<rect x="218.4" y="121.12" width="1" height="6.77" fill="#260506"/>
<rect x="219.4" y="121.12" width="1" height="6.77" fill="#ab3a10"/>
<rect x="220.4" y="121.12" width="1" height="6.77" fill="#180305"/>
<rect x="221.4" y="121.12" width="1" height="6.77" fill="#3e0909"/>
<rect x="222.4" y="121.12" width="1" height="6.77" fill="#59100c"/>
<rect x="223.4" y="121.12" width="1" height="6.77" fill="#390808"/>
<rect x="224.4" y="121.12" width="1" height="6.77" fill="#200405"/>
<rect x="225.4" y="121.12" width="1" height="6.77" fill="#440a0a"/>
<rect x="226.4" y="121.12" width="1" height="6.77" fill="#2f0707"/>
<rect x="227.4" y="121.12" width="1" height="6.77" fill="#440a0a"/>
<rect x="228.4" y="121.12" width="1" height="6.77" fill="#260506"/>
<rect x="229.4" y="121.12" width="1" height="6.77" fill="#3d0909"/>
<rect x="230.4" y="121.12" width="1" height="6.77" fill="#430a0a"/>
<rect x="231.4" y="121.12" width="1" height="6.77" fill="#210405"/>
<rect x="232.4" y="121.12" width="1" height="6.77" fill="#240405"/>
<rect x="233.4" y="121.12" width="1" height="6.77" fill="#190305"/>
<rect x="234.4" y="121.12" width="1" height="6.77" fill="#4c0c0b"/>
<rect x="235.4" y="121.12" width="1" height="6.77" fill="#260506"/>
<rect x="236.4" y="121.12" width="1" height="6.77" fill="#130204"/>
<rect x="237.4" y="121.12" width="1" height="6.77" fill="#210405"/>
<rect x="238.4" y="121.12" width="1" height="6.77" fill="#2b0606"/>
<rect x="239.4" y="121.12" width="1" height="6.77" fill="#340707"/>
<rect x="240.4" y="121.12" width="1" height="6.77" fill="#470b0a"/>
<rect x="241.4" y="121.12" width="1" height="6.77" fill="#250506"/>
<rect x="242.4" y="121.12" width="1" height="6.77" fill="#140204"/>
<rect x="243.4" y="121.12" width="1" height="6.77" fill="#320707"/>
<rect x="244.4" y="121.12" width="1" height="6.77" fill="#290606"/>
<rect x="245.4" y="121.12" width="1" height="6.77" fill="#320707"/>
<rect x="246.4" y="121.12" width="1" height="6.77" fill="#300707"/>
<rect x="247.4" y="121.12" width="1" height="6.77" fill="#3a0808"/>
<rect x="248.4" y="121.12" width="1" height="6.77" fill="#3d0909"/>
<rect x="249.4" y="121.12" width="1" height="6.77" fill="#1d0305"/>
<rect x="250.4" y="121.12" width="1" height="6.77" fill="#7a1e0e"/>
<rect x="251.4" y="121.12" width="1" height="6.77" fill="#9c320f"/>
<rect x="252.4" y="121.12" width="1" height="6.77" fill="#7a1e0e"/>
<rect x="253.4" y="121.12" width="1" height="6.77" fill="#540e0c"/>
<rect x="254.4" y="121.12" width="1" height="6.77" fill="#7a1e0e"/>
<rect x="255.4" y="121.12" width="1" height="6.77" fill="#120204"/>
<rect x="256.4" y="121.12" width="1" height="6.77" fill="#3f0909"/>
<rect x="257.4" y="121.12" width="1" height="6.77" fill="#1e0305"/>
<rect x="258.4" y="121.12" width="1" height="6.77" fill="#2f0606"/>
<rect x="259.4" y="121.12" width="1" height="6.77" fill="#180305"/>
<rect x="260.4" y="121.12" width="1" height="6.77" fill="#2b0606"/>
<rect x="261.4" y="121.12" width="1" height="6.77" fill="#270506"/>
<rect x="262.4" y="121.12" width="1" height="6.77" fill="#310707"/>
<rect x="263.4" y="121.12" width="1" height="6.77" fill="#1e0305"/>
<rect x="264.4" y="121.12" width="1" height="6.77" fill="#480b0a"/>
<rect x="265.4" y="121.12" width="1" height="6.77" fill="#100204"/>
<rect x="266.4" y="121.12" width="1" height="6.77" fill="#6c170e"/>
<rect x="267.4" y="121.12" width="1" height="6.77" fill="#180305"/>
<rect x="268.4" y="121.12" width="1" height="6.77" fill="#2f0707"/>
<rect x="269.4" y="121.12" width="1" height="6.77" fill="#480b0a"/>
<rect x="270.4" y="121.12" width="3" height="6.77" fill="#eea024"/>
<rect x="273.4" y="121.12" width="1" height="6.77" fill="#240506"/>
<rect x="274.4" y="121.12" width="1" height="6.77" fill="#1c0305"/>
<rect x="275.4" y="121.12" width="1" height="6.77" fill="#330707"/>
<rect x="276.4" y="121.12" width="1" height="6.77" fill="#530e0c"/>
<rect x="277.4" y="121.12" width="1" height="6.77" fill="#240405"/>
<rect x="278.4" y="121.12" width="1" height="6.77" fill="#200405"/>
<rect x="279.4" y="121.12" width="1" height="6.77" fill="#470b0a"/>
<rect x="280.4" y="121.12" width="2" height="6.77" fill="#3a0808"/>
<rect x="282.4" y="121.12" width="1" height="6.77" fill="#470b0a"/>
<rect x="283.4" y="121.12" width="1" height="6.77" fill="#540e0c"/>
<rect x="284.4" y="121.12" width="1" height="6.77" fill="#3a0808"/>
<rect x="285.4" y="121.12" width="1" height="6.77" fill="#59100c"/>
<rect x="286.4" y="121.12" width="1" height="6.77" fill="#3a0808"/>
<rect x="287.4" y="121.12" width="1" height="6.77" fill="#390808"/>
<rect x="288.4" y="121.12" width="1" height="6.77" fill="#230405"/>
<rect x="289.4" y="121.12" width="1" height="6.77" fill="#270506"/>
<rect x="290.4" y="121.12" width="1" height="6.77" fill="#310707"/>
<rect x="73.4" y="127.89" width="1" height="6.77" fill="#060002"/>
<rect x="74.4" y="127.89" width="1" height="6.77" fill="#070103"/>
<rect x="75.4" y="127.89" width="1" height="6.77" fill="#060002"/>
<rect x="76.4" y="127.89" width="1" height="6.77" fill="#110204"/>
<rect x="77.4" y="127.89" width="1" height="6.77" fill="#060002"/>
<rect x="78.4" y="127.89" width="1" height="6.77" fill="#120204"/>
<rect x="79.4" y="127.89" width="1" height="6.77" fill="#060002"/>
<rect x="80.4" y="127.89" width="1" height="6.77" fill="#050002"/>
<rect x="81.4" y="127.89" width="1" height="6.77" fill="#0f0204"/>
<rect x="82.4" y="127.89" width="1" height="6.77" fill="#0d0204"/>
<rect x="83.4" y="127.89" width="1" height="6.77" fill="#070002"/>
<rect x="84.4" y="127.89" width="1" height="6.77" fill="#080103"/>
<rect x="85.4" y="127.89" width="1" height="6.77" fill="#180305"/>
<rect x="86.4" y="127.89" width="1" height="6.77" fill="#0e0204"/>
<rect x="87.4" y="127.89" width="1" height="6.77" fill="#0b0103"/>
<rect x="88.4" y="127.89" width="1" height="6.77" fill="#070002"/>
<rect x="89.4" y="127.89" width="1" height="6.77" fill="#120204"/>
<rect x="90.4" y="127.89" width="1" height="6.77" fill="#060002"/>
<rect x="91.4" y="127.89" width="1" height="6.77" fill="#090103"/>
<rect x="92.4" y="127.89" width="1" height="6.77" fill="#0a0103"/>
<rect x="93.4" y="127.89" width="1" height="6.77" fill="#040002"/>
<rect x="94.4" y="127.89" width="2" height="6.77" fill="#110204"/>
<rect x="96.4" y="127.89" width="1" height="6.77" fill="#0d0204"/>
<rect x="97.4" y="127.89" width="1" height="6.77" fill="#0a0103"/>
<rect x="98.4" y="127.89" width="1" height="6.77" fill="#110204"/>
<rect x="99.4" y="127.89" width="1" height="6.77" fill="#0c0103"/>
<rect x="100.4" y="127.89" width="2" height="6.77" fill="#040002"/>
<rect x="102.4" y="127.89" width="1" height="6.77" fill="#0e0204"/>
<rect x="103.4" y="127.89" width="1" height="6.77" fill="#200405"/>
<rect x="104.4" y="127.89" width="1" height="6.77" fill="#0b0103"/>
<rect x="105.4" y="127.89" width="1" height="6.77" fill="#0e0204"/>
<rect x="106.4" y="127.89" width="1" height="6.77" fill="#0d0204"/>
<rect x="107.4" y="127.89" width="1" height="6.77" fill="#110204"/>
<rect x="108.4" y="127.89" width="1" height="6.77" fill="#120204"/>
<rect x="109.4" y="127.89" width="1" height="6.77" fill="#090103"/>
<rect x="110.4" y="127.89" width="1" height="6.77" fill="#070002"/>
<rect x="111.4" y="127.89" width="1" height="6.77" fill="#0e0204"/>
<rect x="112.4" y="127.89" width="1" height="6.77" fill="#0b0103"/>
<rect x="113.4" y="127.89" width="1" height="6.77" fill="#120204"/>
<rect x="114.4" y="127.89" width="1" height="6.77" fill="#110204"/>
<rect x="115.4" y="127.89" width="1" height="6.77" fill="#120204"/>
<rect x="116.4" y="127.89" width="1" height="6.77" fill="#0e0204"/>
<rect x="117.4" y="127.89" width="1" height="6.77" fill="#040002"/>
<rect x="118.4" y="127.89" width="1" height="6.77" fill="#090103"/>
<rect x="119.4" y="127.89" width="1" height="6.77" fill="#0c0103"/>
<rect x="120.4" y="127.89" width="1" height="6.77" fill="#090103"/>
<rect x="121.4" y="127.89" width="1" height="6.77" fill="#0c0103"/>
<rect x="122.4" y="127.89" width="1" height="6.77" fill="#100204"/>
<rect x="123.4" y="127.89" width="1" height="6.77" fill="#0b0103"/>
<rect x="124.4" y="127.89" width="2" height="6.77" fill="#050002"/>
<rect x="126.4" y="127.89" width="1" height="6.77" fill="#080103"/>
<rect x="127.4" y="127.89" width="1" height="6.77" fill="#270506"/>
<rect x="128.4" y="127.89" width="1" height="6.77" fill="#060002"/>
<rect x="129.4" y="127.89" width="1" height="6.77" fill="#110204"/>
<rect x="130.4" y="127.89" width="1" height="6.77" fill="#0a0103"/>
<rect x="131.4" y="127.89" width="1" height="6.77" fill="#100204"/>
<rect x="132.4" y="127.89" width="1" height="6.77" fill="#0a0103"/>
<rect x="133.4" y="127.89" width="1" height="6.77" fill="#050002"/>
<rect x="134.4" y="127.89" width="1" height="6.77" fill="#190305"/>
<rect x="135.4" y="127.89" width="1" height="6.77" fill="#0f0204"/>
<rect x="136.4" y="127.89" width="1" height="6.77" fill="#0b0103"/>
<rect x="137.4" y="127.89" width="1" height="6.77" fill="#0c0103"/>
<rect x="138.4" y="127.89" width="1" height="6.77" fill="#0e0204"/>
<rect x="139.4" y="127.89" width="1" height="6.77" fill="#080103"/>
<rect x="140.4" y="127.89" width="1" height="6.77" fill="#090103"/>
<rect x="141.4" y="127.89" width="1" height="6.77" fill="#0e0204"/>
<rect x="142.4" y="127.89" width="1" height="6.77" fill="#050002"/>
<rect x="143.4" y="127.89" width="1" height="6.77" fill="#100204"/>
<rect x="144.4" y="127.89" width="1" height="6.77" fill="#0d0103"/>
<rect x="145.4" y="127.89" width="1" height="6.77" fill="#0f0204"/>
<rect x="146.4" y="127.89" width="1" height="6.77" fill="#090103"/>
<rect x="147.4" y="127.89" width="1" height="6.77" fill="#100204"/>
<rect x="148.4" y="127.89" width="1" height="6.77" fill="#0b0103"/>
<rect x="149.4" y="127.89" width="1" height="6.77" fill="#040002"/>
<rect x="150.4" y="127.89" width="1" height="6.77" fill="#0f0204"/>
<rect x="151.4" y="127.89" width="1" height="6.77" fill="#070103"/>
<rect x="152.4" y="127.89" width="1" height="6.77" fill="#110204"/>
<rect x="153.4" y="127.89" width="1" height="6.77" fill="#080103"/>
<rect x="154.4" y="127.89" width="1" height="6.77" fill="#0d0103"/>
<rect x="155.4" y="127.89" width="2" height="6.77" fill="#0d0204"/>
<rect x="157.4" y="127.89" width="1" height="6.77" fill="#080103"/>
<rect x="158.4" y="127.89" width="1" height="6.77" fill="#110204"/>
<rect x="159.4" y="127.89" width="1" height="6.77" fill="#100204"/>
<rect x="160.4" y="127.89" width="1" height="6.77" fill="#160305"/>
<rect x="161.4" y="127.89" width="1" height="6.77" fill="#120204"/>
<rect x="162.4" y="127.89" width="1" height="6.77" fill="#280506"/>
<rect x="163.4" y="127.89" width="1" height="6.77" fill="#0d0103"/>
<rect x="164.4" y="127.89" width="1" height="6.77" fill="#070103"/>
<rect x="165.4" y="127.89" width="1" height="6.77" fill="#0b0103"/>
<rect x="166.4" y="127.89" width="1" height="6.77" fill="#050002"/>
<rect x="167.4" y="127.89" width="1" height="6.77" fill="#0d0204"/>
<rect x="168.4" y="127.89" width="1" height="6.77" fill="#0c0103"/>
<rect x="169.4" y="127.89" width="1" height="6.77" fill="#080103"/>
<rect x="170.4" y="127.89" width="1" height="6.77" fill="#060002"/>
<rect x="171.4" y="127.89" width="3" height="6.77" fill="#110204"/>
<rect x="174.4" y="127.89" width="1" height="6.77" fill="#050002"/>
<rect x="175.4" y="127.89" width="1" height="6.77" fill="#120204"/>
<rect x="176.4" y="127.89" width="2" height="6.77" fill="#090103"/>
<rect x="178.4" y="127.89" width="1" height="6.77" fill="#120204"/>
<rect x="179.4" y="127.89" width="1" height="6.77" fill="#080103"/>
<rect x="180.4" y="127.89" width="1" height="6.77" fill="#0c0103"/>
<rect x="181.4" y="127.89" width="1" height="6.77" fill="#0f0204"/>
<rect x="182.4" y="127.89" width="2" height="6.77" fill="#0b0103"/>
<rect x="184.4" y="127.89" width="1" height="6.77" fill="#0f0204"/>
<rect x="185.4" y="127.89" width="1" height="6.77" fill="#0e0204"/>
<rect x="186.4" y="127.89" width="1" height="6.77" fill="#110204"/>
<rect x="187.4" y="127.89" width="1" height="6.77" fill="#120204"/>
<rect x="188.4" y="127.89" width="2" height="6.77" fill="#070002"/>
<rect x="190.4" y="127.89" width="1" height="6.77" fill="#0e0204"/>
<rect x="191.4" y="127.89" width="1" height="6.77" fill="#0c0103"/>
<rect x="192.4" y="127.89" width="1" height="6.77" fill="#1c0305"/>
<rect x="193.4" y="127.89" width="1" height="6.77" fill="#0e0204"/>
<rect x="194.4" y="127.89" width="1" height="6.77" fill="#070103"/>
<rect x="195.4" y="127.89" width="1" height="6.77" fill="#080103"/>
<rect x="196.4" y="127.89" width="1" height="6.77" fill="#070002"/>
<rect x="197.4" y="127.89" width="1" height="6.77" fill="#0e0204"/>
<rect x="198.4" y="127.89" width="1" height="6.77" fill="#120204"/>
<rect x="199.4" y="127.89" width="1" height="6.77" fill="#080103"/>
<rect x="200.4" y="127.89" width="1" height="6.77" fill="#0e0204"/>
<rect x="201.4" y="127.89" width="1" height="6.77" fill="#090103"/>
<rect x="202.4" y="127.89" width="2" height="6.77" fill="#0c0103"/>
<rect x="204.4" y="127.89" width="1" height="6.77" fill="#110204"/>
<rect x="205.4" y="127.89" width="1" height="6.77" fill="#070103"/>
<rect x="206.4" y="127.89" width="1" height="6.77" fill="#0c0103"/>
<rect x="207.4" y="127.89" width="1" height="6.77" fill="#120204"/>
<rect x="208.4" y="127.89" width="1" height="6.77" fill="#0a0103"/>
<rect x="209.4" y="127.89" width="1" height="6.77" fill="#040002"/>
<rect x="210.4" y="127.89" width="1" height="6.77" fill="#0e0204"/>
<rect x="211.4" y="127.89" width="1" height="6.77" fill="#100204"/>
<rect x="212.4" y="127.89" width="1" height="6.77" fill="#0b0103"/>
<rect x="213.4" y="127.89" width="1" height="6.77" fill="#1d0305"/>
<rect x="214.4" y="127.89" width="1" height="6.77" fill="#050002"/>
<rect x="215.4" y="127.89" width="1" height="6.77" fill="#0c0103"/>
<rect x="216.4" y="127.89" width="1" height="6.77" fill="#090103"/>
<rect x="217.4" y="127.89" width="1" height="6.77" fill="#060002"/>
<rect x="218.4" y="127.89" width="1" height="6.77" fill="#090103"/>
<rect x="219.4" y="127.89" width="3" height="6.77" fill="#060002"/>
<rect x="222.4" y="127.89" width="1" height="6.77" fill="#0c0103"/>
<rect x="223.4" y="127.89" width="1" height="6.77" fill="#0b0103"/>
<rect x="224.4" y="127.89" width="1" height="6.77" fill="#0f0204"/>
<rect x="225.4" y="127.89" width="1" height="6.77" fill="#070103"/>
<rect x="226.4" y="127.89" width="1" height="6.77" fill="#330707"/>
<rect x="227.4" y="127.89" width="1" height="6.77" fill="#090103"/>
<rect x="228.4" y="127.89" width="1" height="6.77" fill="#100204"/>
<rect x="229.4" y="127.89" width="1" height="6.77" fill="#0a0103"/>
<rect x="230.4" y="127.89" width="1" height="6.77" fill="#050002"/>
<rect x="231.4" y="127.89" width="1" height="6.77" fill="#360808"/>
<rect x="232.4" y="127.89" width="1" height="6.77" fill="#250506"/>
<rect x="233.4" y="127.89" width="1" height="6.77" fill="#070002"/>
<rect x="234.4" y="127.89" width="1" height="6.77" fill="#0f0204"/>
<rect x="235.4" y="127.89" width="1" height="6.77" fill="#230405"/>
<rect x="236.4" y="127.89" width="1" height="6.77" fill="#050002"/>
<rect x="237.4" y="127.89" width="1" height="6.77" fill="#0a0103"/>
<rect x="238.4" y="127.89" width="1" height="6.77" fill="#060002"/>
<rect x="239.4" y="127.89" width="1" height="6.77" fill="#110204"/>
<rect x="240.4" y="127.89" width="1" height="6.77" fill="#0b0103"/>
<rect x="241.4" y="127.89" width="1" height="6.77" fill="#0c0103"/>
<rect x="242.4" y="127.89" width="1" height="6.77" fill="#120204"/>
<rect x="243.4" y="127.89" width="2" height="6.77" fill="#0f0204"/>
<rect x="245.4" y="127.89" width="1" height="6.77" fill="#190305"/>
<rect x="246.4" y="127.89" width="1" height="6.77" fill="#0f0204"/>
<rect x="247.4" y="127.89" width="1" height="6.77" fill="#0a0103"/>
<rect x="248.4" y="127.89" width="1" height="6.77" fill="#070103"/>
<rect x="249.4" y="127.89" width="2" height="6.77" fill="#0b0103"/>
<rect x="251.4" y="127.89" width="1" height="6.77" fill="#0e0204"/>
<rect x="252.4" y="127.89" width="1" height="6.77" fill="#0a0103"/>
<rect x="253.4" y="127.89" width="2" height="6.77" fill="#080103"/>
<rect x="255.4" y="127.89" width="1" height="6.77" fill="#1c0305"/>
<rect x="256.4" y="127.89" width="1" height="6.77" fill="#1e0305"/>
<rect x="257.4" y="127.89" width="1" height="6.77" fill="#050002"/>
<rect x="258.4" y="127.89" width="1" height="6.77" fill="#080103"/>
<rect x="259.4" y="127.89" width="1" height="6.77" fill="#0a0103"/>
<rect x="260.4" y="127.89" width="1" height="6.77" fill="#080103"/>
<rect x="261.4" y="127.89" width="1" height="6.77" fill="#110204"/>
<rect x="262.4" y="127.89" width="1" height="6.77" fill="#220405"/>
<rect x="263.4" y="127.89" width="1" height="6.77" fill="#110204"/>
<rect x="264.4" y="127.89" width="1" height="6.77" fill="#050002"/>
<rect x="265.4" y="127.89" width="1" height="6.77" fill="#1d0305"/>
<rect x="266.4" y="127.89" width="1" height="6.77" fill="#120204"/>
<rect x="267.4" y="127.89" width="1" height="6.77" fill="#0f0204"/>
<rect x="268.4" y="127.89" width="1" height="6.77" fill="#050002"/>
<rect x="269.4" y="127.89" width="1" height="6.77" fill="#070103"/>
<rect x="270.4" y="127.89" width="1" height="6.77" fill="#120204"/>
<rect x="271.4" y="127.89" width="1" height="6.77" fill="#060002"/>
<rect x="272.4" y="127.89" width="1" height="6.77" fill="#0a0103"/>
<rect x="273.4" y="127.89" width="1" height="6.77" fill="#060002"/>
<rect x="274.4" y="127.89" width="1" height="6.77" fill="#070002"/>
<rect x="275.4" y="127.89" width="1" height="6.77" fill="#0c0103"/>
<rect x="276.4" y="127.89" width="1" height="6.77" fill="#070103"/>
<rect x="277.4" y="127.89" width="1" height="6.77" fill="#0d0204"/>
<rect x="278.4" y="127.89" width="1" height="6.77" fill="#060002"/>
<rect x="279.4" y="127.89" width="1" height="6.77" fill="#050002"/>
<rect x="280.4" y="127.89" width="1" height="6.77" fill="#060002"/>
<rect x="281.4" y="127.89" width="1" height="6.77" fill="#050002"/>
<rect x="282.4" y="127.89" width="1" height="6.77" fill="#0c0103"/>
<rect x="283.4" y="127.89" width="1" height="6.77" fill="#0f0204"/>
<rect x="284.4" y="127.89" width="1" height="6.77" fill="#110204"/>
<rect x="285.4" y="127.89" width="1" height="6.77" fill="#120204"/>
<rect x="286.4" y="127.89" width="1" height="6.77" fill="#100204"/>
<rect x="287.4" y="127.89" width="1" height="6.77" fill="#080103"/>
<rect x="288.4" y="127.89" width="1" height="6.77" fill="#0e0204"/>
<rect x="289.4" y="127.89" width="1" height="6.77" fill="#090103"/>
<rect x="290.4" y="127.89" width="1" height="6.77" fill="#120204"/>
<rect x="73.4" y="134.66" width="1" height="6.77" fill="#360808"/>
<rect x="74.4" y="134.66" width="1" height="6.77" fill="#160305"/>
<rect x="75.4" y="134.66" width="1" height="6.77" fill="#3a0808"/>
<rect x="76.4" y="134.66" width="1" height="6.77" fill="#220405"/>
<rect x="77.4" y="134.66" width="2" height="6.77" fill="#370808"/>
<rect x="79.4" y="134.66" width="1" height="6.77" fill="#190305"/>
<rect x="80.4" y="134.66" width="1" height="6.77" fill="#2d0606"/>
<rect x="81.4" y="134.66" width="1" height="6.77" fill="#070002"/>
<rect x="82.4" y="134.66" width="1" height="6.77" fill="#1f0405"/>
<rect x="83.4" y="134.66" width="1" height="6.77" fill="#150204"/>
<rect x="84.4" y="134.66" width="1" height="6.77" fill="#280506"/>
<rect x="85.4" y="134.66" width="1" height="6.77" fill="#1b0305"/>
<rect x="86.4" y="134.66" width="1" height="6.77" fill="#130204"/>
<rect x="87.4" y="134.66" width="1" height="6.77" fill="#110204"/>
<rect x="88.4" y="134.66" width="1" height="6.77" fill="#0c0103"/>
<rect x="89.4" y="134.66" width="1" height="6.77" fill="#1b0305"/>
<rect x="90.4" y="134.66" width="1" height="6.77" fill="#570f0c"/>
<rect x="91.4" y="134.66" width="1" height="6.77" fill="#090103"/>
<rect x="92.4" y="134.66" width="1" height="6.77" fill="#190305"/>
<rect x="93.4" y="134.66" width="1" height="6.77" fill="#1e0305"/>
<rect x="94.4" y="134.66" width="1" height="6.77" fill="#2c0606"/>
<rect x="95.4" y="134.66" width="1" height="6.77" fill="#1b0305"/>
<rect x="96.4" y="134.66" width="1" height="6.77" fill="#0d0103"/>
<rect x="97.4" y="134.66" width="2" height="6.77" fill="#540e0c"/>
<rect x="99.4" y="134.66" width="1" height="6.77" fill="#69160e"/>
<rect x="100.4" y="134.66" width="1" height="6.77" fill="#330707"/>
<rect x="101.4" y="134.66" width="1" height="6.77" fill="#190305"/>
<rect x="102.4" y="134.66" width="1" height="6.77" fill="#210405"/>
<rect x="103.4" y="134.66" width="1" height="6.77" fill="#270506"/>
<rect x="104.4" y="134.66" width="1" height="6.77" fill="#1e0305"/>
<rect x="105.4" y="134.66" width="1" height="6.77" fill="#2e0606"/>
<rect x="106.4" y="134.66" width="1" height="6.77" fill="#360808"/>
<rect x="107.4" y="134.66" width="1" height="6.77" fill="#1a0305"/>
<rect x="108.4" y="134.66" width="1" height="6.77" fill="#310707"/>
<rect x="109.4" y="134.66" width="1" height="6.77" fill="#2e0606"/>
<rect x="110.4" y="134.66" width="2" height="6.77" fill="#1b0305"/>
<rect x="112.4" y="134.66" width="1" height="6.77" fill="#160204"/>
<rect x="113.4" y="134.66" width="1" height="6.77" fill="#390808"/>
<rect x="114.4" y="134.66" width="1" height="6.77" fill="#220405"/>
<rect x="115.4" y="134.66" width="1" height="6.77" fill="#69160e"/>
<rect x="116.4" y="134.66" width="1" height="6.77" fill="#330707"/>
<rect x="117.4" y="134.66" width="1" height="6.77" fill="#470b0a"/>
<rect x="118.4" y="134.66" width="2" height="6.77" fill="#64140d"/>
<rect x="120.4" y="134.66" width="1" height="6.77" fill="#330707"/>
<rect x="121.4" y="134.66" width="1" height="6.77" fill="#1e0305"/>
<rect x="122.4" y="134.66" width="1" height="6.77" fill="#2f0707"/>
<rect x="123.4" y="134.66" width="1" height="6.77" fill="#290506"/>
<rect x="124.4" y="134.66" width="1" height="6.77" fill="#1d0305"/>
<rect x="125.4" y="134.66" width="1" height="6.77" fill="#140204"/>
<rect x="126.4" y="134.66" width="2" height="6.77" fill="#110204"/>
<rect x="128.4" y="134.66" width="1" height="6.77" fill="#100204"/>
<rect x="129.4" y="134.66" width="1" height="6.77" fill="#070103"/>
<rect x="130.4" y="134.66" width="1" height="6.77" fill="#4b0c0b"/>
<rect x="131.4" y="134.66" width="1" height="6.77" fill="#0b0103"/>
<rect x="132.4" y="134.66" width="1" height="6.77" fill="#220405"/>
<rect x="133.4" y="134.66" width="1" height="6.77" fill="#040002"/>
<rect x="134.4" y="134.66" width="1" height="6.77" fill="#240506"/>
<rect x="135.4" y="134.66" width="1" height="6.77" fill="#3b0909"/>
<rect x="136.4" y="134.66" width="3" height="6.77" fill="#1c0305"/>
<rect x="139.4" y="134.66" width="1" height="6.77" fill="#540e0c"/>
<rect x="140.4" y="134.66" width="1" height="6.77" fill="#69160e"/>
<rect x="141.4" y="134.66" width="1" height="6.77" fill="#1c0305"/>
<rect x="142.4" y="134.66" width="1" height="6.77" fill="#2a0606"/>
<rect x="143.4" y="134.66" width="1" height="6.77" fill="#0f0204"/>
<rect x="144.4" y="134.66" width="1" height="6.77" fill="#1d0305"/>
<rect x="145.4" y="134.66" width="1" height="6.77" fill="#280506"/>
<rect x="146.4" y="134.66" width="1" height="6.77" fill="#130204"/>
<rect x="147.4" y="134.66" width="1" height="6.77" fill="#120204"/>
<rect x="148.4" y="134.66" width="2" height="6.77" fill="#180305"/>
<rect x="150.4" y="134.66" width="1" height="6.77" fill="#220405"/>
<rect x="151.4" y="134.66" width="1" height="6.77" fill="#160305"/>
<rect x="152.4" y="134.66" width="1" height="6.77" fill="#2a0606"/>
<rect x="153.4" y="134.66" width="1" height="6.77" fill="#040002"/>
<rect x="154.4" y="134.66" width="1" height="6.77" fill="#330707"/>
<rect x="155.4" y="134.66" width="1" height="6.77" fill="#2a0606"/>
<rect x="156.4" y="134.66" width="1" height="6.77" fill="#330707"/>
<rect x="157.4" y="134.66" width="1" height="6.77" fill="#140204"/>
<rect x="158.4" y="134.66" width="1" height="6.77" fill="#230405"/>
<rect x="159.4" y="134.66" width="1" height="6.77" fill="#240506"/>
<rect x="160.4" y="134.66" width="1" height="6.77" fill="#260506"/>
<rect x="161.4" y="134.66" width="1" height="6.77" fill="#370808"/>
<rect x="162.4" y="134.66" width="1" height="6.77" fill="#170305"/>
<rect x="163.4" y="134.66" width="1" height="6.77" fill="#130204"/>
<rect x="164.4" y="134.66" width="1" height="6.77" fill="#1e0305"/>
<rect x="165.4" y="134.66" width="1" height="6.77" fill="#180305"/>
<rect x="166.4" y="134.66" width="1" height="6.77" fill="#120204"/>
<rect x="167.4" y="134.66" width="1" height="6.77" fill="#160204"/>
<rect x="168.4" y="134.66" width="1" height="6.77" fill="#170305"/>
<rect x="169.4" y="134.66" width="1" height="6.77" fill="#150204"/>
<rect x="170.4" y="134.66" width="1" height="6.77" fill="#1a0305"/>
<rect x="171.4" y="134.66" width="1" height="6.77" fill="#260506"/>
<rect x="172.4" y="134.66" width="1" height="6.77" fill="#270506"/>
<rect x="173.4" y="134.66" width="1" height="6.77" fill="#7a1e0e"/>
<rect x="174.4" y="134.66" width="1" height="6.77" fill="#c45013"/>
<rect x="175.4" y="134.66" width="1" height="6.77" fill="#9c320f"/>
<rect x="176.4" y="134.66" width="1" height="6.77" fill="#c04c12"/>
<rect x="177.4" y="134.66" width="1" height="6.77" fill="#3e0909"/>
<rect x="178.4" y="134.66" width="1" height="6.77" fill="#170305"/>
<rect x="179.4" y="134.66" width="1" height="6.77" fill="#190305"/>
<rect x="180.4" y="134.66" width="1" height="6.77" fill="#1a0305"/>
<rect x="181.4" y="134.66" width="1" height="6.77" fill="#1b0305"/>
<rect x="182.4" y="134.66" width="1" height="6.77" fill="#120204"/>
<rect x="183.4" y="134.66" width="1" height="6.77" fill="#5b110d"/>
<rect x="184.4" y="134.66" width="1" height="6.77" fill="#0e0204"/>
<rect x="185.4" y="134.66" width="1" height="6.77" fill="#290506"/>
<rect x="186.4" y="134.66" width="1" height="6.77" fill="#0a0103"/>
<rect x="187.4" y="134.66" width="1" height="6.77" fill="#270506"/>
<rect x="188.4" y="134.66" width="1" height="6.77" fill="#6e180e"/>
<rect x="189.4" y="134.66" width="2" height="6.77" fill="#d86818"/>
<rect x="191.4" y="134.66" width="1" height="6.77" fill="#240405"/>
<rect x="192.4" y="134.66" width="1" height="6.77" fill="#280506"/>
<rect x="193.4" y="134.66" width="1" height="6.77" fill="#3e0909"/>
<rect x="194.4" y="134.66" width="2" height="6.77" fill="#330707"/>
<rect x="196.4" y="134.66" width="1" height="6.77" fill="#100204"/>
<rect x="197.4" y="134.66" width="1" height="6.77" fill="#4b0c0b"/>
<rect x="198.4" y="134.66" width="1" height="6.77" fill="#220405"/>
<rect x="199.4" y="134.66" width="1" height="6.77" fill="#3e0909"/>
<rect x="200.4" y="134.66" width="2" height="6.77" fill="#220405"/>
<rect x="202.4" y="134.66" width="2" height="6.77" fill="#330707"/>
<rect x="204.4" y="134.66" width="1" height="6.77" fill="#240405"/>
<rect x="205.4" y="134.66" width="1" height="6.77" fill="#130204"/>
<rect x="206.4" y="134.66" width="1" height="6.77" fill="#2d0606"/>
<rect x="207.4" y="134.66" width="1" height="6.77" fill="#240506"/>
<rect x="208.4" y="134.66" width="1" height="6.77" fill="#080103"/>
<rect x="209.4" y="134.66" width="1" height="6.77" fill="#040002"/>
<rect x="210.4" y="134.66" width="1" height="6.77" fill="#1d0305"/>
<rect x="211.4" y="134.66" width="1" height="6.77" fill="#1e0305"/>
<rect x="212.4" y="134.66" width="1" height="6.77" fill="#0e0204"/>
<rect x="213.4" y="134.66" width="1" height="6.77" fill="#270506"/>
<rect x="214.4" y="134.66" width="1" height="6.77" fill="#4b0c0b"/>
<rect x="215.4" y="134.66" width="1" height="6.77" fill="#040002"/>
<rect x="216.4" y="134.66" width="1" height="6.77" fill="#100204"/>
<rect x="217.4" y="134.66" width="2" height="6.77" fill="#260506"/>
<rect x="219.4" y="134.66" width="1" height="6.77" fill="#120204"/>
<rect x="220.4" y="134.66" width="1" height="6.77" fill="#3b0808"/>
<rect x="221.4" y="134.66" width="1" height="6.77" fill="#1f0305"/>
<rect x="222.4" y="134.66" width="1" height="6.77" fill="#150204"/>
<rect x="223.4" y="134.66" width="1" height="6.77" fill="#330707"/>
<rect x="224.4" y="134.66" width="1" height="6.77" fill="#100204"/>
<rect x="225.4" y="134.66" width="1" height="6.77" fill="#470b0a"/>
<rect x="226.4" y="134.66" width="1" height="6.77" fill="#380808"/>
<rect x="227.4" y="134.66" width="1" height="6.77" fill="#2a0606"/>
<rect x="228.4" y="134.66" width="1" height="6.77" fill="#0a0103"/>
<rect x="229.4" y="134.66" width="1" height="6.77" fill="#220405"/>
<rect x="230.4" y="134.66" width="1" height="6.77" fill="#250506"/>
<rect x="231.4" y="134.66" width="1" height="6.77" fill="#130204"/>
<rect x="232.4" y="134.66" width="1" height="6.77" fill="#110204"/>
<rect x="233.4" y="134.66" width="1" height="6.77" fill="#180305"/>
<rect x="234.4" y="134.66" width="1" height="6.77" fill="#040002"/>
<rect x="235.4" y="134.66" width="1" height="6.77" fill="#250506"/>
<rect x="236.4" y="134.66" width="1" height="6.77" fill="#350707"/>
<rect x="237.4" y="134.66" width="1" height="6.77" fill="#430a0a"/>
<rect x="238.4" y="134.66" width="1" height="6.77" fill="#190305"/>
<rect x="239.4" y="134.66" width="1" height="6.77" fill="#180305"/>
<rect x="240.4" y="134.66" width="1" height="6.77" fill="#170305"/>
<rect x="241.4" y="134.66" width="1" height="6.77" fill="#360808"/>
<rect x="242.4" y="134.66" width="1" height="6.77" fill="#1a0305"/>
<rect x="243.4" y="134.66" width="1" height="6.77" fill="#240405"/>
<rect x="244.4" y="134.66" width="1" height="6.77" fill="#2a0606"/>
<rect x="245.4" y="134.66" width="1" height="6.77" fill="#260506"/>
<rect x="246.4" y="134.66" width="1" height="6.77" fill="#1b0305"/>
<rect x="247.4" y="134.66" width="1" height="6.77" fill="#280506"/>
<rect x="248.4" y="134.66" width="1" height="6.77" fill="#060002"/>
<rect x="249.4" y="134.66" width="1" height="6.77" fill="#250506"/>
<rect x="250.4" y="134.66" width="1" height="6.77" fill="#170305"/>
<rect x="251.4" y="134.66" width="1" height="6.77" fill="#230405"/>
<rect x="252.4" y="134.66" width="1" height="6.77" fill="#3d0909"/>
<rect x="253.4" y="134.66" width="1" height="6.77" fill="#1e0305"/>
<rect x="254.4" y="134.66" width="1" height="6.77" fill="#290506"/>
<rect x="255.4" y="134.66" width="1" height="6.77" fill="#1d0305"/>
<rect x="256.4" y="134.66" width="1" height="6.77" fill="#040002"/>
<rect x="257.4" y="134.66" width="1" height="6.77" fill="#470b0a"/>
<rect x="258.4" y="134.66" width="2" height="6.77" fill="#540e0c"/>
<rect x="260.4" y="134.66" width="2" height="6.77" fill="#64140d"/>
<rect x="262.4" y="134.66" width="2" height="6.77" fill="#8c280e"/>
<rect x="264.4" y="134.66" width="1" height="6.77" fill="#1c0305"/>
<rect x="265.4" y="134.66" width="1" height="6.77" fill="#330707"/>
<rect x="266.4" y="134.66" width="1" height="6.77" fill="#170305"/>
<rect x="267.4" y="134.66" width="1" height="6.77" fill="#150204"/>
<rect x="268.4" y="134.66" width="1" height="6.77" fill="#1c0305"/>
<rect x="269.4" y="134.66" width="1" height="6.77" fill="#1a0305"/>
<rect x="270.4" y="134.66" width="1" height="6.77" fill="#1d0305"/>
<rect x="271.4" y="134.66" width="1" height="6.77" fill="#220405"/>
<rect x="272.4" y="134.66" width="1" height="6.77" fill="#260506"/>
<rect x="273.4" y="134.66" width="1" height="6.77" fill="#0b0103"/>
<rect x="274.4" y="134.66" width="1" height="6.77" fill="#260506"/>
<rect x="275.4" y="134.66" width="1" height="6.77" fill="#1b0305"/>
<rect x="276.4" y="134.66" width="1" height="6.77" fill="#1d0305"/>
<rect x="277.4" y="134.66" width="1" height="6.77" fill="#190305"/>
<rect x="278.4" y="134.66" width="1" height="6.77" fill="#0c0103"/>
<rect x="279.4" y="134.66" width="1" height="6.77" fill="#400909"/>
<rect x="280.4" y="134.66" width="1" height="6.77" fill="#1e0305"/>
<rect x="281.4" y="134.66" width="1" height="6.77" fill="#190305"/>
<rect x="282.4" y="134.66" width="1" height="6.77" fill="#150204"/>
<rect x="283.4" y="134.66" width="1" height="6.77" fill="#2b0606"/>
<rect x="284.4" y="134.66" width="1" height="6.77" fill="#1c0305"/>
<rect x="285.4" y="134.66" width="1" height="6.77" fill="#170305"/>
<rect x="286.4" y="134.66" width="1" height="6.77" fill="#0a0103"/>
<rect x="287.4" y="134.66" width="1" height="6.77" fill="#230405"/>
<rect x="288.4" y="134.66" width="1" height="6.77" fill="#180305"/>
<rect x="289.4" y="134.66" width="1" height="6.77" fill="#160305"/>
<rect x="290.4" y="134.66" width="1" height="6.77" fill="#1f0405"/>
<rect x="73.4" y="141.43" width="1" height="6.77" fill="#220405"/>
<rect x="74.4" y="141.43" width="1" height="6.77" fill="#300707"/>
<rect x="75.4" y="141.43" width="1" height="6.77" fill="#d86818"/>
<rect x="76.4" y="141.43" width="1" height="6.77" fill="#1a0305"/>
<rect x="77.4" y="141.43" width="1" height="6.77" fill="#160305"/>
<rect x="78.4" y="141.43" width="1" height="6.77" fill="#140204"/>
<rect x="79.4" y="141.43" width="1" height="6.77" fill="#fce440"/>
<rect x="80.4" y="141.43" width="1" height="6.77" fill="#2b0606"/>
<rect x="81.4" y="141.43" width="1" height="6.77" fill="#210405"/>
<rect x="82.4" y="141.43" width="1" height="6.77" fill="#250506"/>
<rect x="83.4" y="141.43" width="2" height="6.77" fill="#1e0305"/>
<rect x="85.4" y="141.43" width="1" height="6.77" fill="#100204"/>
<rect x="86.4" y="141.43" width="1" height="6.77" fill="#080103"/>
<rect x="87.4" y="141.43" width="1" height="6.77" fill="#1d0305"/>
<rect x="88.4" y="141.43" width="1" height="6.77" fill="#160204"/>
<rect x="89.4" y="141.43" width="1" height="6.77" fill="#040002"/>
<rect x="90.4" y="141.43" width="1" height="6.77" fill="#1b0305"/>
<rect x="91.4" y="141.43" width="1" height="6.77" fill="#410a09"/>
<rect x="92.4" y="141.43" width="1" height="6.77" fill="#170305"/>
<rect x="93.4" y="141.43" width="1" height="6.77" fill="#250506"/>
<rect x="94.4" y="141.43" width="1" height="6.77" fill="#0d0103"/>
<rect x="95.4" y="141.43" width="1" height="6.77" fill="#130204"/>
<rect x="96.4" y="141.43" width="1" height="6.77" fill="#500d0b"/>
<rect x="97.4" y="141.43" width="1" height="6.77" fill="#0f0204"/>
<rect x="98.4" y="141.43" width="1" height="6.77" fill="#4c0c0b"/>
<rect x="99.4" y="141.43" width="1" height="6.77" fill="#090103"/>
<rect x="100.4" y="141.43" width="1" height="6.77" fill="#170305"/>
<rect x="101.4" y="141.43" width="1" height="6.77" fill="#2a0606"/>
<rect x="102.4" y="141.43" width="1" height="6.77" fill="#280506"/>
<rect x="103.4" y="141.43" width="1" height="6.77" fill="#2f0606"/>
<rect x="104.4" y="141.43" width="1" height="6.77" fill="#060002"/>
<rect x="105.4" y="141.43" width="1" height="6.77" fill="#1a0305"/>
<rect x="106.4" y="141.43" width="1" height="6.77" fill="#1b0305"/>
<rect x="107.4" y="141.43" width="1" height="6.77" fill="#0a0103"/>
<rect x="108.4" y="141.43" width="1" height="6.77" fill="#160305"/>
<rect x="109.4" y="141.43" width="1" height="6.77" fill="#100204"/>
<rect x="110.4" y="141.43" width="1" height="6.77" fill="#1b0305"/>
<rect x="111.4" y="141.43" width="1" height="6.77" fill="#230405"/>
<rect x="112.4" y="141.43" width="1" height="6.77" fill="#120204"/>
<rect x="113.4" y="141.43" width="1" height="6.77" fill="#2e0606"/>
<rect x="114.4" y="141.43" width="1" height="6.77" fill="#140204"/>
<rect x="115.4" y="141.43" width="1" height="6.77" fill="#1d0305"/>
<rect x="116.4" y="141.43" width="1" height="6.77" fill="#2f0707"/>
<rect x="117.4" y="141.43" width="1" height="6.77" fill="#300707"/>
<rect x="118.4" y="141.43" width="1" height="6.77" fill="#090103"/>
<rect x="119.4" y="141.43" width="1" height="6.77" fill="#540e0c"/>
<rect x="120.4" y="141.43" width="1" height="6.77" fill="#340707"/>
<rect x="121.4" y="141.43" width="1" height="6.77" fill="#0f0204"/>
<rect x="122.4" y="141.43" width="1" height="6.77" fill="#310707"/>
<rect x="123.4" y="141.43" width="1" height="6.77" fill="#280506"/>
<rect x="124.4" y="141.43" width="1" height="6.77" fill="#340707"/>
<rect x="125.4" y="141.43" width="1" height="6.77" fill="#260506"/>
<rect x="126.4" y="141.43" width="1" height="6.77" fill="#340707"/>
<rect x="127.4" y="141.43" width="1" height="6.77" fill="#420a0a"/>
<rect x="128.4" y="141.43" width="1" height="6.77" fill="#080103"/>
<rect x="129.4" y="141.43" width="1" height="6.77" fill="#250506"/>
<rect x="130.4" y="141.43" width="1" height="6.77" fill="#360808"/>
<rect x="131.4" y="141.43" width="1" height="6.77" fill="#180305"/>
<rect x="132.4" y="141.43" width="1" height="6.77" fill="#360808"/>
<rect x="133.4" y="141.43" width="1" height="6.77" fill="#160305"/>
<rect x="134.4" y="141.43" width="1" height="6.77" fill="#220405"/>
<rect x="135.4" y="141.43" width="1" height="6.77" fill="#190305"/>
<rect x="136.4" y="141.43" width="1" height="6.77" fill="#1b0305"/>
<rect x="137.4" y="141.43" width="1" height="6.77" fill="#300707"/>
<rect x="138.4" y="141.43" width="1" height="6.77" fill="#260506"/>
<rect x="139.4" y="141.43" width="1" height="6.77" fill="#8c280e"/>
<rect x="140.4" y="141.43" width="2" height="6.77" fill="#040002"/>
<rect x="142.4" y="141.43" width="1" height="6.77" fill="#050002"/>
<rect x="143.4" y="141.43" width="1" height="6.77" fill="#140204"/>
<rect x="144.4" y="141.43" width="1" height="6.77" fill="#1a0305"/>
<rect x="145.4" y="141.43" width="1" height="6.77" fill="#0d0204"/>
<rect x="146.4" y="141.43" width="1" height="6.77" fill="#190305"/>
<rect x="147.4" y="141.43" width="1" height="6.77" fill="#2a0606"/>
<rect x="148.4" y="141.43" width="1" height="6.77" fill="#2e0606"/>
<rect x="149.4" y="141.43" width="1" height="6.77" fill="#2a0606"/>
<rect x="150.4" y="141.43" width="1" height="6.77" fill="#1a0305"/>
<rect x="151.4" y="141.43" width="1" height="6.77" fill="#460b0a"/>
<rect x="152.4" y="141.43" width="1" height="6.77" fill="#fff6a8"/>
<rect x="153.4" y="141.43" width="1" height="6.77" fill="#0b0103"/>
<rect x="154.4" y="141.43" width="1" height="6.77" fill="#250506"/>
<rect x="155.4" y="141.43" width="1" height="6.77" fill="#2d0606"/>
<rect x="156.4" y="141.43" width="1" height="6.77" fill="#170305"/>
<rect x="157.4" y="141.43" width="1" height="6.77" fill="#0f0204"/>
<rect x="158.4" y="141.43" width="1" height="6.77" fill="#200405"/>
<rect x="159.4" y="141.43" width="1" height="6.77" fill="#130204"/>
<rect x="160.4" y="141.43" width="1" height="6.77" fill="#200405"/>
<rect x="161.4" y="141.43" width="1" height="6.77" fill="#400909"/>
<rect x="162.4" y="141.43" width="1" height="6.77" fill="#230405"/>
<rect x="163.4" y="141.43" width="1" height="6.77" fill="#100204"/>
<rect x="164.4" y="141.43" width="1" height="6.77" fill="#e4801c"/>
<rect x="165.4" y="141.43" width="1" height="6.77" fill="#270506"/>
<rect x="166.4" y="141.43" width="1" height="6.77" fill="#2a0606"/>
<rect x="167.4" y="141.43" width="1" height="6.77" fill="#180305"/>
<rect x="168.4" y="141.43" width="1" height="6.77" fill="#250506"/>
<rect x="169.4" y="141.43" width="1" height="6.77" fill="#220405"/>
<rect x="170.4" y="141.43" width="1" height="6.77" fill="#090103"/>
<rect x="171.4" y="141.43" width="1" height="6.77" fill="#210405"/>
<rect x="172.4" y="141.43" width="1" height="6.77" fill="#510d0c"/>
<rect x="173.4" y="141.43" width="1" height="6.77" fill="#fce440"/>
<rect x="174.4" y="141.43" width="1" height="6.77" fill="#1c0305"/>
<rect x="175.4" y="141.43" width="1" height="6.77" fill="#290506"/>
<rect x="176.4" y="141.43" width="1" height="6.77" fill="#180305"/>
<rect x="177.4" y="141.43" width="1" height="6.77" fill="#b44010"/>
<rect x="178.4" y="141.43" width="1" height="6.77" fill="#1a0305"/>
<rect x="179.4" y="141.43" width="1" height="6.77" fill="#350707"/>
<rect x="180.4" y="141.43" width="1" height="6.77" fill="#120204"/>
<rect x="181.4" y="141.43" width="1" height="6.77" fill="#e4801c"/>
<rect x="182.4" y="141.43" width="1" height="6.77" fill="#080103"/>
<rect x="183.4" y="141.43" width="1" height="6.77" fill="#230405"/>
<rect x="184.4" y="141.43" width="1" height="6.77" fill="#360808"/>
<rect x="185.4" y="141.43" width="1" height="6.77" fill="#460b0a"/>
<rect x="186.4" y="141.43" width="1" height="6.77" fill="#0d0204"/>
<rect x="187.4" y="141.43" width="1" height="6.77" fill="#2e0606"/>
<rect x="188.4" y="141.43" width="1" height="6.77" fill="#550e0c"/>
<rect x="189.4" y="141.43" width="1" height="6.77" fill="#1b0305"/>
<rect x="190.4" y="141.43" width="2" height="6.77" fill="#f4bc28"/>
<rect x="192.4" y="141.43" width="1" height="6.77" fill="#200405"/>
<rect x="193.4" y="141.43" width="1" height="6.77" fill="#d86918"/>
<rect x="194.4" y="141.43" width="1" height="6.77" fill="#d66618"/>
<rect x="195.4" y="141.43" width="1" height="6.77" fill="#3b0909"/>
<rect x="196.4" y="141.43" width="1" height="6.77" fill="#d86818"/>
<rect x="197.4" y="141.43" width="1" height="6.77" fill="#cd5a15"/>
<rect x="198.4" y="141.43" width="1" height="6.77" fill="#450b0a"/>
<rect x="199.4" y="141.43" width="1" height="6.77" fill="#0f0204"/>
<rect x="200.4" y="141.43" width="1" height="6.77" fill="#4a0c0b"/>
<rect x="201.4" y="141.43" width="1" height="6.77" fill="#310707"/>
<rect x="202.4" y="141.43" width="1" height="6.77" fill="#180305"/>
<rect x="203.4" y="141.43" width="1" height="6.77" fill="#6e180e"/>
<rect x="204.4" y="141.43" width="1" height="6.77" fill="#2b0606"/>
<rect x="205.4" y="141.43" width="1" height="6.77" fill="#190305"/>
<rect x="206.4" y="141.43" width="1" height="6.77" fill="#1c0305"/>
<rect x="207.4" y="141.43" width="1" height="6.77" fill="#200405"/>
<rect x="208.4" y="141.43" width="1" height="6.77" fill="#040002"/>
<rect x="209.4" y="141.43" width="1" height="6.77" fill="#0c0103"/>
<rect x="210.4" y="141.43" width="1" height="6.77" fill="#4d0c0b"/>
<rect x="211.4" y="141.43" width="1" height="6.77" fill="#290506"/>
<rect x="212.4" y="141.43" width="1" height="6.77" fill="#150204"/>
<rect x="213.4" y="141.43" width="1" height="6.77" fill="#100204"/>
<rect x="214.4" y="141.43" width="1" height="6.77" fill="#0f0204"/>
<rect x="215.4" y="141.43" width="1" height="6.77" fill="#1f0405"/>
<rect x="216.4" y="141.43" width="1" height="6.77" fill="#3f0909"/>
<rect x="217.4" y="141.43" width="1" height="6.77" fill="#240405"/>
<rect x="218.4" y="141.43" width="1" height="6.77" fill="#0a0103"/>
<rect x="219.4" y="141.43" width="1" height="6.77" fill="#100204"/>
<rect x="220.4" y="141.43" width="1" height="6.77" fill="#0f0204"/>
<rect x="221.4" y="141.43" width="1" height="6.77" fill="#2a0606"/>
<rect x="222.4" y="141.43" width="1" height="6.77" fill="#430a0a"/>
<rect x="223.4" y="141.43" width="1" height="6.77" fill="#2d0606"/>
<rect x="224.4" y="141.43" width="1" height="6.77" fill="#330707"/>
<rect x="225.4" y="141.43" width="1" height="6.77" fill="#1d0305"/>
<rect x="226.4" y="141.43" width="1" height="6.77" fill="#470b0a"/>
<rect x="227.4" y="141.43" width="1" height="6.77" fill="#190305"/>
<rect x="228.4" y="141.43" width="1" height="6.77" fill="#040002"/>
<rect x="229.4" y="141.43" width="1" height="6.77" fill="#3c0909"/>
<rect x="230.4" y="141.43" width="1" height="6.77" fill="#190305"/>
<rect x="231.4" y="141.43" width="1" height="6.77" fill="#270506"/>
<rect x="232.4" y="141.43" width="1" height="6.77" fill="#050002"/>
<rect x="233.4" y="141.43" width="1" height="6.77" fill="#3f0909"/>
<rect x="234.4" y="141.43" width="1" height="6.77" fill="#070002"/>
<rect x="235.4" y="141.43" width="1" height="6.77" fill="#360808"/>
<rect x="236.4" y="141.43" width="1" height="6.77" fill="#040002"/>
<rect x="237.4" y="141.43" width="1" height="6.77" fill="#050002"/>
<rect x="238.4" y="141.43" width="1" height="6.77" fill="#180305"/>
<rect x="239.4" y="141.43" width="3" height="6.77" fill="#1c0305"/>
<rect x="242.4" y="141.43" width="1" height="6.77" fill="#100204"/>
<rect x="243.4" y="141.43" width="1" height="6.77" fill="#6a170e"/>
<rect x="244.4" y="141.43" width="1" height="6.77" fill="#150204"/>
<rect x="245.4" y="141.43" width="1" height="6.77" fill="#070002"/>
<rect x="246.4" y="141.43" width="1" height="6.77" fill="#230405"/>
<rect x="247.4" y="141.43" width="1" height="6.77" fill="#380808"/>
<rect x="248.4" y="141.43" width="1" height="6.77" fill="#360808"/>
<rect x="249.4" y="141.43" width="1" height="6.77" fill="#210405"/>
<rect x="250.4" y="141.43" width="1" height="6.77" fill="#190305"/>
<rect x="251.4" y="141.43" width="1" height="6.77" fill="#250506"/>
<rect x="252.4" y="141.43" width="1" height="6.77" fill="#170305"/>
<rect x="253.4" y="141.43" width="1" height="6.77" fill="#e4801c"/>
<rect x="254.4" y="141.43" width="1" height="6.77" fill="#040002"/>
<rect x="255.4" y="141.43" width="1" height="6.77" fill="#270506"/>
<rect x="256.4" y="141.43" width="1" height="6.77" fill="#360808"/>
<rect x="257.4" y="141.43" width="1" height="6.77" fill="#160204"/>
<rect x="258.4" y="141.43" width="1" height="6.77" fill="#0f0204"/>
<rect x="259.4" y="141.43" width="1" height="6.77" fill="#260506"/>
<rect x="260.4" y="141.43" width="1" height="6.77" fill="#330707"/>
<rect x="261.4" y="141.43" width="1" height="6.77" fill="#1b0305"/>
<rect x="262.4" y="141.43" width="1" height="6.77" fill="#190305"/>
<rect x="263.4" y="141.43" width="1" height="6.77" fill="#1b0305"/>
<rect x="264.4" y="141.43" width="1" height="6.77" fill="#1e0305"/>
<rect x="265.4" y="141.43" width="1" height="6.77" fill="#340707"/>
<rect x="266.4" y="141.43" width="1" height="6.77" fill="#120204"/>
<rect x="267.4" y="141.43" width="1" height="6.77" fill="#170305"/>
<rect x="268.4" y="141.43" width="1" height="6.77" fill="#1f0405"/>
<rect x="269.4" y="141.43" width="1" height="6.77" fill="#5d110d"/>
<rect x="270.4" y="141.43" width="1" height="6.77" fill="#480b0a"/>
<rect x="271.4" y="141.43" width="1" height="6.77" fill="#fff070"/>
<rect x="272.4" y="141.43" width="1" height="6.77" fill="#2a0606"/>
<rect x="273.4" y="141.43" width="2" height="6.77" fill="#170305"/>
<rect x="275.4" y="141.43" width="1" height="6.77" fill="#100204"/>
<rect x="276.4" y="141.43" width="1" height="6.77" fill="#150204"/>
<rect x="277.4" y="141.43" width="1" height="6.77" fill="#0b0103"/>
<rect x="278.4" y="141.43" width="1" height="6.77" fill="#370808"/>
<rect x="279.4" y="141.43" width="1" height="6.77" fill="#120204"/>
<rect x="280.4" y="141.43" width="1" height="6.77" fill="#230405"/>
<rect x="281.4" y="141.43" width="1" height="6.77" fill="#140204"/>
<rect x="282.4" y="141.43" width="1" height="6.77" fill="#200405"/>
<rect x="283.4" y="141.43" width="1" height="6.77" fill="#160204"/>
<rect x="284.4" y="141.43" width="2" height="6.77" fill="#540e0c"/>
<rect x="286.4" y="141.43" width="1" height="6.77" fill="#230405"/>
<rect x="287.4" y="141.43" width="1" height="6.77" fill="#140204"/>
<rect x="288.4" y="141.43" width="1" height="6.77" fill="#240405"/>
<rect x="289.4" y="141.43" width="1" height="6.77" fill="#3c0909"/>
<rect x="290.4" y="141.43" width="1" height="6.77" fill="#1b0305"/>
<rect x="73.4" y="148.19" width="1" height="6.77" fill="#190305"/>
<rect x="74.4" y="148.19" width="1" height="6.77" fill="#140204"/>
<rect x="75.4" y="148.19" width="1" height="6.77" fill="#160204"/>
<rect x="76.4" y="148.19" width="2" height="6.77" fill="#110204"/>
<rect x="78.4" y="148.19" width="1" height="6.77" fill="#100204"/>
<rect x="79.4" y="148.19" width="1" height="6.77" fill="#0f0204"/>
<rect x="80.4" y="148.19" width="1" height="6.77" fill="#160305"/>
<rect x="81.4" y="148.19" width="1" height="6.77" fill="#140204"/>
<rect x="82.4" y="148.19" width="1" height="6.77" fill="#0e0204"/>
<rect x="83.4" y="148.19" width="1" height="6.77" fill="#2f0707"/>
<rect x="84.4" y="148.19" width="1" height="6.77" fill="#170305"/>
<rect x="85.4" y="148.19" width="1" height="6.77" fill="#130204"/>
<rect x="86.4" y="148.19" width="1" height="6.77" fill="#180305"/>
<rect x="87.4" y="148.19" width="1" height="6.77" fill="#350808"/>
<rect x="88.4" y="148.19" width="1" height="6.77" fill="#160204"/>
<rect x="89.4" y="148.19" width="1" height="6.77" fill="#150204"/>
<rect x="90.4" y="148.19" width="1" height="6.77" fill="#140204"/>
<rect x="91.4" y="148.19" width="1" height="6.77" fill="#100204"/>
<rect x="92.4" y="148.19" width="1" height="6.77" fill="#110204"/>
<rect x="93.4" y="148.19" width="1" height="6.77" fill="#150204"/>
<rect x="94.4" y="148.19" width="1" height="6.77" fill="#110204"/>
<rect x="95.4" y="148.19" width="1" height="6.77" fill="#0e0204"/>
<rect x="96.4" y="148.19" width="1" height="6.77" fill="#0d0103"/>
<rect x="97.4" y="148.19" width="1" height="6.77" fill="#160305"/>
<rect x="98.4" y="148.19" width="1" height="6.77" fill="#150204"/>
<rect x="99.4" y="148.19" width="2" height="6.77" fill="#140204"/>
<rect x="101.4" y="148.19" width="1" height="6.77" fill="#190305"/>
<rect x="102.4" y="148.19" width="1" height="6.77" fill="#110204"/>
<rect x="103.4" y="148.19" width="1" height="6.77" fill="#2f0707"/>
<rect x="104.4" y="148.19" width="1" height="6.77" fill="#130204"/>
<rect x="105.4" y="148.19" width="1" height="6.77" fill="#2c0606"/>
<rect x="106.4" y="148.19" width="1" height="6.77" fill="#0c0103"/>
<rect x="107.4" y="148.19" width="1" height="6.77" fill="#120204"/>
<rect x="108.4" y="148.19" width="1" height="6.77" fill="#180305"/>
<rect x="109.4" y="148.19" width="1" height="6.77" fill="#0c0103"/>
<rect x="110.4" y="148.19" width="1" height="6.77" fill="#0e0204"/>
<rect x="111.4" y="148.19" width="1" height="6.77" fill="#0d0103"/>
<rect x="112.4" y="148.19" width="1" height="6.77" fill="#130204"/>
<rect x="113.4" y="148.19" width="2" height="6.77" fill="#100204"/>
<rect x="115.4" y="148.19" width="1" height="6.77" fill="#1f0405"/>
<rect x="116.4" y="148.19" width="1" height="6.77" fill="#180305"/>
<rect x="117.4" y="148.19" width="1" height="6.77" fill="#160204"/>
<rect x="118.4" y="148.19" width="1" height="6.77" fill="#190305"/>
<rect x="119.4" y="148.19" width="1" height="6.77" fill="#120204"/>
<rect x="120.4" y="148.19" width="1" height="6.77" fill="#160305"/>
<rect x="121.4" y="148.19" width="1" height="6.77" fill="#180305"/>
<rect x="122.4" y="148.19" width="1" height="6.77" fill="#0d0204"/>
<rect x="123.4" y="148.19" width="1" height="6.77" fill="#170305"/>
<rect x="124.4" y="148.19" width="1" height="6.77" fill="#0c0103"/>
<rect x="125.4" y="148.19" width="1" height="6.77" fill="#100204"/>
<rect x="126.4" y="148.19" width="1" height="6.77" fill="#0f0204"/>
<rect x="127.4" y="148.19" width="1" height="6.77" fill="#130204"/>
<rect x="128.4" y="148.19" width="1" height="6.77" fill="#140204"/>
<rect x="129.4" y="148.19" width="1" height="6.77" fill="#0b0103"/>
<rect x="130.4" y="148.19" width="2" height="6.77" fill="#110204"/>
<rect x="132.4" y="148.19" width="1" height="6.77" fill="#130204"/>
<rect x="133.4" y="148.19" width="1" height="6.77" fill="#0e0204"/>
<rect x="134.4" y="148.19" width="1" height="6.77" fill="#130204"/>
<rect x="135.4" y="148.19" width="1" height="6.77" fill="#100204"/>
<rect x="136.4" y="148.19" width="2" height="6.77" fill="#180305"/>
<rect x="138.4" y="148.19" width="1" height="6.77" fill="#160305"/>
<rect x="139.4" y="148.19" width="2" height="6.77" fill="#150204"/>
<rect x="141.4" y="148.19" width="1" height="6.77" fill="#110204"/>
<rect x="142.4" y="148.19" width="1" height="6.77" fill="#140204"/>
<rect x="143.4" y="148.19" width="1" height="6.77" fill="#190305"/>
<rect x="144.4" y="148.19" width="1" height="6.77" fill="#180305"/>
<rect x="145.4" y="148.19" width="1" height="6.77" fill="#160305"/>
<rect x="146.4" y="148.19" width="1" height="6.77" fill="#0f0204"/>
<rect x="147.4" y="148.19" width="1" height="6.77" fill="#0d0204"/>
<rect x="148.4" y="148.19" width="2" height="6.77" fill="#170305"/>
<rect x="150.4" y="148.19" width="1" height="6.77" fill="#120204"/>
<rect x="151.4" y="148.19" width="1" height="6.77" fill="#180305"/>
<rect x="152.4" y="148.19" width="1" height="6.77" fill="#240405"/>
<rect x="153.4" y="148.19" width="1" height="6.77" fill="#180305"/>
<rect x="154.4" y="148.19" width="1" height="6.77" fill="#0d0204"/>
<rect x="155.4" y="148.19" width="1" height="6.77" fill="#0f0204"/>
<rect x="156.4" y="148.19" width="1" height="6.77" fill="#140204"/>
<rect x="157.4" y="148.19" width="1" height="6.77" fill="#100204"/>
<rect x="158.4" y="148.19" width="1" height="6.77" fill="#110204"/>
<rect x="159.4" y="148.19" width="1" height="6.77" fill="#120204"/>
<rect x="160.4" y="148.19" width="1" height="6.77" fill="#160305"/>
<rect x="161.4" y="148.19" width="1" height="6.77" fill="#180305"/>
<rect x="162.4" y="148.19" width="1" height="6.77" fill="#150204"/>
<rect x="163.4" y="148.19" width="1" height="6.77" fill="#160204"/>
<rect x="164.4" y="148.19" width="1" height="6.77" fill="#0f0204"/>
<rect x="165.4" y="148.19" width="1" height="6.77" fill="#170305"/>
<rect x="166.4" y="148.19" width="1" height="6.77" fill="#100204"/>
<rect x="167.4" y="148.19" width="1" height="6.77" fill="#150204"/>
<rect x="168.4" y="148.19" width="1" height="6.77" fill="#130204"/>
<rect x="169.4" y="148.19" width="1" height="6.77" fill="#0d0204"/>
<rect x="170.4" y="148.19" width="1" height="6.77" fill="#140204"/>
<rect x="171.4" y="148.19" width="1" height="6.77" fill="#130204"/>
<rect x="172.4" y="148.19" width="1" height="6.77" fill="#0c0103"/>
<rect x="173.4" y="148.19" width="1" height="6.77" fill="#120204"/>
<rect x="174.4" y="148.19" width="1" height="6.77" fill="#130204"/>
<rect x="175.4" y="148.19" width="1" height="6.77" fill="#0c0103"/>
<rect x="176.4" y="148.19" width="1" height="6.77" fill="#140204"/>
<rect x="177.4" y="148.19" width="1" height="6.77" fill="#0e0204"/>
<rect x="178.4" y="148.19" width="1" height="6.77" fill="#180305"/>
<rect x="179.4" y="148.19" width="3" height="6.77" fill="#0f0204"/>
<rect x="182.4" y="148.19" width="1" height="6.77" fill="#130204"/>
<rect x="183.4" y="148.19" width="1" height="6.77" fill="#150204"/>
<rect x="184.4" y="148.19" width="1" height="6.77" fill="#180305"/>
<rect x="185.4" y="148.19" width="1" height="6.77" fill="#0c0103"/>
<rect x="186.4" y="148.19" width="1" height="6.77" fill="#0f0204"/>
<rect x="187.4" y="148.19" width="1" height="6.77" fill="#260506"/>
<rect x="188.4" y="148.19" width="1" height="6.77" fill="#0c0103"/>
<rect x="189.4" y="148.19" width="1" height="6.77" fill="#120204"/>
<rect x="190.4" y="148.19" width="1" height="6.77" fill="#180305"/>
<rect x="191.4" y="148.19" width="1" height="6.77" fill="#140204"/>
<rect x="192.4" y="148.19" width="1" height="6.77" fill="#0d0204"/>
<rect x="193.4" y="148.19" width="1" height="6.77" fill="#100204"/>
<rect x="194.4" y="148.19" width="1" height="6.77" fill="#270506"/>
<rect x="195.4" y="148.19" width="1" height="6.77" fill="#170305"/>
<rect x="196.4" y="148.19" width="1" height="6.77" fill="#300707"/>
<rect x="197.4" y="148.19" width="2" height="6.77" fill="#120204"/>
<rect x="199.4" y="148.19" width="1" height="6.77" fill="#150204"/>
<rect x="200.4" y="148.19" width="1" height="6.77" fill="#190305"/>
<rect x="201.4" y="148.19" width="1" height="6.77" fill="#160305"/>
<rect x="202.4" y="148.19" width="1" height="6.77" fill="#0d0204"/>
<rect x="203.4" y="148.19" width="1" height="6.77" fill="#130204"/>
<rect x="204.4" y="148.19" width="1" height="6.77" fill="#1f0405"/>
<rect x="205.4" y="148.19" width="1" height="6.77" fill="#130204"/>
<rect x="206.4" y="148.19" width="1" height="6.77" fill="#140204"/>
<rect x="207.4" y="148.19" width="1" height="6.77" fill="#120204"/>
<rect x="208.4" y="148.19" width="1" height="6.77" fill="#100204"/>
<rect x="209.4" y="148.19" width="1" height="6.77" fill="#170305"/>
<rect x="210.4" y="148.19" width="1" height="6.77" fill="#0e0204"/>
<rect x="211.4" y="148.19" width="1" height="6.77" fill="#100204"/>
<rect x="212.4" y="148.19" width="1" height="6.77" fill="#0e0204"/>
<rect x="213.4" y="148.19" width="1" height="6.77" fill="#0c0103"/>
<rect x="214.4" y="148.19" width="1" height="6.77" fill="#130204"/>
<rect x="215.4" y="148.19" width="1" height="6.77" fill="#0c0103"/>
<rect x="216.4" y="148.19" width="1" height="6.77" fill="#130204"/>
<rect x="217.4" y="148.19" width="1" height="6.77" fill="#190305"/>
<rect x="218.4" y="148.19" width="1" height="6.77" fill="#0f0204"/>
<rect x="219.4" y="148.19" width="1" height="6.77" fill="#110204"/>
<rect x="220.4" y="148.19" width="1" height="6.77" fill="#130204"/>
<rect x="221.4" y="148.19" width="1" height="6.77" fill="#120204"/>
<rect x="222.4" y="148.19" width="1" height="6.77" fill="#180305"/>
<rect x="223.4" y="148.19" width="1" height="6.77" fill="#0c0103"/>
<rect x="224.4" y="148.19" width="1" height="6.77" fill="#150204"/>
<rect x="225.4" y="148.19" width="1" height="6.77" fill="#120204"/>
<rect x="226.4" y="148.19" width="1" height="6.77" fill="#180305"/>
<rect x="227.4" y="148.19" width="1" height="6.77" fill="#150204"/>
<rect x="228.4" y="148.19" width="1" height="6.77" fill="#190305"/>
<rect x="229.4" y="148.19" width="1" height="6.77" fill="#140204"/>
<rect x="230.4" y="148.19" width="1" height="6.77" fill="#180305"/>
<rect x="231.4" y="148.19" width="1" height="6.77" fill="#0d0204"/>
<rect x="232.4" y="148.19" width="1" height="6.77" fill="#0e0204"/>
<rect x="233.4" y="148.19" width="1" height="6.77" fill="#110204"/>
<rect x="234.4" y="148.19" width="1" height="6.77" fill="#120204"/>
<rect x="235.4" y="148.19" width="1" height="6.77" fill="#0f0204"/>
<rect x="236.4" y="148.19" width="1" height="6.77" fill="#0d0103"/>
<rect x="237.4" y="148.19" width="1" height="6.77" fill="#100204"/>
<rect x="238.4" y="148.19" width="1" height="6.77" fill="#170305"/>
<rect x="239.4" y="148.19" width="1" height="6.77" fill="#0e0204"/>
<rect x="240.4" y="148.19" width="1" height="6.77" fill="#0d0204"/>
<rect x="241.4" y="148.19" width="1" height="6.77" fill="#0f0204"/>
<rect x="242.4" y="148.19" width="1" height="6.77" fill="#0c0103"/>
<rect x="243.4" y="148.19" width="1" height="6.77" fill="#0d0103"/>
<rect x="244.4" y="148.19" width="2" height="6.77" fill="#180305"/>
<rect x="246.4" y="148.19" width="1" height="6.77" fill="#110204"/>
<rect x="247.4" y="148.19" width="1" height="6.77" fill="#140204"/>
<rect x="248.4" y="148.19" width="1" height="6.77" fill="#150204"/>
<rect x="249.4" y="148.19" width="1" height="6.77" fill="#2b0606"/>
<rect x="250.4" y="148.19" width="1" height="6.77" fill="#0e0204"/>
<rect x="251.4" y="148.19" width="1" height="6.77" fill="#180305"/>
<rect x="252.4" y="148.19" width="1" height="6.77" fill="#120204"/>
<rect x="253.4" y="148.19" width="1" height="6.77" fill="#160204"/>
<rect x="254.4" y="148.19" width="1" height="6.77" fill="#130204"/>
<rect x="255.4" y="148.19" width="1" height="6.77" fill="#140204"/>
<rect x="256.4" y="148.19" width="1" height="6.77" fill="#290506"/>
<rect x="257.4" y="148.19" width="1" height="6.77" fill="#0b0103"/>
<rect x="258.4" y="148.19" width="1" height="6.77" fill="#250506"/>
<rect x="259.4" y="148.19" width="1" height="6.77" fill="#270506"/>
<rect x="260.4" y="148.19" width="1" height="6.77" fill="#130204"/>
<rect x="261.4" y="148.19" width="1" height="6.77" fill="#0d0204"/>
<rect x="262.4" y="148.19" width="1" height="6.77" fill="#0f0204"/>
<rect x="263.4" y="148.19" width="1" height="6.77" fill="#120204"/>
<rect x="264.4" y="148.19" width="1" height="6.77" fill="#0d0103"/>
<rect x="265.4" y="148.19" width="1" height="6.77" fill="#0e0204"/>
<rect x="266.4" y="148.19" width="1" height="6.77" fill="#0c0103"/>
<rect x="267.4" y="148.19" width="1" height="6.77" fill="#280506"/>
<rect x="268.4" y="148.19" width="2" height="6.77" fill="#180305"/>
<rect x="270.4" y="148.19" width="1" height="6.77" fill="#0f0204"/>
<rect x="271.4" y="148.19" width="1" height="6.77" fill="#120204"/>
<rect x="272.4" y="148.19" width="1" height="6.77" fill="#180305"/>
<rect x="273.4" y="148.19" width="1" height="6.77" fill="#120204"/>
<rect x="274.4" y="148.19" width="1" height="6.77" fill="#0e0204"/>
<rect x="275.4" y="148.19" width="1" height="6.77" fill="#170305"/>
<rect x="276.4" y="148.19" width="1" height="6.77" fill="#100204"/>
<rect x="277.4" y="148.19" width="1" height="6.77" fill="#150204"/>
<rect x="278.4" y="148.19" width="1" height="6.77" fill="#180305"/>
<rect x="279.4" y="148.19" width="1" height="6.77" fill="#110204"/>
<rect x="280.4" y="148.19" width="1" height="6.77" fill="#160204"/>
<rect x="281.4" y="148.19" width="1" height="6.77" fill="#140204"/>
<rect x="282.4" y="148.19" width="1" height="6.77" fill="#190305"/>
<rect x="283.4" y="148.19" width="1" height="6.77" fill="#0d0204"/>
<rect x="284.4" y="148.19" width="1" height="6.77" fill="#0b0103"/>
<rect x="285.4" y="148.19" width="1" height="6.77" fill="#120204"/>
<rect x="286.4" y="148.19" width="1" height="6.77" fill="#1a0305"/>
<rect x="287.4" y="148.19" width="1" height="6.77" fill="#120204"/>
<rect x="288.4" y="148.19" width="1" height="6.77" fill="#180305"/>
<rect x="289.4" y="148.19" width="1" height="6.77" fill="#140204"/>
<rect x="290.4" y="148.19" width="1" height="6.77" fill="#160204"/>
<rect x="73.4" y="154.96" width="1" height="6.77" fill="#570f0c"/>
<rect x="74.4" y="154.96" width="1" height="6.77" fill="#2c0606"/>
<rect x="75.4" y="154.96" width="1" height="6.77" fill="#86250e"/>
<rect x="76.4" y="154.96" width="1" height="6.77" fill="#2c0606"/>
<rect x="77.4" y="154.96" width="1" height="6.77" fill="#5e120d"/>
<rect x="78.4" y="154.96" width="1" height="6.77" fill="#470b0a"/>
<rect x="79.4" y="154.96" width="1" height="6.77" fill="#480b0a"/>
<rect x="80.4" y="154.96" width="1" height="6.77" fill="#260506"/>
<rect x="81.4" y="154.96" width="1" height="6.77" fill="#2e0606"/>
<rect x="82.4" y="154.96" width="1" height="6.77" fill="#5c110d"/>
<rect x="83.4" y="154.96" width="2" height="6.77" fill="#f8d42c"/>
<rect x="85.4" y="154.96" width="1" height="6.77" fill="#3c0909"/>
<rect x="86.4" y="154.96" width="1" height="6.77" fill="#3d0909"/>
<rect x="87.4" y="154.96" width="1" height="6.77" fill="#b44010"/>
<rect x="88.4" y="154.96" width="1" height="6.77" fill="#210405"/>
<rect x="89.4" y="154.96" width="1" height="6.77" fill="#3a0808"/>
<rect x="90.4" y="154.96" width="1" height="6.77" fill="#110204"/>
<rect x="91.4" y="154.96" width="1" height="6.77" fill="#330707"/>
<rect x="92.4" y="154.96" width="1" height="6.77" fill="#7b1f0e"/>
<rect x="93.4" y="154.96" width="1" height="6.77" fill="#280506"/>
<rect x="94.4" y="154.96" width="1" height="6.77" fill="#6e180e"/>
<rect x="95.4" y="154.96" width="1" height="6.77" fill="#210405"/>
<rect x="96.4" y="154.96" width="1" height="6.77" fill="#4e0d0b"/>
<rect x="97.4" y="154.96" width="1" height="6.77" fill="#370808"/>
<rect x="98.4" y="154.96" width="1" height="6.77" fill="#3f0909"/>
<rect x="99.4" y="154.96" width="1" height="6.77" fill="#320707"/>
<rect x="100.4" y="154.96" width="1" height="6.77" fill="#330707"/>
<rect x="101.4" y="154.96" width="1" height="6.77" fill="#420a0a"/>
<rect x="102.4" y="154.96" width="1" height="6.77" fill="#8c280e"/>
<rect x="103.4" y="154.96" width="1" height="6.77" fill="#240405"/>
<rect x="104.4" y="154.96" width="1" height="6.77" fill="#2e0606"/>
<rect x="105.4" y="154.96" width="1" height="6.77" fill="#300707"/>
<rect x="106.4" y="154.96" width="1" height="6.77" fill="#470b0a"/>
<rect x="107.4" y="154.96" width="1" height="6.77" fill="#270506"/>
<rect x="108.4" y="154.96" width="1" height="6.77" fill="#130204"/>
<rect x="109.4" y="154.96" width="1" height="6.77" fill="#3f0909"/>
<rect x="110.4" y="154.96" width="1" height="6.77" fill="#360808"/>
<rect x="111.4" y="154.96" width="1" height="6.77" fill="#3f0909"/>
<rect x="112.4" y="154.96" width="1" height="6.77" fill="#1d0305"/>
<rect x="113.4" y="154.96" width="1" height="6.77" fill="#5a100c"/>
<rect x="114.4" y="154.96" width="1" height="6.77" fill="#e4801c"/>
<rect x="115.4" y="154.96" width="1" height="6.77" fill="#320707"/>
<rect x="116.4" y="154.96" width="1" height="6.77" fill="#62130d"/>
<rect x="117.4" y="154.96" width="1" height="6.77" fill="#1c0305"/>
<rect x="118.4" y="154.96" width="1" height="6.77" fill="#59100c"/>
<rect x="119.4" y="154.96" width="1" height="6.77" fill="#3f0909"/>
<rect x="120.4" y="154.96" width="1" height="6.77" fill="#e4801c"/>
<rect x="121.4" y="154.96" width="1" height="6.77" fill="#2d0606"/>
<rect x="122.4" y="154.96" width="1" height="6.77" fill="#250506"/>
<rect x="123.4" y="154.96" width="1" height="6.77" fill="#390808"/>
<rect x="124.4" y="154.96" width="1" height="6.77" fill="#330707"/>
<rect x="125.4" y="154.96" width="1" height="6.77" fill="#3b0909"/>
<rect x="126.4" y="154.96" width="2" height="6.77" fill="#eea024"/>
<rect x="128.4" y="154.96" width="1" height="6.77" fill="#4e0d0b"/>
<rect x="129.4" y="154.96" width="1" height="6.77" fill="#460b0a"/>
<rect x="130.4" y="154.96" width="1" height="6.77" fill="#5f120d"/>
<rect x="131.4" y="154.96" width="2" height="6.77" fill="#6e180e"/>
<rect x="133.4" y="154.96" width="1" height="6.77" fill="#2d0606"/>
<rect x="134.4" y="154.96" width="1" height="6.77" fill="#370808"/>
<rect x="135.4" y="154.96" width="1" height="6.77" fill="#460b0a"/>
<rect x="136.4" y="154.96" width="2" height="6.77" fill="#350808"/>
<rect x="138.4" y="154.96" width="1" height="6.77" fill="#290606"/>
<rect x="139.4" y="154.96" width="1" height="6.77" fill="#300707"/>
<rect x="140.4" y="154.96" width="1" height="6.77" fill="#2b0606"/>
<rect x="141.4" y="154.96" width="1" height="6.77" fill="#2a0606"/>
<rect x="142.4" y="154.96" width="1" height="6.77" fill="#390808"/>
<rect x="143.4" y="154.96" width="1" height="6.77" fill="#3b0909"/>
<rect x="144.4" y="154.96" width="1" height="6.77" fill="#3c0909"/>
<rect x="145.4" y="154.96" width="1" height="6.77" fill="#220405"/>
<rect x="146.4" y="154.96" width="1" height="6.77" fill="#450b0a"/>
<rect x="147.4" y="154.96" width="1" height="6.77" fill="#360808"/>
<rect x="148.4" y="154.96" width="1" height="6.77" fill="#2b0606"/>
<rect x="149.4" y="154.96" width="2" height="6.77" fill="#6e180e"/>
<rect x="151.4" y="154.96" width="1" height="6.77" fill="#390808"/>
<rect x="152.4" y="154.96" width="1" height="6.77" fill="#1c0305"/>
<rect x="153.4" y="154.96" width="1" height="6.77" fill="#5a100c"/>
<rect x="154.4" y="154.96" width="1" height="6.77" fill="#4d0c0b"/>
<rect x="155.4" y="154.96" width="1" height="6.77" fill="#e37e1c"/>
<rect x="156.4" y="154.96" width="1" height="6.77" fill="#e4811c"/>
<rect x="157.4" y="154.96" width="1" height="6.77" fill="#68160e"/>
<rect x="158.4" y="154.96" width="1" height="6.77" fill="#db6f19"/>
<rect x="159.4" y="154.96" width="1" height="6.77" fill="#4b0c0b"/>
<rect x="160.4" y="154.96" width="1" height="6.77" fill="#570f0c"/>
<rect x="161.4" y="154.96" width="1" height="6.77" fill="#2a0606"/>
<rect x="162.4" y="154.96" width="1" height="6.77" fill="#430a0a"/>
<rect x="163.4" y="154.96" width="1" height="6.77" fill="#420a09"/>
<rect x="164.4" y="154.96" width="1" height="6.77" fill="#270506"/>
<rect x="165.4" y="154.96" width="1" height="6.77" fill="#4b0c0b"/>
<rect x="166.4" y="154.96" width="1" height="6.77" fill="#1c0305"/>
<rect x="167.4" y="154.96" width="1" height="6.77" fill="#2d0606"/>
<rect x="168.4" y="154.96" width="1" height="6.77" fill="#65150d"/>
<rect x="169.4" y="154.96" width="1" height="6.77" fill="#3f0909"/>
<rect x="170.4" y="154.96" width="1" height="6.77" fill="#761c0e"/>
<rect x="171.4" y="154.96" width="1" height="6.77" fill="#1c0305"/>
<rect x="172.4" y="154.96" width="1" height="6.77" fill="#2f0606"/>
<rect x="173.4" y="154.96" width="1" height="6.77" fill="#2b0606"/>
<rect x="174.4" y="154.96" width="1" height="6.77" fill="#300707"/>
<rect x="175.4" y="154.96" width="1" height="6.77" fill="#480b0a"/>
<rect x="176.4" y="154.96" width="1" height="6.77" fill="#4c0c0b"/>
<rect x="177.4" y="154.96" width="1" height="6.77" fill="#240506"/>
<rect x="178.4" y="154.96" width="1" height="6.77" fill="#260506"/>
<rect x="179.4" y="154.96" width="1" height="6.77" fill="#350808"/>
<rect x="180.4" y="154.96" width="1" height="6.77" fill="#280506"/>
<rect x="181.4" y="154.96" width="1" height="6.77" fill="#410a09"/>
<rect x="182.4" y="154.96" width="1" height="6.77" fill="#490c0b"/>
<rect x="183.4" y="154.96" width="1" height="6.77" fill="#220405"/>
<rect x="184.4" y="154.96" width="2" height="6.77" fill="#6e180e"/>
<rect x="186.4" y="154.96" width="1" height="6.77" fill="#190305"/>
<rect x="187.4" y="154.96" width="1" height="6.77" fill="#150204"/>
<rect x="188.4" y="154.96" width="1" height="6.77" fill="#360808"/>
<rect x="189.4" y="154.96" width="1" height="6.77" fill="#2b0606"/>
<rect x="190.4" y="154.96" width="1" height="6.77" fill="#210405"/>
<rect x="191.4" y="154.96" width="1" height="6.77" fill="#310707"/>
<rect x="192.4" y="154.96" width="1" height="6.77" fill="#2a0606"/>
<rect x="193.4" y="154.96" width="1" height="6.77" fill="#130204"/>
<rect x="194.4" y="154.96" width="1" height="6.77" fill="#360808"/>
<rect x="195.4" y="154.96" width="1" height="6.77" fill="#2b0606"/>
<rect x="196.4" y="154.96" width="1" height="6.77" fill="#150204"/>
<rect x="197.4" y="154.96" width="1" height="6.77" fill="#300707"/>
<rect x="198.4" y="154.96" width="1" height="6.77" fill="#2e0606"/>
<rect x="199.4" y="154.96" width="1" height="6.77" fill="#240506"/>
<rect x="200.4" y="154.96" width="1" height="6.77" fill="#2c0606"/>
<rect x="201.4" y="154.96" width="1" height="6.77" fill="#62130d"/>
<rect x="202.4" y="154.96" width="1" height="6.77" fill="#4a0c0b"/>
<rect x="203.4" y="154.96" width="1" height="6.77" fill="#240506"/>
<rect x="204.4" y="154.96" width="1" height="6.77" fill="#390808"/>
<rect x="205.4" y="154.96" width="1" height="6.77" fill="#721a0e"/>
<rect x="206.4" y="154.96" width="1" height="6.77" fill="#2c0606"/>
<rect x="207.4" y="154.96" width="1" height="6.77" fill="#d86818"/>
<rect x="208.4" y="154.96" width="1" height="6.77" fill="#e6861d"/>
<rect x="209.4" y="154.96" width="1" height="6.77" fill="#570f0c"/>
<rect x="210.4" y="154.96" width="1" height="6.77" fill="#d66618"/>
<rect x="211.4" y="154.96" width="1" height="6.77" fill="#df761a"/>
<rect x="212.4" y="154.96" width="1" height="6.77" fill="#300707"/>
<rect x="213.4" y="154.96" width="1" height="6.77" fill="#2a0606"/>
<rect x="214.4" y="154.96" width="1" height="6.77" fill="#570f0c"/>
<rect x="215.4" y="154.96" width="1" height="6.77" fill="#1f0405"/>
<rect x="216.4" y="154.96" width="1" height="6.77" fill="#63140d"/>
<rect x="217.4" y="154.96" width="1" height="6.77" fill="#2a0606"/>
<rect x="218.4" y="154.96" width="1" height="6.77" fill="#2b0606"/>
<rect x="219.4" y="154.96" width="1" height="6.77" fill="#4c0c0b"/>
<rect x="220.4" y="154.96" width="1" height="6.77" fill="#190305"/>
<rect x="221.4" y="154.96" width="1" height="6.77" fill="#2f0606"/>
<rect x="222.4" y="154.96" width="1" height="6.77" fill="#59100c"/>
<rect x="223.4" y="154.96" width="1" height="6.77" fill="#470b0a"/>
<rect x="224.4" y="154.96" width="1" height="6.77" fill="#340707"/>
<rect x="225.4" y="154.96" width="2" height="6.77" fill="#540e0c"/>
<rect x="227.4" y="154.96" width="1" height="6.77" fill="#2b0606"/>
<rect x="228.4" y="154.96" width="1" height="6.77" fill="#430a0a"/>
<rect x="229.4" y="154.96" width="1" height="6.77" fill="#180305"/>
<rect x="230.4" y="154.96" width="1" height="6.77" fill="#210405"/>
<rect x="231.4" y="154.96" width="1" height="6.77" fill="#2d0606"/>
<rect x="232.4" y="154.96" width="1" height="6.77" fill="#070103"/>
<rect x="233.4" y="154.96" width="3" height="6.77" fill="#8c280e"/>
<rect x="236.4" y="154.96" width="1" height="6.77" fill="#370808"/>
<rect x="237.4" y="154.96" width="1" height="6.77" fill="#3a0808"/>
<rect x="238.4" y="154.96" width="1" height="6.77" fill="#370808"/>
<rect x="239.4" y="154.96" width="2" height="6.77" fill="#220405"/>
<rect x="241.4" y="154.96" width="1" height="6.77" fill="#370808"/>
<rect x="242.4" y="154.96" width="1" height="6.77" fill="#040002"/>
<rect x="243.4" y="154.96" width="1" height="6.77" fill="#220405"/>
<rect x="244.4" y="154.96" width="1" height="6.77" fill="#150204"/>
<rect x="245.4" y="154.96" width="1" height="6.77" fill="#2c0606"/>
<rect x="246.4" y="154.96" width="1" height="6.77" fill="#b44010"/>
<rect x="247.4" y="154.96" width="3" height="6.77" fill="#220405"/>
<rect x="250.4" y="154.96" width="1" height="6.77" fill="#370808"/>
<rect x="251.4" y="154.96" width="1" height="6.77" fill="#040002"/>
<rect x="252.4" y="154.96" width="1" height="6.77" fill="#370808"/>
<rect x="253.4" y="154.96" width="1" height="6.77" fill="#220405"/>
<rect x="254.4" y="154.96" width="1" height="6.77" fill="#2c0606"/>
<rect x="255.4" y="154.96" width="2" height="6.77" fill="#3a0808"/>
<rect x="257.4" y="154.96" width="1" height="6.77" fill="#370808"/>
<rect x="258.4" y="154.96" width="1" height="6.77" fill="#3a0808"/>
<rect x="259.4" y="154.96" width="1" height="6.77" fill="#370808"/>
<rect x="260.4" y="154.96" width="1" height="6.77" fill="#220405"/>
<rect x="261.4" y="154.96" width="1" height="6.77" fill="#370808"/>
<rect x="262.4" y="154.96" width="1" height="6.77" fill="#2c0606"/>
<rect x="263.4" y="154.96" width="2" height="6.77" fill="#040002"/>
<rect x="265.4" y="154.96" width="1" height="6.77" fill="#220405"/>
<rect x="266.4" y="154.96" width="1" height="6.77" fill="#150204"/>
<rect x="267.4" y="154.96" width="1" height="6.77" fill="#2c0606"/>
<rect x="268.4" y="154.96" width="1" height="6.77" fill="#540e0c"/>
<rect x="269.4" y="154.96" width="1" height="6.77" fill="#370808"/>
<rect x="270.4" y="154.96" width="1" height="6.77" fill="#040002"/>
<rect x="271.4" y="154.96" width="1" height="6.77" fill="#150204"/>
<rect x="272.4" y="154.96" width="2" height="6.77" fill="#3a0808"/>
<rect x="274.4" y="154.96" width="1" height="6.77" fill="#2c0606"/>
<rect x="275.4" y="154.96" width="1" height="6.77" fill="#040002"/>
<rect x="276.4" y="154.96" width="1" height="6.77" fill="#370808"/>
<rect x="277.4" y="154.96" width="1" height="6.77" fill="#3a0808"/>
<rect x="278.4" y="154.96" width="2" height="6.77" fill="#2c0606"/>
<rect x="280.4" y="154.96" width="1" height="6.77" fill="#3a0808"/>
<rect x="281.4" y="154.96" width="2" height="6.77" fill="#220405"/>
<rect x="283.4" y="154.96" width="1" height="6.77" fill="#3a0808"/>
<rect x="284.4" y="154.96" width="1" height="6.77" fill="#2c0606"/>
<rect x="285.4" y="154.96" width="1" height="6.77" fill="#040002"/>
<rect x="286.4" y="154.96" width="1" height="6.77" fill="#3a0808"/>
<rect x="287.4" y="154.96" width="2" height="6.77" fill="#220405"/>
<rect x="289.4" y="154.96" width="1" height="6.77" fill="#150204"/>
<rect x="290.4" y="154.96" width="1" height="6.77" fill="#040002"/>
<rect x="73.4" y="161.73" width="1" height="6.77" fill="#58100c"/>
<rect x="74.4" y="161.73" width="1" height="6.77" fill="#170305"/>
<rect x="75.4" y="161.73" width="1" height="6.77" fill="#7c1f0e"/>
<rect x="76.4" y="161.73" width="1" height="6.77" fill="#2f0707"/>
<rect x="77.4" y="161.73" width="1" height="6.77" fill="#5e120d"/>
<rect x="78.4" y="161.73" width="1" height="6.77" fill="#2d0606"/>
<rect x="79.4" y="161.73" width="1" height="6.77" fill="#250506"/>
<rect x="80.4" y="161.73" width="1" height="6.77" fill="#3a0808"/>
<rect x="81.4" y="161.73" width="2" height="6.77" fill="#190305"/>
<rect x="83.4" y="161.73" width="1" height="6.77" fill="#350707"/>
<rect x="84.4" y="161.73" width="1" height="6.77" fill="#110204"/>
<rect x="85.4" y="161.73" width="1" height="6.77" fill="#290506"/>
<rect x="86.4" y="161.73" width="1" height="6.77" fill="#090103"/>
<rect x="87.4" y="161.73" width="1" height="6.77" fill="#280506"/>
<rect x="88.4" y="161.73" width="1" height="6.77" fill="#230405"/>
<rect x="89.4" y="161.73" width="1" height="6.77" fill="#0e0204"/>
<rect x="90.4" y="161.73" width="1" height="6.77" fill="#310707"/>
<rect x="91.4" y="161.73" width="1" height="6.77" fill="#2a0606"/>
<rect x="92.4" y="161.73" width="1" height="6.77" fill="#150204"/>
<rect x="93.4" y="161.73" width="1" height="6.77" fill="#300707"/>
<rect x="94.4" y="161.73" width="1" height="6.77" fill="#6e180e"/>
<rect x="95.4" y="161.73" width="1" height="6.77" fill="#110204"/>
<rect x="96.4" y="161.73" width="1" height="6.77" fill="#210405"/>
<rect x="97.4" y="161.73" width="1" height="6.77" fill="#2a0606"/>
<rect x="98.4" y="161.73" width="1" height="6.77" fill="#6e180e"/>
<rect x="99.4" y="161.73" width="1" height="6.77" fill="#0f0204"/>
<rect x="100.4" y="161.73" width="1" height="6.77" fill="#220405"/>
<rect x="101.4" y="161.73" width="1" height="6.77" fill="#310707"/>
<rect x="102.4" y="161.73" width="1" height="6.77" fill="#3a0808"/>
<rect x="103.4" y="161.73" width="1" height="6.77" fill="#310707"/>
<rect x="104.4" y="161.73" width="1" height="6.77" fill="#260506"/>
<rect x="105.4" y="161.73" width="1" height="6.77" fill="#390808"/>
<rect x="106.4" y="161.73" width="1" height="6.77" fill="#250506"/>
<rect x="107.4" y="161.73" width="1" height="6.77" fill="#1b0305"/>
<rect x="108.4" y="161.73" width="1" height="6.77" fill="#160204"/>
<rect x="109.4" y="161.73" width="1" height="6.77" fill="#250506"/>
<rect x="110.4" y="161.73" width="1" height="6.77" fill="#280506"/>
<rect x="111.4" y="161.73" width="1" height="6.77" fill="#2b0606"/>
<rect x="112.4" y="161.73" width="1" height="6.77" fill="#3a0808"/>
<rect x="113.4" y="161.73" width="1" height="6.77" fill="#d96b18"/>
<rect x="114.4" y="161.73" width="1" height="6.77" fill="#dc7019"/>
<rect x="115.4" y="161.73" width="1" height="6.77" fill="#61130d"/>
<rect x="116.4" y="161.73" width="1" height="6.77" fill="#fff070"/>
<rect x="117.4" y="161.73" width="1" height="6.77" fill="#3c0909"/>
<rect x="118.4" y="161.73" width="1" height="6.77" fill="#210405"/>
<rect x="119.4" y="161.73" width="1" height="6.77" fill="#110204"/>
<rect x="120.4" y="161.73" width="1" height="6.77" fill="#210405"/>
<rect x="121.4" y="161.73" width="1" height="6.77" fill="#190305"/>
<rect x="122.4" y="161.73" width="1" height="6.77" fill="#3c0909"/>
<rect x="123.4" y="161.73" width="1" height="6.77" fill="#3a0808"/>
<rect x="124.4" y="161.73" width="1" height="6.77" fill="#250506"/>
<rect x="125.4" y="161.73" width="1" height="6.77" fill="#2d0606"/>
<rect x="126.4" y="161.73" width="1" height="6.77" fill="#1c0305"/>
<rect x="127.4" y="161.73" width="1" height="6.77" fill="#3d0909"/>
<rect x="128.4" y="161.73" width="1" height="6.77" fill="#180305"/>
<rect x="129.4" y="161.73" width="1" height="6.77" fill="#110204"/>
<rect x="130.4" y="161.73" width="1" height="6.77" fill="#1d0305"/>
<rect x="131.4" y="161.73" width="1" height="6.77" fill="#250506"/>
<rect x="132.4" y="161.73" width="1" height="6.77" fill="#1f0405"/>
<rect x="133.4" y="161.73" width="1" height="6.77" fill="#130204"/>
<rect x="134.4" y="161.73" width="2" height="6.77" fill="#6e180e"/>
<rect x="136.4" y="161.73" width="1" height="6.77" fill="#210405"/>
<rect x="137.4" y="161.73" width="1" height="6.77" fill="#310707"/>
<rect x="138.4" y="161.73" width="1" height="6.77" fill="#110204"/>
<rect x="139.4" y="161.73" width="1" height="6.77" fill="#240506"/>
<rect x="140.4" y="161.73" width="1" height="6.77" fill="#360808"/>
<rect x="141.4" y="161.73" width="1" height="6.77" fill="#1d0305"/>
<rect x="142.4" y="161.73" width="1" height="6.77" fill="#6e180e"/>
<rect x="143.4" y="161.73" width="1" height="6.77" fill="#380808"/>
<rect x="144.4" y="161.73" width="1" height="6.77" fill="#300707"/>
<rect x="145.4" y="161.73" width="1" height="6.77" fill="#1c0305"/>
<rect x="146.4" y="161.73" width="2" height="6.77" fill="#270506"/>
<rect x="148.4" y="161.73" width="1" height="6.77" fill="#250506"/>
<rect x="149.4" y="161.73" width="1" height="6.77" fill="#2f0606"/>
<rect x="150.4" y="161.73" width="1" height="6.77" fill="#3e0909"/>
<rect x="151.4" y="161.73" width="1" height="6.77" fill="#1f0405"/>
<rect x="152.4" y="161.73" width="1" height="6.77" fill="#1c0305"/>
<rect x="153.4" y="161.73" width="1" height="6.77" fill="#1b0305"/>
<rect x="154.4" y="161.73" width="1" height="6.77" fill="#4f0d0b"/>
<rect x="155.4" y="161.73" width="1" height="6.77" fill="#380808"/>
<rect x="156.4" y="161.73" width="1" height="6.77" fill="#360808"/>
<rect x="157.4" y="161.73" width="1" height="6.77" fill="#350707"/>
<rect x="158.4" y="161.73" width="1" height="6.77" fill="#240405"/>
<rect x="159.4" y="161.73" width="1" height="6.77" fill="#340707"/>
<rect x="160.4" y="161.73" width="1" height="6.77" fill="#320707"/>
<rect x="161.4" y="161.73" width="1" height="6.77" fill="#150204"/>
<rect x="162.4" y="161.73" width="1" height="6.77" fill="#300707"/>
<rect x="163.4" y="161.73" width="1" height="6.77" fill="#360808"/>
<rect x="164.4" y="161.73" width="1" height="6.77" fill="#3c0909"/>
<rect x="165.4" y="161.73" width="1" height="6.77" fill="#150204"/>
<rect x="166.4" y="161.73" width="1" height="6.77" fill="#040002"/>
<rect x="167.4" y="161.73" width="1" height="6.77" fill="#290506"/>
<rect x="168.4" y="161.73" width="1" height="6.77" fill="#b44010"/>
<rect x="169.4" y="161.73" width="1" height="6.77" fill="#200405"/>
<rect x="170.4" y="161.73" width="1" height="6.77" fill="#180305"/>
<rect x="171.4" y="161.73" width="1" height="6.77" fill="#942d0e"/>
<rect x="172.4" y="161.73" width="1" height="6.77" fill="#370808"/>
<rect x="173.4" y="161.73" width="1" height="6.77" fill="#460b0a"/>
<rect x="174.4" y="161.73" width="1" height="6.77" fill="#1e0305"/>
<rect x="175.4" y="161.73" width="1" height="6.77" fill="#380808"/>
<rect x="176.4" y="161.73" width="1" height="6.77" fill="#1e0305"/>
<rect x="177.4" y="161.73" width="1" height="6.77" fill="#b44010"/>
<rect x="178.4" y="161.73" width="1" height="6.77" fill="#120204"/>
<rect x="179.4" y="161.73" width="1" height="6.77" fill="#220405"/>
<rect x="180.4" y="161.73" width="1" height="6.77" fill="#1c0305"/>
<rect x="181.4" y="161.73" width="1" height="6.77" fill="#560f0c"/>
<rect x="182.4" y="161.73" width="1" height="6.77" fill="#070002"/>
<rect x="183.4" y="161.73" width="1" height="6.77" fill="#2f0707"/>
<rect x="184.4" y="161.73" width="1" height="6.77" fill="#360808"/>
<rect x="185.4" y="161.73" width="1" height="6.77" fill="#0e0204"/>
<rect x="186.4" y="161.73" width="1" height="6.77" fill="#2b0606"/>
<rect x="187.4" y="161.73" width="1" height="6.77" fill="#1a0305"/>
<rect x="188.4" y="161.73" width="1" height="6.77" fill="#2d0606"/>
<rect x="189.4" y="161.73" width="1" height="6.77" fill="#0f0204"/>
<rect x="190.4" y="161.73" width="1" height="6.77" fill="#310707"/>
<rect x="191.4" y="161.73" width="1" height="6.77" fill="#240405"/>
<rect x="192.4" y="161.73" width="1" height="6.77" fill="#210405"/>
<rect x="193.4" y="161.73" width="1" height="6.77" fill="#200405"/>
<rect x="194.4" y="161.73" width="1" height="6.77" fill="#1d0305"/>
<rect x="195.4" y="161.73" width="1" height="6.77" fill="#1f0405"/>
<rect x="196.4" y="161.73" width="1" height="6.77" fill="#260506"/>
<rect x="197.4" y="161.73" width="1" height="6.77" fill="#3b0808"/>
<rect x="198.4" y="161.73" width="1" height="6.77" fill="#220405"/>
<rect x="199.4" y="161.73" width="1" height="6.77" fill="#180305"/>
<rect x="200.4" y="161.73" width="1" height="6.77" fill="#190305"/>
<rect x="201.4" y="161.73" width="1" height="6.77" fill="#1f0405"/>
<rect x="202.4" y="161.73" width="1" height="6.77" fill="#2d0606"/>
<rect x="203.4" y="161.73" width="1" height="6.77" fill="#140204"/>
<rect x="204.4" y="161.73" width="1" height="6.77" fill="#330707"/>
<rect x="205.4" y="161.73" width="1" height="6.77" fill="#530e0c"/>
<rect x="206.4" y="161.73" width="1" height="6.77" fill="#1e0305"/>
<rect x="207.4" y="161.73" width="1" height="6.77" fill="#360808"/>
<rect x="208.4" y="161.73" width="1" height="6.77" fill="#540e0c"/>
<rect x="209.4" y="161.73" width="1" height="6.77" fill="#9c320f"/>
<rect x="210.4" y="161.73" width="1" height="6.77" fill="#c45013"/>
<rect x="211.4" y="161.73" width="1" height="6.77" fill="#540e0c"/>
<rect x="212.4" y="161.73" width="1" height="6.77" fill="#9c320f"/>
<rect x="213.4" y="161.73" width="1" height="6.77" fill="#160204"/>
<rect x="214.4" y="161.73" width="1" height="6.77" fill="#390808"/>
<rect x="215.4" y="161.73" width="1" height="6.77" fill="#1c0305"/>
<rect x="216.4" y="161.73" width="1" height="6.77" fill="#300707"/>
<rect x="217.4" y="161.73" width="1" height="6.77" fill="#2c0606"/>
<rect x="218.4" y="161.73" width="1" height="6.77" fill="#6e180e"/>
<rect x="219.4" y="161.73" width="1" height="6.77" fill="#86250e"/>
<rect x="220.4" y="161.73" width="1" height="6.77" fill="#2c0606"/>
<rect x="221.4" y="161.73" width="1" height="6.77" fill="#450b0a"/>
<rect x="222.4" y="161.73" width="1" height="6.77" fill="#410a09"/>
<rect x="223.4" y="161.73" width="1" height="6.77" fill="#080103"/>
<rect x="224.4" y="161.73" width="1" height="6.77" fill="#220405"/>
<rect x="225.4" y="161.73" width="1" height="6.77" fill="#500d0b"/>
<rect x="226.4" y="161.73" width="1" height="6.77" fill="#4b0c0b"/>
<rect x="227.4" y="161.73" width="1" height="6.77" fill="#330707"/>
<rect x="228.4" y="161.73" width="1" height="6.77" fill="#100204"/>
<rect x="229.4" y="161.73" width="1" height="6.77" fill="#220405"/>
<rect x="230.4" y="161.73" width="1" height="6.77" fill="#4b0c0b"/>
<rect x="231.4" y="161.73" width="1" height="6.77" fill="#100204"/>
<rect x="232.4" y="161.73" width="1" height="6.77" fill="#500d0b"/>
<rect x="233.4" y="161.73" width="1" height="6.77" fill="#4b0c0b"/>
<rect x="234.4" y="161.73" width="1" height="6.77" fill="#3e0909"/>
<rect x="235.4" y="161.73" width="1" height="6.77" fill="#4b0c0b"/>
<rect x="236.4" y="161.73" width="1" height="6.77" fill="#330707"/>
<rect x="237.4" y="161.73" width="1" height="6.77" fill="#3e0909"/>
<rect x="238.4" y="161.73" width="1" height="6.77" fill="#080103"/>
<rect x="239.4" y="161.73" width="1" height="6.77" fill="#69160e"/>
<rect x="240.4" y="161.73" width="1" height="6.77" fill="#1c0305"/>
<rect x="241.4" y="161.73" width="1" height="6.77" fill="#540e0c"/>
<rect x="242.4" y="161.73" width="1" height="6.77" fill="#470b0a"/>
<rect x="243.4" y="161.73" width="1" height="6.77" fill="#140204"/>
<rect x="244.4" y="161.73" width="1" height="6.77" fill="#2b0606"/>
<rect x="245.4" y="161.73" width="1" height="6.77" fill="#420a0a"/>
<rect x="246.4" y="161.73" width="1" height="6.77" fill="#67150d"/>
<rect x="247.4" y="161.73" width="1" height="6.77" fill="#260506"/>
<rect x="248.4" y="161.73" width="1" height="6.77" fill="#150204"/>
<rect x="249.4" y="161.73" width="1" height="6.77" fill="#490c0b"/>
<rect x="250.4" y="161.73" width="1" height="6.77" fill="#1d0305"/>
<rect x="251.4" y="161.73" width="1" height="6.77" fill="#080103"/>
<rect x="252.4" y="161.73" width="1" height="6.77" fill="#490b0a"/>
<rect x="253.4" y="161.73" width="1" height="6.77" fill="#3c0909"/>
<rect x="254.4" y="161.73" width="1" height="6.77" fill="#2a0606"/>
<rect x="255.4" y="161.73" width="1" height="6.77" fill="#170305"/>
<rect x="256.4" y="161.73" width="1" height="6.77" fill="#1c0305"/>
<rect x="257.4" y="161.73" width="1" height="6.77" fill="#220405"/>
<rect x="258.4" y="161.73" width="1" height="6.77" fill="#1d0305"/>
<rect x="259.4" y="161.73" width="1" height="6.77" fill="#230405"/>
<rect x="260.4" y="161.73" width="1" height="6.77" fill="#420a09"/>
<rect x="261.4" y="161.73" width="1" height="6.77" fill="#2c0606"/>
<rect x="262.4" y="161.73" width="1" height="6.77" fill="#1f0405"/>
<rect x="263.4" y="161.73" width="1" height="6.77" fill="#040002"/>
<rect x="264.4" y="161.73" width="1" height="6.77" fill="#470b0a"/>
<rect x="265.4" y="161.73" width="1" height="6.77" fill="#86250e"/>
<rect x="266.4" y="161.73" width="1" height="6.77" fill="#470b0a"/>
<rect x="267.4" y="161.73" width="1" height="6.77" fill="#2c0606"/>
<rect x="268.4" y="161.73" width="1" height="6.77" fill="#5e120d"/>
<rect x="269.4" y="161.73" width="1" height="6.77" fill="#2c0606"/>
<rect x="270.4" y="161.73" width="1" height="6.77" fill="#190305"/>
<rect x="271.4" y="161.73" width="1" height="6.77" fill="#2c0606"/>
<rect x="272.4" y="161.73" width="1" height="6.77" fill="#550e0c"/>
<rect x="273.4" y="161.73" width="1" height="6.77" fill="#280506"/>
<rect x="274.4" y="161.73" width="1" height="6.77" fill="#2b0606"/>
<rect x="275.4" y="161.73" width="1" height="6.77" fill="#240405"/>
<rect x="276.4" y="161.73" width="1" height="6.77" fill="#160305"/>
<rect x="277.4" y="161.73" width="1" height="6.77" fill="#530e0c"/>
<rect x="278.4" y="161.73" width="1" height="6.77" fill="#2e0606"/>
<rect x="279.4" y="161.73" width="1" height="6.77" fill="#410a09"/>
<rect x="280.4" y="161.73" width="1" height="6.77" fill="#2f0707"/>
<rect x="281.4" y="161.73" width="1" height="6.77" fill="#180305"/>
<rect x="282.4" y="161.73" width="1" height="6.77" fill="#1b0305"/>
<rect x="283.4" y="161.73" width="1" height="6.77" fill="#230405"/>
<rect x="284.4" y="161.73" width="2" height="6.77" fill="#240506"/>
<rect x="286.4" y="161.73" width="1" height="6.77" fill="#3d0909"/>
<rect x="287.4" y="161.73" width="1" height="6.77" fill="#2c0606"/>
<rect x="288.4" y="161.73" width="1" height="6.77" fill="#220405"/>
<rect x="289.4" y="161.73" width="1" height="6.77" fill="#4f0d0b"/>
<rect x="290.4" y="161.73" width="1" height="6.77" fill="#2c0606"/>
</g>
<text x="84.60" y="180.00" font-size="7.6" fill="#2e2e2e" color="#2e2e2e" textLength="24.60" lengthAdjust="spacingAndGlyphs">Cluster</text>
<rect x="85.40" y="185.30" width="6.00" height="6.00" fill="#b58ac4"/>
<text x="94.90" y="191.00" font-size="6.6" fill="#2e2e2e" color="#2e2e2e" textLength="9.40" lengthAdjust="spacingAndGlyphs">IC1</text>
<rect x="113.90" y="185.30" width="6.20" height="6.00" fill="#8e1616"/>
<text x="124.30" y="191.00" font-size="6.6" fill="#2e2e2e" color="#2e2e2e" textLength="9.50" lengthAdjust="spacingAndGlyphs">IC2</text>
<rect x="143.10" y="185.30" width="6.20" height="6.00" fill="#d99070"/>
<text x="153.80" y="191.00" font-size="6.6" fill="#2e2e2e" color="#2e2e2e" textLength="47.40" lengthAdjust="spacingAndGlyphs">Immune.Not.Sig</text>
<rect x="228.70" y="177.80" width="47.60" height="5.70" fill="url(#cb)" stroke="#222" stroke-width="0.6"/>
<text x="230.50" y="190.30" font-size="6.3" fill="#2e2e2e" color="#2e2e2e" text-anchor="middle" textLength="9.00" lengthAdjust="spacingAndGlyphs">0.0</text>
<line x1="230.50" y1="181.80" x2="230.50" y2="183.50" stroke="#333" stroke-width="0.6"/>
<text x="243.50" y="190.30" font-size="6.3" fill="#2e2e2e" color="#2e2e2e" text-anchor="middle" textLength="9.00" lengthAdjust="spacingAndGlyphs">0.2</text>
<line x1="243.50" y1="181.80" x2="243.50" y2="183.50" stroke="#333" stroke-width="0.6"/>
<text x="256.50" y="190.30" font-size="6.3" fill="#2e2e2e" color="#2e2e2e" text-anchor="middle" textLength="9.00" lengthAdjust="spacingAndGlyphs">0.4</text>
<line x1="256.50" y1="181.80" x2="256.50" y2="183.50" stroke="#333" stroke-width="0.6"/>
<text x="269.70" y="190.30" font-size="6.3" fill="#2e2e2e" color="#2e2e2e" text-anchor="middle" textLength="9.00" lengthAdjust="spacingAndGlyphs">0.6</text>
<line x1="269.70" y1="181.80" x2="269.70" y2="183.50" stroke="#333" stroke-width="0.6"/>
<text x="365.80" y="32.70" font-size="10.4" fill="#2e2e2e" color="#2e2e2e" class="big" textLength="104.90" lengthAdjust="spacingAndGlyphs">Volcano plot - immune</text>
<text x="384.80" y="44.80" font-size="10.4" fill="#2e2e2e" color="#2e2e2e" class="big" textLength="66.10" lengthAdjust="spacingAndGlyphs">deconvolution</text>
<line x1="345.50" y1="52.50" x2="345.50" y2="210.30" stroke="#000" stroke-width="1.1"/>
<line x1="345.00" y1="209.80" x2="488.00" y2="209.80" stroke="#000" stroke-width="1.1"/>
<line x1="423.50" y1="52.50" x2="423.50" y2="209.80" stroke="#000" stroke-width="1.1"/>
<line x1="345.50" y1="191.20" x2="488.00" y2="191.20" stroke="#000" stroke-width="1.1"/>
<line x1="342.60" y1="202.30" x2="345.50" y2="202.30" stroke="#000" stroke-width="0.9"/>
<text x="339.20" y="204.50" font-size="6.3" fill="#2e2e2e" color="#2e2e2e" text-anchor="end">0</text>
<line x1="342.60" y1="156.40" x2="345.50" y2="156.40" stroke="#000" stroke-width="0.9"/>
<text x="339.20" y="158.60" font-size="6.3" fill="#2e2e2e" color="#2e2e2e" text-anchor="end">5</text>
<line x1="342.60" y1="110.50" x2="345.50" y2="110.50" stroke="#000" stroke-width="0.9"/>
<text x="339.20" y="112.70" font-size="6.3" fill="#2e2e2e" color="#2e2e2e" text-anchor="end">10</text>
<line x1="342.60" y1="64.60" x2="345.50" y2="64.60" stroke="#000" stroke-width="0.9"/>
<text x="339.20" y="66.80" font-size="6.3" fill="#2e2e2e" color="#2e2e2e" text-anchor="end">15</text>
<line x1="369.60" y1="209.80" x2="369.60" y2="212.60" stroke="#000" stroke-width="0.9"/>
<text x="369.60" y="222.00" font-size="6.3" fill="#2e2e2e" color="#2e2e2e" text-anchor="middle">−2</text>
<line x1="396.50" y1="209.80" x2="396.50" y2="212.60" stroke="#000" stroke-width="0.9"/>
<text x="396.50" y="222.00" font-size="6.3" fill="#2e2e2e" color="#2e2e2e" text-anchor="middle">−1</text>
<line x1="423.50" y1="209.80" x2="423.50" y2="212.60" stroke="#000" stroke-width="0.9"/>
<text x="423.50" y="222.00" font-size="6.3" fill="#2e2e2e" color="#2e2e2e" text-anchor="middle">0</text>
<line x1="450.40" y1="209.80" x2="450.40" y2="212.60" stroke="#000" stroke-width="0.9"/>
<text x="450.40" y="222.00" font-size="6.3" fill="#2e2e2e" color="#2e2e2e" text-anchor="middle">1</text>
<line x1="477.30" y1="209.80" x2="477.30" y2="212.60" stroke="#000" stroke-width="0.9"/>
<text x="477.30" y="222.00" font-size="6.3" fill="#2e2e2e" color="#2e2e2e" text-anchor="middle">2</text>
<text x="418.70" y="233.80" font-size="8.4" fill="#2e2e2e" color="#2e2e2e" textLength="10.00" lengthAdjust="spacingAndGlyphs">LFC</text>
<text x="0.00" y="0.00" font-size="7.4" fill="#2e2e2e" color="#2e2e2e" text-anchor="middle" textLength="42.50" lengthAdjust="spacingAndGlyphs" transform="translate(325.0,130.3) rotate(-90)">−log10(padj)</text>
<circle cx="351.90" cy="59.30" r="0.95" fill="#222"/>
<circle cx="465.60" cy="108.80" r="0.75" fill="#777"/>
<circle cx="413.00" cy="139.50" r="1.00" fill="#5a0a10"/>
<circle cx="400.80" cy="149.70" r="0.90" fill="#5a0a10"/>
<circle cx="405.80" cy="152.80" r="1.00" fill="#a01018"/>
<circle cx="464.20" cy="156.90" r="0.75" fill="#888"/>
<circle cx="437.50" cy="186.30" r="0.75" fill="#888"/>
<circle cx="440.40" cy="188.60" r="0.75" fill="#888"/>
<circle cx="458.00" cy="187.90" r="0.75" fill="#888"/>
<circle cx="427.90" cy="195.00" r="0.75" fill="#888"/>
<circle cx="431.50" cy="198.50" r="0.75" fill="#888"/>
<circle cx="432.70" cy="199.80" r="0.75" fill="#888"/>
<circle cx="459.60" cy="199.20" r="0.75" fill="#888"/>
<circle cx="481.50" cy="202.70" r="0.75" fill="#888"/>
<text x="354.40" y="61.50" font-size="6.7" fill="#2e2e2e" color="#2e2e2e" textLength="65.40" lengthAdjust="spacingAndGlyphs">Myeloid dendritic cells</text>
<text x="456.00" y="106.50" font-size="6.7" fill="#2e2e2e" color="#2e2e2e" textLength="33.80" lengthAdjust="spacingAndGlyphs">Neutrophils</text>
<text x="370.00" y="140.40" font-size="6.7" fill="#2e2e2e" color="#2e2e2e" textLength="39.50" lengthAdjust="spacingAndGlyphs">Macrophages</text>
<text x="355.40" y="150.80" font-size="6.7" fill="#2e2e2e" color="#2e2e2e" textLength="43.40" lengthAdjust="spacingAndGlyphs">T.CD8.memory</text>
<text x="427.30" y="156.50" font-size="6.7" fill="#2e2e2e" color="#2e2e2e" textLength="34.60" lengthAdjust="spacingAndGlyphs">T.CD8.naive</text>
<text x="355.20" y="185.00" font-size="6.7" fill="#2e2e2e" color="#2e2e2e" textLength="43.30" lengthAdjust="spacingAndGlyphs">T.CD4.memory</text>
<line x1="398.80" y1="184.00" x2="407.50" y2="192.10" stroke="#222" stroke-width="0.6"/>
<text x="438.50" y="180.00" font-size="6.7" fill="#2e2e2e" color="#2e2e2e" textLength="34.50" lengthAdjust="spacingAndGlyphs">Plasma cells</text>
<line x1="448.50" y1="181.80" x2="441.70" y2="190.20" stroke="#222" stroke-width="0.6"/>
<text x="461.00" y="189.20" font-size="6.7" fill="#2e2e2e" color="#2e2e2e" textLength="20.50" lengthAdjust="spacingAndGlyphs">B.naive</text>
<text x="491.50" y="124.20" font-size="7.2" fill="#2e2e2e" color="#2e2e2e" textLength="22.30" lengthAdjust="spacingAndGlyphs">Delabel</text>
<circle cx="493.70" cy="131.00" r="2.40" fill="#b48cc8"/>
<text x="499.20" y="132.90" font-size="7.0" fill="#2e2e2e" color="#2e2e2e" textLength="10.20" lengthAdjust="spacingAndGlyphs">IC1</text>
<circle cx="493.70" cy="138.80" r="2.40" fill="#7a0a0a"/>
<text x="499.20" y="140.80" font-size="7.0" fill="#2e2e2e" color="#2e2e2e" textLength="10.80" lengthAdjust="spacingAndGlyphs">IC2</text>
<text x="57.50" y="267.50" font-size="8.8" fill="#2e2e2e" color="#2e2e2e" class="big" textLength="92.50" lengthAdjust="spacingAndGlyphs">Hub gene network : IC1</text>
<line x1="104.25" y1="288.85" x2="64.70" y2="305.95" stroke="#2a2a2a" stroke-width="0.75"/>
<line x1="104.25" y1="288.85" x2="144.10" y2="306.00" stroke="#2a2a2a" stroke-width="0.75"/>
<line x1="104.25" y1="288.85" x2="159.65" y2="333.25" stroke="#2a2a2a" stroke-width="0.75"/>
<line x1="104.25" y1="288.85" x2="59.25" y2="360.40" stroke="#2a2a2a" stroke-width="0.75"/>
<line x1="104.25" y1="288.85" x2="152.10" y2="356.50" stroke="#2a2a2a" stroke-width="0.75"/>
<line x1="104.25" y1="288.85" x2="82.85" y2="383.40" stroke="#2a2a2a" stroke-width="0.75"/>
<line x1="104.25" y1="288.85" x2="129.35" y2="383.55" stroke="#2a2a2a" stroke-width="0.75"/>
<line x1="64.70" y1="305.95" x2="144.10" y2="306.00" stroke="#2a2a2a" stroke-width="0.75"/>
<line x1="64.70" y1="305.95" x2="55.25" y2="333.15" stroke="#2a2a2a" stroke-width="0.75"/>
<line x1="64.70" y1="305.95" x2="159.65" y2="333.25" stroke="#2a2a2a" stroke-width="0.75"/>
<line x1="64.70" y1="305.95" x2="129.35" y2="383.55" stroke="#2a2a2a" stroke-width="0.75"/>
<line x1="144.10" y1="306.00" x2="159.65" y2="333.25" stroke="#2a2a2a" stroke-width="0.75"/>
<line x1="144.10" y1="306.00" x2="59.25" y2="360.40" stroke="#2a2a2a" stroke-width="0.75"/>
<line x1="144.10" y1="306.00" x2="152.10" y2="356.50" stroke="#2a2a2a" stroke-width="0.75"/>
<line x1="144.10" y1="306.00" x2="82.85" y2="383.40" stroke="#2a2a2a" stroke-width="0.75"/>
<line x1="144.10" y1="306.00" x2="129.35" y2="383.55" stroke="#2a2a2a" stroke-width="0.75"/>
<line x1="55.25" y1="333.15" x2="159.65" y2="333.25" stroke="#2a2a2a" stroke-width="0.75"/>
<line x1="55.25" y1="333.15" x2="59.25" y2="360.40" stroke="#2a2a2a" stroke-width="0.75"/>
<line x1="55.25" y1="333.15" x2="129.35" y2="383.55" stroke="#2a2a2a" stroke-width="0.75"/>
<line x1="159.65" y1="333.25" x2="59.25" y2="360.40" stroke="#2a2a2a" stroke-width="0.75"/>
<line x1="159.65" y1="333.25" x2="152.10" y2="356.50" stroke="#2a2a2a" stroke-width="0.75"/>
<line x1="159.65" y1="333.25" x2="82.85" y2="383.40" stroke="#2a2a2a" stroke-width="0.75"/>
<line x1="159.65" y1="333.25" x2="129.35" y2="383.55" stroke="#2a2a2a" stroke-width="0.75"/>
<line x1="59.25" y1="360.40" x2="152.10" y2="356.50" stroke="#2a2a2a" stroke-width="0.75"/>
<line x1="59.25" y1="360.40" x2="82.85" y2="383.40" stroke="#2a2a2a" stroke-width="0.75"/>
<line x1="59.25" y1="360.40" x2="129.35" y2="383.55" stroke="#2a2a2a" stroke-width="0.75"/>
<line x1="152.10" y1="356.50" x2="82.85" y2="383.40" stroke="#2a2a2a" stroke-width="0.75"/>
<line x1="152.10" y1="356.50" x2="129.35" y2="383.55" stroke="#2a2a2a" stroke-width="0.75"/>
<line x1="82.85" y1="383.40" x2="129.35" y2="383.55" stroke="#2a2a2a" stroke-width="0.75"/>
<rect x="88.70" y="282.10" width="31.10" height="13.50" rx="1" fill="#c9521f"/>
<text x="104.25" y="291.05" font-size="6.4" fill="#541809" color="#541809" text-anchor="middle">CDC6</text>
<rect x="134.50" y="272.60" width="31.10" height="14.40" rx="1" fill="#dea92b"/>
<text x="150.05" y="282.00" font-size="6.4" fill="#5d320c" color="#5d320c" text-anchor="middle">MRPL36</text>
<rect x="49.00" y="299.00" width="31.40" height="13.90" rx="1" fill="#d98621"/>
<text x="64.70" y="308.15" font-size="6.4" fill="#5b2809" color="#5b2809" text-anchor="middle">UBE2C</text>
<rect x="128.30" y="299.30" width="31.60" height="13.40" rx="1" fill="#c8501f"/>
<text x="144.10" y="308.20" font-size="6.4" fill="#541809" color="#541809" text-anchor="middle">CDC45</text>
<rect x="39.60" y="325.80" width="31.30" height="14.70" rx="1" fill="#e9dc32"/>
<text x="55.25" y="335.35" font-size="6.4" fill="#61420f" color="#61420f" text-anchor="middle">BARD1</text>
<rect x="144.10" y="326.60" width="31.10" height="13.30" rx="1" fill="#c73b25"/>
<text x="159.65" y="335.45" font-size="6.4" fill="#53110b" color="#53110b" text-anchor="middle">RFC3</text>
<rect x="43.70" y="353.30" width="31.10" height="14.20" rx="1" fill="#d3661f"/>
<text x="59.25" y="362.60" font-size="6.4" fill="#581e09" color="#581e09" text-anchor="middle">TIPIN</text>
<rect x="136.20" y="349.20" width="31.80" height="14.60" rx="1" fill="#dfae2b"/>
<text x="152.10" y="358.70" font-size="6.4" fill="#5d340c" color="#5d340c" text-anchor="middle">WDHD1</text>
<rect x="67.00" y="376.50" width="31.70" height="13.80" rx="1" fill="#dfb02b"/>
<text x="82.85" y="385.60" font-size="6.4" fill="#5d340c" color="#5d340c" text-anchor="middle">MCM9</text>
<rect x="113.80" y="376.60" width="31.10" height="13.90" rx="1" fill="#c8202b"/>
<text x="129.35" y="385.75" font-size="6.4" fill="#54090c" color="#54090c" text-anchor="middle">RAD51</text>
<text x="317.80" y="261.00" font-size="8.9" fill="#2e2e2e" color="#2e2e2e" class="big" textLength="157.00" lengthAdjust="spacingAndGlyphs">Gene Ontology: hub gene network - IC1</text>
<rect x="340.5" y="266.3" width="114.0" height="119.19999999999999" fill="none" stroke="#000" stroke-width="1.1"/>
<line x1="337.40" y1="271.80" x2="340.50" y2="271.80" stroke="#000" stroke-width="0.9"/>
<text x="255.00" y="273.90" font-size="6.7" fill="#2e2e2e" color="#2e2e2e" textLength="79.30" lengthAdjust="spacingAndGlyphs">DTDR_fidelity maintenance</text>
<line x1="337.40" y1="283.09" x2="340.50" y2="283.09" stroke="#000" stroke-width="0.9"/>
<text x="216.00" y="285.19" font-size="6.7" fill="#2e2e2e" color="#2e2e2e" textLength="118.30" lengthAdjust="spacingAndGlyphs">DNA templated DNA replication (DTDR)</text>
<line x1="337.40" y1="294.38" x2="340.50" y2="294.38" stroke="#000" stroke-width="0.9"/>
<text x="232.00" y="296.48" font-size="6.7" fill="#2e2e2e" color="#2e2e2e" textLength="102.30" lengthAdjust="spacingAndGlyphs">DNA integrity checkpoint signaling</text>
<line x1="337.40" y1="305.67" x2="340.50" y2="305.67" stroke="#000" stroke-width="0.9"/>
<text x="287.70" y="307.77" font-size="6.7" fill="#2e2e2e" color="#2e2e2e" textLength="46.60" lengthAdjust="spacingAndGlyphs">DNA replication</text>
<line x1="337.40" y1="316.96" x2="340.50" y2="316.96" stroke="#000" stroke-width="0.9"/>
<text x="244.90" y="319.06" font-size="6.7" fill="#2e2e2e" color="#2e2e2e" textLength="89.40" lengthAdjust="spacingAndGlyphs">Cell cycle checkpoint signaling</text>
<line x1="337.40" y1="328.25" x2="340.50" y2="328.25" stroke="#000" stroke-width="0.9"/>
<text x="218.80" y="330.35" font-size="6.7" fill="#2e2e2e" color="#2e2e2e" textLength="115.50" lengthAdjust="spacingAndGlyphs">Regulation of cell cycle phase transition</text>
<line x1="337.40" y1="339.54" x2="340.50" y2="339.54" stroke="#000" stroke-width="0.9"/>
<text x="258.30" y="341.64" font-size="6.7" fill="#2e2e2e" color="#2e2e2e" textLength="76.00" lengthAdjust="spacingAndGlyphs">Cell cycle phase transition</text>
<line x1="337.40" y1="350.83" x2="340.50" y2="350.83" stroke="#000" stroke-width="0.9"/>
<text x="208.10" y="352.93" font-size="6.7" fill="#2e2e2e" color="#2e2e2e" textLength="126.20" lengthAdjust="spacingAndGlyphs">Cellular response to DNA damage stimulus</text>
<line x1="337.40" y1="362.12" x2="340.50" y2="362.12" stroke="#000" stroke-width="0.9"/>
<text x="265.20" y="364.22" font-size="6.7" fill="#2e2e2e" color="#2e2e2e" textLength="69.10" lengthAdjust="spacingAndGlyphs">DNA metabolic process</text>
<line x1="337.40" y1="373.41" x2="340.50" y2="373.41" stroke="#000" stroke-width="0.9"/>
<text x="286.00" y="375.51" font-size="6.7" fill="#2e2e2e" color="#2e2e2e" textLength="48.30" lengthAdjust="spacingAndGlyphs">Mitotic cell cycle</text>
<line x1="340.50" y1="385.50" x2="340.50" y2="388.00" stroke="#000" stroke-width="0.9"/>
<text x="340.50" y="396.70" font-size="6.8" fill="#2e2e2e" color="#2e2e2e" text-anchor="middle" textLength="12.50" lengthAdjust="spacingAndGlyphs">0.00</text>
<line x1="369.00" y1="385.50" x2="369.00" y2="388.00" stroke="#000" stroke-width="0.9"/>
<text x="369.00" y="396.70" font-size="6.8" fill="#2e2e2e" color="#2e2e2e" text-anchor="middle" textLength="12.50" lengthAdjust="spacingAndGlyphs">0.02</text>
<line x1="397.50" y1="385.50" x2="397.50" y2="388.00" stroke="#000" stroke-width="0.9"/>
<text x="397.50" y="396.70" font-size="6.8" fill="#2e2e2e" color="#2e2e2e" text-anchor="middle" textLength="12.50" lengthAdjust="spacingAndGlyphs">0.04</text>
<line x1="426.00" y1="385.50" x2="426.00" y2="388.00" stroke="#000" stroke-width="0.9"/>
<text x="426.00" y="396.70" font-size="6.8" fill="#2e2e2e" color="#2e2e2e" text-anchor="middle" textLength="12.50" lengthAdjust="spacingAndGlyphs">0.06</text>
<line x1="454.50" y1="385.50" x2="454.50" y2="388.00" stroke="#000" stroke-width="0.9"/>
<text x="454.50" y="396.70" font-size="6.8" fill="#2e2e2e" color="#2e2e2e" text-anchor="middle" textLength="12.50" lengthAdjust="spacingAndGlyphs">0.08</text>
<line x1="337.60" y1="385.50" x2="340.50" y2="385.50" stroke="#000" stroke-width="0.9"/>
<text x="381.75" y="408.00" font-size="8.0" fill="#2e2e2e" color="#2e2e2e" textLength="31.20" lengthAdjust="spacingAndGlyphs">Gene ratio</text>
<circle cx="442.00" cy="271.70" r="2.30" fill="#c4c4c4"/>
<circle cx="411.20" cy="283.20" r="3.40" fill="#5c1068"/>
<circle cx="394.30" cy="294.30" r="2.50" fill="#b8b8b8"/>
<circle cx="381.50" cy="305.80" r="3.40" fill="#6a1a70"/>
<circle cx="378.50" cy="316.90" r="2.50" fill="#c0c0c0"/>
<circle cx="359.20" cy="328.20" r="2.70" fill="#c0c0c0"/>
<circle cx="355.20" cy="339.50" r="2.70" fill="#c4c4c4"/>
<circle cx="352.20" cy="350.80" r="2.80" fill="#c0c0c0"/>
<circle cx="351.50" cy="362.20" r="3.00" fill="#a48cb4"/>
<circle cx="351.20" cy="373.50" r="2.80" fill="#c0c0c0"/>
<text x="459.00" y="276.50" font-size="6.7" fill="#2e2e2e" color="#2e2e2e" textLength="51.00" lengthAdjust="spacingAndGlyphs">Number of genes</text>
<circle cx="465.30" cy="285.10" r="2.00" fill="#000"/>
<text x="471.00" y="287.40" font-size="6.6" fill="#2e2e2e" color="#2e2e2e">4</text>
<circle cx="465.30" cy="294.00" r="2.50" fill="#000"/>
<text x="471.00" y="296.30" font-size="6.6" fill="#2e2e2e" color="#2e2e2e">6</text>
<circle cx="465.30" cy="302.50" r="2.90" fill="#000"/>
<text x="471.00" y="304.80" font-size="6.6" fill="#2e2e2e" color="#2e2e2e">8</text>
<text x="458.70" y="321.90" font-size="6.7" fill="#2e2e2e" color="#2e2e2e" textLength="12.30" lengthAdjust="spacingAndGlyphs">−log</text>
<text x="471.00" y="323.40" font-size="4.0" fill="#c4b0cc" color="#c4b0cc" textLength="5.60" lengthAdjust="spacingAndGlyphs">10</text>
<text x="476.60" y="321.90" font-size="6.7" fill="#2e2e2e" color="#2e2e2e" textLength="15.60" lengthAdjust="spacingAndGlyphs">(FDR)</text>
<rect x="462.00" y="326.80" width="10.00" height="56.70" fill="url(#fdr)" stroke="#444" stroke-width="0.8"/>
<line x1="462.00" y1="340.50" x2="463.60" y2="340.50" stroke="#333" stroke-width="0.6"/>
<line x1="470.40" y1="340.50" x2="472.00" y2="340.50" stroke="#333" stroke-width="0.6"/>
<text x="482.20" y="342.80" font-size="6.6" fill="#2e2e2e" color="#2e2e2e" text-anchor="end">12</text>
<line x1="462.00" y1="354.70" x2="463.60" y2="354.70" stroke="#333" stroke-width="0.6"/>
<line x1="470.40" y1="354.70" x2="472.00" y2="354.70" stroke="#333" stroke-width="0.6"/>
<text x="482.20" y="357.00" font-size="6.6" fill="#2e2e2e" color="#2e2e2e" text-anchor="end">10</text>
<line x1="462.00" y1="369.40" x2="463.60" y2="369.40" stroke="#333" stroke-width="0.6"/>
<line x1="470.40" y1="369.40" x2="472.00" y2="369.40" stroke="#333" stroke-width="0.6"/>
<text x="482.20" y="371.70" font-size="6.6" fill="#2e2e2e" color="#2e2e2e" text-anchor="end">8</text>
</svg></div></body></html>
